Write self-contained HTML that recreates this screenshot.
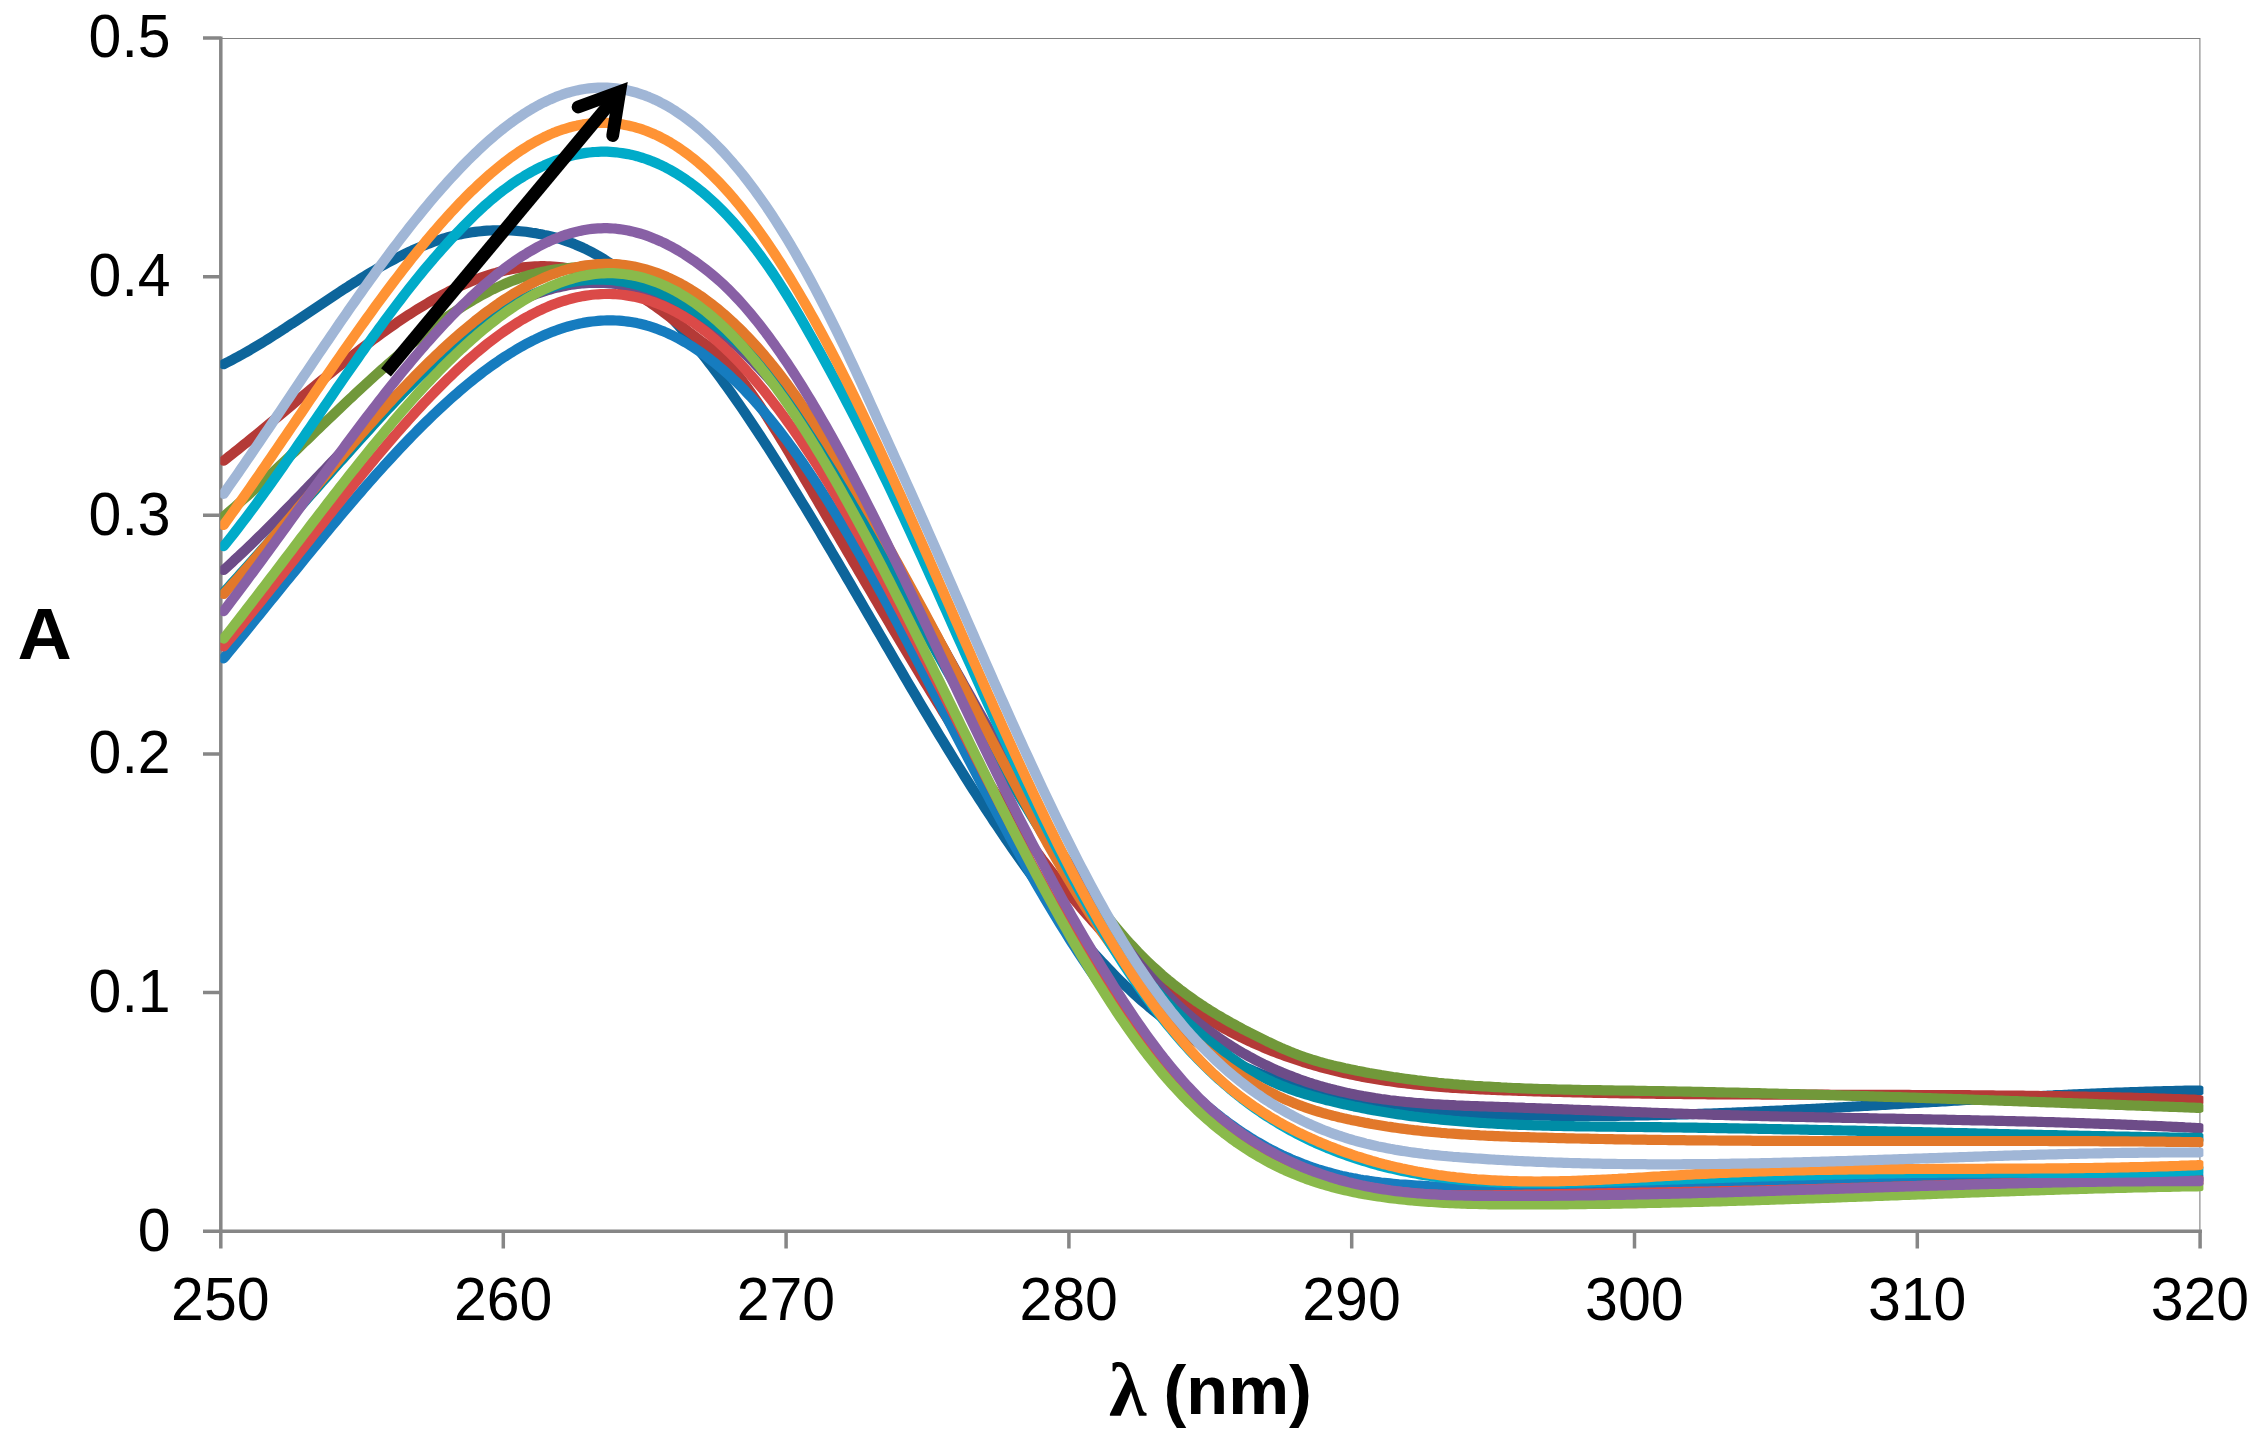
<!DOCTYPE html>
<html lang="en"><head><meta charset="utf-8"><title>UV absorption spectra</title>
<style>html,body{margin:0;padding:0;background:#fff}body{width:2262px;height:1450px;overflow:hidden}svg{display:block}text{font-family:"Liberation Sans",Arial,sans-serif;fill:#000}</style></head><body>
<svg width="2262" height="1450" viewBox="0 0 2262 1450">
<rect width="2262" height="1450" fill="#fff"/>
<defs><clipPath id="pc"><rect x="220.3" y="30" width="1983.1" height="1210"/></clipPath></defs>
<path d="M220.5,38.5 H2199.9 V1231.2" fill="none" stroke="#808080" stroke-width="1.1"/>
<path d="M220.8,36.4 V1248.5 M203,1231.2 H2202 M203,1231.2 H221 M203,992.6 H221 M203,754.0 H221 M203,515.3 H221 M203,276.7 H221 M203,38.1 H221 M220.8,1231.2 V1248.5 M503.3,1231.2 V1248.5 M786.1,1231.2 V1248.5 M1068.9,1231.2 V1248.5 M1351.7,1231.2 V1248.5 M1634.5,1231.2 V1248.5 M1917.3,1231.2 V1248.5 M2200.1,1231.2 V1248.5" fill="none" stroke="#868686" stroke-width="3.5"/>
<g clip-path="url(#pc)" fill="none" stroke-width="10.2" stroke-linejoin="round" stroke-linecap="round">
<path d="M223.7,364.2 L226.0,363.0 L229.0,361.5 L232.0,359.9 L235.0,358.3 L238.0,356.7 L241.0,355.1 L244.0,353.4 L247.0,351.7 L250.0,350.0 L253.0,348.2 L256.0,346.4 L259.0,344.6 L262.0,342.8 L265.0,341.0 L268.0,339.1 L271.0,337.2 L274.0,335.3 L277.0,333.4 L280.0,331.5 L283.0,329.5 L286.0,327.6 L289.0,325.6 L292.0,323.6 L295.0,321.7 L298.0,319.7 L301.0,317.7 L304.0,315.7 L307.0,313.7 L310.0,311.7 L313.0,309.7 L316.0,307.7 L319.0,305.7 L322.0,303.7 L325.0,301.7 L328.0,299.7 L331.0,297.7 L334.0,295.7 L337.0,293.7 L340.0,291.8 L343.0,289.8 L346.0,287.9 L349.0,285.9 L352.0,284.0 L355.0,282.1 L358.0,280.3 L361.0,278.4 L364.0,276.5 L367.0,274.7 L370.0,272.9 L373.0,271.1 L376.0,269.4 L379.0,267.6 L382.0,265.9 L385.0,264.2 L388.0,262.6 L391.0,261.0 L394.0,259.4 L397.0,257.8 L400.0,256.3 L403.0,254.8 L406.0,253.3 L409.0,251.9 L412.0,250.5 L415.0,249.2 L418.0,247.9 L421.0,246.6 L424.0,245.4 L427.0,244.2 L430.0,243.1 L433.0,242.0 L436.0,241.0 L439.0,240.0 L442.0,239.0 L445.0,238.1 L448.0,237.3 L451.0,236.5 L454.0,235.8 L457.0,235.1 L460.0,234.4 L463.0,233.8 L466.0,233.3 L469.0,232.8 L472.0,232.3 L475.0,231.9 L478.0,231.5 L481.0,231.2 L484.0,230.9 L487.0,230.7 L490.0,230.5 L493.0,230.4 L496.0,230.3 L499.0,230.3 L502.0,230.3 L505.0,230.3 L508.0,230.4 L511.0,230.5 L514.0,230.7 L517.0,230.9 L520.0,231.2 L523.0,231.5 L526.0,231.8 L529.0,232.2 L532.0,232.7 L535.0,233.1 L538.0,233.7 L541.0,234.2 L544.0,234.9 L547.0,235.5 L550.0,236.2 L553.0,237.0 L556.0,237.8 L559.0,238.7 L562.0,239.6 L565.0,240.6 L568.0,241.7 L571.0,242.8 L574.0,243.9 L577.0,245.2 L580.0,246.5 L583.0,247.8 L586.0,249.2 L589.0,250.7 L592.0,252.3 L595.0,253.9 L598.0,255.6 L601.0,257.4 L604.0,259.2 L607.0,261.2 L610.0,263.1 L613.0,265.2 L616.0,267.3 L619.0,269.5 L622.0,271.7 L625.0,274.0 L628.0,276.4 L631.0,278.9 L634.0,281.4 L637.0,283.9 L640.0,286.6 L643.0,289.3 L646.0,292.0 L649.0,294.8 L652.0,297.7 L655.0,300.6 L658.0,303.6 L661.0,306.7 L664.0,309.8 L667.0,312.9 L670.0,316.2 L673.0,319.4 L676.0,322.8 L679.0,326.1 L682.0,329.6 L685.0,333.1 L688.0,336.6 L691.0,340.2 L694.0,343.8 L697.0,347.5 L700.0,351.3 L703.0,355.1 L706.0,358.9 L709.0,362.8 L712.0,366.7 L715.0,370.7 L718.0,374.7 L721.0,378.8 L724.0,382.9 L727.0,387.1 L730.0,391.3 L733.0,395.5 L736.0,399.8 L739.0,404.1 L742.0,408.5 L745.0,412.9 L748.0,417.3 L751.0,421.8 L754.0,426.3 L757.0,430.8 L760.0,435.4 L763.0,440.0 L766.0,444.6 L769.0,449.3 L772.0,454.0 L775.0,458.7 L778.0,463.5 L781.0,468.2 L784.0,473.0 L787.0,477.8 L790.0,482.7 L793.0,487.6 L796.0,492.5 L799.0,497.4 L802.0,502.3 L805.0,507.2 L808.0,512.2 L811.0,517.2 L814.0,522.2 L817.0,527.2 L820.0,532.2 L823.0,537.3 L826.0,542.3 L829.0,547.4 L832.0,552.5 L835.0,557.6 L838.0,562.7 L841.0,567.8 L844.0,572.9 L847.0,578.1 L850.0,583.2 L853.0,588.3 L856.0,593.5 L859.0,598.6 L862.0,603.8 L865.0,609.0 L868.0,614.1 L871.0,619.3 L874.0,624.4 L877.0,629.6 L880.0,634.8 L883.0,639.9 L886.0,645.1 L889.0,650.2 L892.0,655.3 L895.0,660.5 L898.0,665.6 L901.0,670.7 L904.0,675.9 L907.0,681.0 L910.0,686.1 L913.0,691.1 L916.0,696.2 L919.0,701.3 L922.0,706.3 L925.0,711.4 L928.0,716.4 L931.0,721.4 L934.0,726.4 L937.0,731.4 L940.0,736.3 L943.0,741.2 L946.0,746.2 L949.0,751.0 L952.0,755.9 L955.0,760.8 L958.0,765.6 L961.0,770.4 L964.0,775.2 L967.0,779.9 L970.0,784.7 L973.0,789.4 L976.0,794.0 L979.0,798.7 L982.0,803.3 L985.0,807.9 L988.0,812.5 L991.0,817.0 L994.0,821.6 L997.0,826.0 L1000.0,830.5 L1003.0,834.9 L1006.0,839.3 L1009.0,843.7 L1012.0,848.0 L1015.0,852.3 L1018.0,856.6 L1021.0,860.9 L1024.0,865.1 L1027.0,869.2 L1030.0,873.4 L1033.0,877.5 L1036.0,881.6 L1039.0,885.6 L1042.0,889.6 L1045.0,893.6 L1048.0,897.5 L1051.0,901.4 L1054.0,905.3 L1057.0,909.1 L1060.0,912.9 L1063.0,916.7 L1066.0,920.4 L1069.0,924.1 L1072.0,927.7 L1075.0,931.3 L1078.0,934.9 L1081.0,938.4 L1084.0,941.9 L1087.0,945.3 L1090.0,948.7 L1093.0,952.1 L1096.0,955.4 L1099.0,958.7 L1102.0,961.9 L1105.0,965.1 L1108.0,968.3 L1111.0,971.4 L1114.0,974.5 L1117.0,977.5 L1120.0,980.5 L1123.0,983.4 L1126.0,986.3 L1129.0,989.1 L1132.0,991.9 L1135.0,994.7 L1138.0,997.4 L1141.0,1000.1 L1144.0,1002.7 L1147.0,1005.2 L1150.0,1007.8 L1153.0,1010.2 L1156.0,1012.7 L1159.0,1015.1 L1162.0,1017.4 L1165.0,1019.7 L1168.0,1022.0 L1171.0,1024.2 L1174.0,1026.4 L1177.0,1028.5 L1180.0,1030.6 L1183.0,1032.7 L1186.0,1034.7 L1189.0,1036.7 L1192.0,1038.7 L1195.0,1040.6 L1198.0,1042.4 L1201.0,1044.3 L1204.0,1046.1 L1207.0,1047.8 L1210.0,1049.6 L1213.0,1051.3 L1216.0,1052.9 L1219.0,1054.5 L1222.0,1056.1 L1225.0,1057.7 L1228.0,1059.2 L1231.0,1060.7 L1234.0,1062.2 L1237.0,1063.6 L1240.0,1065.0 L1243.0,1066.4 L1246.0,1067.7 L1249.0,1069.0 L1252.0,1070.3 L1255.0,1071.6 L1258.0,1072.8 L1261.0,1074.0 L1264.0,1075.1 L1267.0,1076.3 L1270.0,1077.4 L1273.0,1078.5 L1276.0,1079.6 L1279.0,1080.6 L1282.0,1081.6 L1285.0,1082.6 L1288.0,1083.6 L1291.0,1084.5 L1294.0,1085.5 L1297.0,1086.4 L1300.0,1087.2 L1303.0,1088.1 L1306.0,1088.9 L1309.0,1089.8 L1312.0,1090.6 L1315.0,1091.3 L1318.0,1092.1 L1321.0,1092.9 L1324.0,1093.6 L1327.0,1094.3 L1330.0,1095.0 L1333.0,1095.7 L1336.0,1096.3 L1339.0,1097.0 L1342.0,1097.6 L1345.0,1098.2 L1348.0,1098.8 L1351.0,1099.4 L1354.0,1100.0 L1357.0,1100.5 L1360.0,1101.1 L1363.0,1101.6 L1366.0,1102.1 L1369.0,1102.6 L1372.0,1103.1 L1375.0,1103.6 L1378.0,1104.1 L1381.0,1104.5 L1384.0,1105.0 L1387.0,1105.4 L1390.0,1105.8 L1393.0,1106.2 L1396.0,1106.6 L1399.0,1107.0 L1402.0,1107.4 L1405.0,1107.7 L1408.0,1108.1 L1411.0,1108.4 L1414.0,1108.8 L1417.0,1109.1 L1420.0,1109.4 L1423.0,1109.7 L1426.0,1110.0 L1429.0,1110.3 L1432.0,1110.5 L1435.0,1110.8 L1438.0,1111.0 L1441.0,1111.3 L1444.0,1111.5 L1447.0,1111.8 L1450.0,1112.0 L1453.0,1112.2 L1456.0,1112.4 L1459.0,1112.6 L1462.0,1112.8 L1465.0,1112.9 L1468.0,1113.1 L1471.0,1113.3 L1474.0,1113.4 L1477.0,1113.6 L1480.0,1113.7 L1483.0,1113.9 L1486.0,1114.0 L1489.0,1114.1 L1492.0,1114.3 L1495.0,1114.4 L1498.0,1114.5 L1501.0,1114.6 L1504.0,1114.7 L1507.0,1114.8 L1510.0,1114.9 L1513.0,1115.0 L1516.0,1115.1 L1519.0,1115.1 L1522.0,1115.2 L1525.0,1115.3 L1528.0,1115.4 L1531.0,1115.4 L1534.0,1115.5 L1537.0,1115.5 L1540.0,1115.6 L1543.0,1115.6 L1546.0,1115.7 L1549.0,1115.7 L1552.0,1115.8 L1555.0,1115.8 L1558.0,1115.8 L1561.0,1115.9 L1564.0,1115.9 L1567.0,1115.9 L1570.0,1115.9 L1573.0,1115.9 L1576.0,1115.9 L1579.0,1115.9 L1582.0,1116.0 L1585.0,1116.0 L1588.0,1116.0 L1591.0,1115.9 L1594.0,1115.9 L1597.0,1115.9 L1600.0,1115.9 L1603.0,1115.9 L1606.0,1115.9 L1609.0,1115.9 L1612.0,1115.8 L1615.0,1115.8 L1618.0,1115.8 L1621.0,1115.7 L1624.0,1115.7 L1627.0,1115.6 L1630.0,1115.6 L1633.0,1115.6 L1636.0,1115.5 L1639.0,1115.5 L1642.0,1115.4 L1645.0,1115.3 L1648.0,1115.3 L1651.0,1115.2 L1654.0,1115.2 L1657.0,1115.1 L1660.0,1115.0 L1663.0,1114.9 L1666.0,1114.9 L1669.0,1114.8 L1672.0,1114.7 L1675.0,1114.6 L1678.0,1114.5 L1681.0,1114.5 L1684.0,1114.4 L1687.0,1114.3 L1690.0,1114.2 L1693.0,1114.1 L1696.0,1114.0 L1699.0,1113.9 L1702.0,1113.8 L1705.0,1113.7 L1708.0,1113.6 L1711.0,1113.5 L1714.0,1113.4 L1717.0,1113.3 L1720.0,1113.1 L1723.0,1113.0 L1726.0,1112.9 L1729.0,1112.8 L1732.0,1112.7 L1735.0,1112.5 L1738.0,1112.4 L1741.0,1112.3 L1744.0,1112.2 L1747.0,1112.0 L1750.0,1111.9 L1753.0,1111.8 L1756.0,1111.6 L1759.0,1111.5 L1762.0,1111.4 L1765.0,1111.2 L1768.0,1111.1 L1771.0,1110.9 L1774.0,1110.8 L1777.0,1110.6 L1780.0,1110.5 L1783.0,1110.4 L1786.0,1110.2 L1789.0,1110.1 L1792.0,1109.9 L1795.0,1109.8 L1798.0,1109.6 L1801.0,1109.4 L1804.0,1109.3 L1807.0,1109.1 L1810.0,1109.0 L1813.0,1108.8 L1816.0,1108.7 L1819.0,1108.5 L1822.0,1108.3 L1825.0,1108.2 L1828.0,1108.0 L1831.0,1107.8 L1834.0,1107.7 L1837.0,1107.5 L1840.0,1107.3 L1843.0,1107.2 L1846.0,1107.0 L1849.0,1106.8 L1852.0,1106.7 L1855.0,1106.5 L1858.0,1106.3 L1861.0,1106.2 L1864.0,1106.0 L1867.0,1105.8 L1870.0,1105.6 L1873.0,1105.5 L1876.0,1105.3 L1879.0,1105.1 L1882.0,1104.9 L1885.0,1104.8 L1888.0,1104.6 L1891.0,1104.4 L1894.0,1104.2 L1897.0,1104.1 L1900.0,1103.9 L1903.0,1103.7 L1906.0,1103.5 L1909.0,1103.4 L1912.0,1103.2 L1915.0,1103.0 L1918.0,1102.8 L1921.0,1102.7 L1924.0,1102.5 L1927.0,1102.3 L1930.0,1102.1 L1933.0,1102.0 L1936.0,1101.8 L1939.0,1101.6 L1942.0,1101.4 L1945.0,1101.3 L1948.0,1101.1 L1951.0,1100.9 L1954.0,1100.7 L1957.0,1100.6 L1960.0,1100.4 L1963.0,1100.2 L1966.0,1100.0 L1969.0,1099.9 L1972.0,1099.7 L1975.0,1099.5 L1978.0,1099.4 L1981.0,1099.2 L1984.0,1099.0 L1987.0,1098.9 L1990.0,1098.7 L1993.0,1098.5 L1996.0,1098.4 L1999.0,1098.2 L2002.0,1098.0 L2005.0,1097.9 L2008.0,1097.7 L2011.0,1097.5 L2014.0,1097.4 L2017.0,1097.2 L2020.0,1097.1 L2023.0,1096.9 L2026.0,1096.7 L2029.0,1096.6 L2032.0,1096.4 L2035.0,1096.3 L2038.0,1096.1 L2041.0,1096.0 L2044.0,1095.8 L2047.0,1095.7 L2050.0,1095.5 L2053.0,1095.4 L2056.0,1095.2 L2059.0,1095.1 L2062.0,1095.0 L2065.0,1094.8 L2068.0,1094.7 L2071.0,1094.5 L2074.0,1094.4 L2077.0,1094.3 L2080.0,1094.1 L2083.0,1094.0 L2086.0,1093.9 L2089.0,1093.8 L2092.0,1093.6 L2095.0,1093.5 L2098.0,1093.4 L2101.0,1093.3 L2104.0,1093.1 L2107.0,1093.0 L2110.0,1092.9 L2113.0,1092.8 L2116.0,1092.7 L2119.0,1092.6 L2122.0,1092.5 L2125.0,1092.4 L2128.0,1092.3 L2131.0,1092.2 L2134.0,1092.1 L2137.0,1092.0 L2140.0,1091.9 L2143.0,1091.8 L2146.0,1091.7 L2149.0,1091.6 L2152.0,1091.5 L2155.0,1091.4 L2158.0,1091.3 L2161.0,1091.3 L2164.0,1091.2 L2167.0,1091.1 L2170.0,1091.0 L2173.0,1091.0 L2176.0,1090.9 L2179.0,1090.8 L2182.0,1090.8 L2185.0,1090.7 L2188.0,1090.7 L2191.0,1090.6 L2194.0,1090.6 L2197.0,1090.5 L2200.0,1090.5" stroke="#0D659B"/>
<path d="M223.7,460.7 L226.0,458.9 L229.0,456.5 L232.0,454.2 L235.0,451.8 L238.0,449.4 L241.0,447.0 L244.0,444.6 L247.0,442.2 L250.0,439.7 L253.0,437.3 L256.0,434.8 L259.0,432.4 L262.0,429.9 L265.0,427.4 L268.0,424.9 L271.0,422.4 L274.0,420.0 L277.0,417.5 L280.0,415.0 L283.0,412.5 L286.0,410.0 L289.0,407.5 L292.0,405.0 L295.0,402.4 L298.0,399.9 L301.0,397.4 L304.0,394.9 L307.0,392.5 L310.0,390.0 L313.0,387.5 L316.0,385.0 L319.0,382.5 L322.0,380.1 L325.0,377.6 L328.0,375.1 L331.0,372.7 L334.0,370.3 L337.0,367.8 L340.0,365.4 L343.0,363.0 L346.0,360.6 L349.0,358.3 L352.0,355.9 L355.0,353.6 L358.0,351.2 L361.0,348.9 L364.0,346.6 L367.0,344.3 L370.0,342.1 L373.0,339.8 L376.0,337.6 L379.0,335.4 L382.0,333.2 L385.0,331.1 L388.0,328.9 L391.0,326.8 L394.0,324.7 L397.0,322.6 L400.0,320.6 L403.0,318.6 L406.0,316.6 L409.0,314.6 L412.0,312.7 L415.0,310.8 L418.0,308.9 L421.0,307.1 L424.0,305.3 L427.0,303.5 L430.0,301.7 L433.0,300.0 L436.0,298.3 L439.0,296.7 L442.0,295.1 L445.0,293.5 L448.0,291.9 L451.0,290.4 L454.0,289.0 L457.0,287.5 L460.0,286.2 L463.0,284.8 L466.0,283.5 L469.0,282.2 L472.0,281.0 L475.0,279.8 L478.0,278.7 L481.0,277.6 L484.0,276.6 L487.0,275.6 L490.0,274.6 L493.0,273.7 L496.0,272.9 L499.0,272.0 L502.0,271.3 L505.0,270.6 L508.0,269.9 L511.0,269.3 L514.0,268.8 L517.0,268.2 L520.0,267.8 L523.0,267.4 L526.0,267.1 L529.0,266.8 L532.0,266.6 L535.0,266.4 L538.0,266.3 L541.0,266.2 L544.0,266.2 L547.0,266.3 L550.0,266.4 L553.0,266.5 L556.0,266.8 L559.0,267.1 L562.0,267.4 L565.0,267.8 L568.0,268.2 L571.0,268.7 L574.0,269.3 L577.0,269.9 L580.0,270.6 L583.0,271.3 L586.0,272.1 L589.0,273.0 L592.0,273.9 L595.0,274.8 L598.0,275.9 L601.0,276.9 L604.0,278.1 L607.0,279.2 L610.0,280.5 L613.0,281.8 L616.0,283.2 L619.0,284.6 L622.0,286.1 L625.0,287.6 L628.0,289.2 L631.0,290.8 L634.0,292.5 L637.0,294.3 L640.0,296.1 L643.0,298.0 L646.0,299.9 L649.0,301.9 L652.0,304.0 L655.0,306.1 L658.0,308.2 L661.0,310.4 L664.0,312.7 L667.0,315.0 L670.0,317.3 L673.0,319.6 L676.0,321.9 L679.0,324.3 L682.0,326.6 L685.0,328.9 L688.0,331.2 L691.0,333.5 L694.0,335.8 L697.0,338.1 L700.0,340.3 L703.0,342.5 L706.0,344.6 L709.0,346.8 L712.0,349.1 L715.0,351.4 L718.0,353.9 L721.0,356.6 L724.0,359.5 L727.0,362.5 L730.0,365.8 L733.0,369.2 L736.0,372.7 L739.0,376.5 L742.0,380.3 L745.0,384.3 L748.0,388.4 L751.0,392.6 L754.0,397.0 L757.0,401.4 L760.0,405.9 L763.0,410.5 L766.0,415.2 L769.0,419.9 L772.0,424.7 L775.0,429.5 L778.0,434.4 L781.0,439.3 L784.0,444.2 L787.0,449.2 L790.0,454.2 L793.0,459.3 L796.0,464.3 L799.0,469.4 L802.0,474.5 L805.0,479.6 L808.0,484.6 L811.0,489.7 L814.0,494.8 L817.0,499.9 L820.0,505.1 L823.0,510.2 L826.0,515.3 L829.0,520.4 L832.0,525.5 L835.0,530.6 L838.0,535.8 L841.0,540.9 L844.0,546.0 L847.0,551.1 L850.0,556.2 L853.0,561.4 L856.0,566.5 L859.0,571.6 L862.0,576.7 L865.0,581.8 L868.0,586.9 L871.0,592.0 L874.0,597.1 L877.0,602.2 L880.0,607.3 L883.0,612.4 L886.0,617.4 L889.0,622.5 L892.0,627.6 L895.0,632.6 L898.0,637.6 L901.0,642.7 L904.0,647.7 L907.0,652.7 L910.0,657.7 L913.0,662.7 L916.0,667.7 L919.0,672.6 L922.0,677.6 L925.0,682.5 L928.0,687.4 L931.0,692.3 L934.0,697.2 L937.0,702.1 L940.0,706.9 L943.0,711.8 L946.0,716.6 L949.0,721.4 L952.0,726.2 L955.0,731.0 L958.0,735.7 L961.0,740.5 L964.0,745.2 L967.0,749.9 L970.0,754.5 L973.0,759.2 L976.0,763.8 L979.0,768.4 L982.0,773.0 L985.0,777.5 L988.0,782.1 L991.0,786.6 L994.0,791.1 L997.0,795.5 L1000.0,800.0 L1003.0,804.4 L1006.0,808.7 L1009.0,813.1 L1012.0,817.4 L1015.0,821.7 L1018.0,826.0 L1021.0,830.2 L1024.0,834.4 L1027.0,838.6 L1030.0,842.7 L1033.0,846.8 L1036.0,850.9 L1039.0,854.9 L1042.0,859.0 L1045.0,862.9 L1048.0,866.9 L1051.0,870.8 L1054.0,874.7 L1057.0,878.5 L1060.0,882.3 L1063.0,886.1 L1066.0,889.8 L1069.0,893.5 L1072.0,897.1 L1075.0,900.8 L1078.0,904.3 L1081.0,907.9 L1084.0,911.4 L1087.0,914.8 L1090.0,918.2 L1093.0,921.6 L1096.0,924.9 L1099.0,928.2 L1102.0,931.4 L1105.0,934.6 L1108.0,937.8 L1111.0,940.9 L1114.0,944.0 L1117.0,947.0 L1120.0,949.9 L1123.0,952.9 L1126.0,955.8 L1129.0,958.6 L1132.0,961.4 L1135.0,964.2 L1138.0,966.9 L1141.0,969.6 L1144.0,972.2 L1147.0,974.8 L1150.0,977.3 L1153.0,979.8 L1156.0,982.3 L1159.0,984.7 L1162.0,987.1 L1165.0,989.5 L1168.0,991.8 L1171.0,994.1 L1174.0,996.3 L1177.0,998.5 L1180.0,1000.7 L1183.0,1002.8 L1186.0,1004.9 L1189.0,1007.0 L1192.0,1009.0 L1195.0,1011.0 L1198.0,1012.9 L1201.0,1014.8 L1204.0,1016.7 L1207.0,1018.6 L1210.0,1020.4 L1213.0,1022.2 L1216.0,1023.9 L1219.0,1025.6 L1222.0,1027.3 L1225.0,1029.0 L1228.0,1030.6 L1231.0,1032.2 L1234.0,1033.7 L1237.0,1035.3 L1240.0,1036.8 L1243.0,1038.2 L1246.0,1039.7 L1249.0,1041.1 L1252.0,1042.5 L1255.0,1043.8 L1258.0,1045.1 L1261.0,1046.4 L1264.0,1047.7 L1267.0,1049.0 L1270.0,1050.2 L1273.0,1051.4 L1276.0,1052.5 L1279.0,1053.7 L1282.0,1054.8 L1285.0,1055.9 L1288.0,1057.0 L1291.0,1058.0 L1294.0,1059.0 L1297.0,1060.0 L1300.0,1061.0 L1303.0,1062.0 L1306.0,1062.9 L1309.0,1063.8 L1312.0,1064.7 L1315.0,1065.6 L1318.0,1066.4 L1321.0,1067.3 L1324.0,1068.1 L1327.0,1068.9 L1330.0,1069.6 L1333.0,1070.4 L1336.0,1071.1 L1339.0,1071.8 L1342.0,1072.5 L1345.0,1073.2 L1348.0,1073.8 L1351.0,1074.5 L1354.0,1075.1 L1357.0,1075.7 L1360.0,1076.3 L1363.0,1076.9 L1366.0,1077.4 L1369.0,1078.0 L1372.0,1078.5 L1375.0,1079.0 L1378.0,1079.5 L1381.0,1080.0 L1384.0,1080.4 L1387.0,1080.9 L1390.0,1081.3 L1393.0,1081.8 L1396.0,1082.2 L1399.0,1082.6 L1402.0,1082.9 L1405.0,1083.3 L1408.0,1083.7 L1411.0,1084.0 L1414.0,1084.4 L1417.0,1084.7 L1420.0,1085.0 L1423.0,1085.3 L1426.0,1085.6 L1429.0,1085.9 L1432.0,1086.1 L1435.0,1086.4 L1438.0,1086.6 L1441.0,1086.9 L1444.0,1087.1 L1447.0,1087.3 L1450.0,1087.6 L1453.0,1087.8 L1456.0,1088.0 L1459.0,1088.2 L1462.0,1088.3 L1465.0,1088.5 L1468.0,1088.7 L1471.0,1088.9 L1474.0,1089.0 L1477.0,1089.2 L1480.0,1089.3 L1483.0,1089.4 L1486.0,1089.6 L1489.0,1089.7 L1492.0,1089.8 L1495.0,1090.0 L1498.0,1090.1 L1501.0,1090.2 L1504.0,1090.3 L1507.0,1090.4 L1510.0,1090.5 L1513.0,1090.6 L1516.0,1090.7 L1519.0,1090.8 L1522.0,1090.9 L1525.0,1091.0 L1528.0,1091.1 L1531.0,1091.2 L1534.0,1091.3 L1537.0,1091.4 L1540.0,1091.5 L1543.0,1091.6 L1546.0,1091.6 L1549.0,1091.7 L1552.0,1091.8 L1555.0,1091.9 L1558.0,1092.0 L1561.0,1092.0 L1564.0,1092.1 L1567.0,1092.2 L1570.0,1092.2 L1573.0,1092.3 L1576.0,1092.4 L1579.0,1092.5 L1582.0,1092.5 L1585.0,1092.6 L1588.0,1092.6 L1591.0,1092.7 L1594.0,1092.8 L1597.0,1092.8 L1600.0,1092.9 L1603.0,1092.9 L1606.0,1093.0 L1609.0,1093.1 L1612.0,1093.1 L1615.0,1093.2 L1618.0,1093.2 L1621.0,1093.3 L1624.0,1093.3 L1627.0,1093.4 L1630.0,1093.4 L1633.0,1093.4 L1636.0,1093.5 L1639.0,1093.5 L1642.0,1093.6 L1645.0,1093.6 L1648.0,1093.7 L1651.0,1093.7 L1654.0,1093.7 L1657.0,1093.8 L1660.0,1093.8 L1663.0,1093.8 L1666.0,1093.9 L1669.0,1093.9 L1672.0,1093.9 L1675.0,1094.0 L1678.0,1094.0 L1681.0,1094.0 L1684.0,1094.1 L1687.0,1094.1 L1690.0,1094.1 L1693.0,1094.1 L1696.0,1094.2 L1699.0,1094.2 L1702.0,1094.2 L1705.0,1094.2 L1708.0,1094.3 L1711.0,1094.3 L1714.0,1094.3 L1717.0,1094.3 L1720.0,1094.3 L1723.0,1094.4 L1726.0,1094.4 L1729.0,1094.4 L1732.0,1094.4 L1735.0,1094.4 L1738.0,1094.4 L1741.0,1094.5 L1744.0,1094.5 L1747.0,1094.5 L1750.0,1094.5 L1753.0,1094.5 L1756.0,1094.5 L1759.0,1094.5 L1762.0,1094.6 L1765.0,1094.6 L1768.0,1094.6 L1771.0,1094.6 L1774.0,1094.6 L1777.0,1094.6 L1780.0,1094.6 L1783.0,1094.6 L1786.0,1094.6 L1789.0,1094.6 L1792.0,1094.7 L1795.0,1094.7 L1798.0,1094.7 L1801.0,1094.7 L1804.0,1094.7 L1807.0,1094.7 L1810.0,1094.7 L1813.0,1094.7 L1816.0,1094.7 L1819.0,1094.7 L1822.0,1094.7 L1825.0,1094.7 L1828.0,1094.7 L1831.0,1094.8 L1834.0,1094.8 L1837.0,1094.8 L1840.0,1094.8 L1843.0,1094.8 L1846.0,1094.8 L1849.0,1094.8 L1852.0,1094.8 L1855.0,1094.8 L1858.0,1094.8 L1861.0,1094.8 L1864.0,1094.8 L1867.0,1094.8 L1870.0,1094.8 L1873.0,1094.8 L1876.0,1094.9 L1879.0,1094.9 L1882.0,1094.9 L1885.0,1094.9 L1888.0,1094.9 L1891.0,1094.9 L1894.0,1094.9 L1897.0,1094.9 L1900.0,1094.9 L1903.0,1094.9 L1906.0,1094.9 L1909.0,1094.9 L1912.0,1095.0 L1915.0,1095.0 L1918.0,1095.0 L1921.0,1095.0 L1924.0,1095.0 L1927.0,1095.0 L1930.0,1095.0 L1933.0,1095.0 L1936.0,1095.1 L1939.0,1095.1 L1942.0,1095.1 L1945.0,1095.1 L1948.0,1095.1 L1951.0,1095.1 L1954.0,1095.1 L1957.0,1095.2 L1960.0,1095.2 L1963.0,1095.2 L1966.0,1095.2 L1969.0,1095.2 L1972.0,1095.3 L1975.0,1095.3 L1978.0,1095.3 L1981.0,1095.3 L1984.0,1095.4 L1987.0,1095.4 L1990.0,1095.4 L1993.0,1095.4 L1996.0,1095.5 L1999.0,1095.5 L2002.0,1095.5 L2005.0,1095.5 L2008.0,1095.6 L2011.0,1095.6 L2014.0,1095.6 L2017.0,1095.7 L2020.0,1095.7 L2023.0,1095.7 L2026.0,1095.8 L2029.0,1095.8 L2032.0,1095.8 L2035.0,1095.9 L2038.0,1095.9 L2041.0,1096.0 L2044.0,1096.0 L2047.0,1096.0 L2050.0,1096.1 L2053.0,1096.1 L2056.0,1096.2 L2059.0,1096.2 L2062.0,1096.3 L2065.0,1096.3 L2068.0,1096.4 L2071.0,1096.4 L2074.0,1096.5 L2077.0,1096.5 L2080.0,1096.6 L2083.0,1096.6 L2086.0,1096.7 L2089.0,1096.8 L2092.0,1096.8 L2095.0,1096.9 L2098.0,1096.9 L2101.0,1097.0 L2104.0,1097.1 L2107.0,1097.1 L2110.0,1097.2 L2113.0,1097.3 L2116.0,1097.3 L2119.0,1097.4 L2122.0,1097.5 L2125.0,1097.6 L2128.0,1097.6 L2131.0,1097.7 L2134.0,1097.8 L2137.0,1097.9 L2140.0,1098.0 L2143.0,1098.1 L2146.0,1098.1 L2149.0,1098.2 L2152.0,1098.3 L2155.0,1098.4 L2158.0,1098.5 L2161.0,1098.6 L2164.0,1098.7 L2167.0,1098.8 L2170.0,1098.9 L2173.0,1099.0 L2176.0,1099.1 L2179.0,1099.2 L2182.0,1099.3 L2185.0,1099.4 L2188.0,1099.5 L2191.0,1099.6 L2194.0,1099.7 L2197.0,1099.9 L2200.0,1100.0" stroke="#B43A37"/>
<path d="M223.7,516.5 L226.0,514.5 L229.0,512.0 L232.0,509.4 L235.0,506.8 L238.0,504.1 L241.0,501.5 L244.0,498.8 L247.0,496.1 L250.0,493.4 L253.0,490.7 L256.0,488.0 L259.0,485.2 L262.0,482.5 L265.0,479.7 L268.0,476.9 L271.0,474.1 L274.0,471.3 L277.0,468.4 L280.0,465.6 L283.0,462.8 L286.0,459.9 L289.0,457.1 L292.0,454.2 L295.0,451.4 L298.0,448.5 L301.0,445.6 L304.0,442.7 L307.0,439.9 L310.0,437.0 L313.0,434.1 L316.0,431.2 L319.0,428.3 L322.0,425.4 L325.0,422.6 L328.0,419.7 L331.0,416.8 L334.0,414.0 L337.0,411.1 L340.0,408.3 L343.0,405.4 L346.0,402.6 L349.0,399.7 L352.0,396.9 L355.0,394.1 L358.0,391.3 L361.0,388.5 L364.0,385.8 L367.0,383.0 L370.0,380.3 L373.0,377.5 L376.0,374.8 L379.0,372.1 L382.0,369.4 L385.0,366.8 L388.0,364.1 L391.0,361.5 L394.0,358.9 L397.0,356.3 L400.0,353.7 L403.0,351.2 L406.0,348.7 L409.0,346.2 L412.0,343.7 L415.0,341.3 L418.0,338.9 L421.0,336.5 L424.0,334.1 L427.0,331.8 L430.0,329.5 L433.0,327.2 L436.0,325.0 L439.0,322.8 L442.0,320.6 L445.0,318.4 L448.0,316.3 L451.0,314.3 L454.0,312.2 L457.0,310.2 L460.0,308.3 L463.0,306.3 L466.0,304.4 L469.0,302.6 L472.0,300.8 L475.0,299.0 L478.0,297.3 L481.0,295.6 L484.0,294.0 L487.0,292.4 L490.0,290.8 L493.0,289.3 L496.0,287.9 L499.0,286.5 L502.0,285.1 L505.0,283.8 L508.0,282.5 L511.0,281.3 L514.0,280.2 L517.0,279.1 L520.0,278.0 L523.0,277.0 L526.0,276.1 L529.0,275.2 L532.0,274.3 L535.0,273.6 L538.0,272.8 L541.0,272.1 L544.0,271.5 L547.0,270.9 L550.0,270.4 L553.0,269.9 L556.0,269.4 L559.0,269.0 L562.0,268.6 L565.0,268.3 L568.0,268.0 L571.0,267.7 L574.0,267.5 L577.0,267.3 L580.0,267.2 L583.0,267.0 L586.0,267.0 L589.0,266.9 L592.0,266.9 L595.0,266.9 L598.0,267.0 L601.0,267.1 L604.0,267.2 L607.0,267.3 L610.0,267.5 L613.0,267.7 L616.0,268.0 L619.0,268.3 L622.0,268.7 L625.0,269.1 L628.0,269.5 L631.0,270.0 L634.0,270.5 L637.0,271.1 L640.0,271.8 L643.0,272.5 L646.0,273.2 L649.0,274.0 L652.0,274.9 L655.0,275.8 L658.0,276.7 L661.0,277.8 L664.0,278.9 L667.0,280.0 L670.0,281.2 L673.0,282.5 L676.0,283.9 L679.0,285.3 L682.0,286.8 L685.0,288.4 L688.0,290.0 L691.0,291.7 L694.0,293.5 L697.0,295.3 L700.0,297.3 L703.0,299.3 L706.0,301.4 L709.0,303.6 L712.0,305.8 L715.0,308.2 L718.0,310.6 L721.0,313.1 L724.0,315.7 L727.0,318.4 L730.0,321.2 L733.0,324.0 L736.0,326.9 L739.0,329.9 L742.0,332.9 L745.0,336.0 L748.0,339.2 L751.0,342.5 L754.0,345.9 L757.0,349.3 L760.0,352.7 L763.0,356.3 L766.0,359.9 L769.0,363.5 L772.0,367.3 L775.0,371.1 L778.0,374.9 L781.0,378.8 L784.0,382.8 L787.0,386.8 L790.0,390.9 L793.0,395.0 L796.0,399.2 L799.0,403.5 L802.0,407.8 L805.0,412.1 L808.0,416.5 L811.0,421.0 L814.0,425.5 L817.0,430.0 L820.0,434.6 L823.0,439.2 L826.0,443.9 L829.0,448.6 L832.0,453.4 L835.0,458.2 L838.0,463.0 L841.0,467.9 L844.0,472.8 L847.0,477.7 L850.0,482.7 L853.0,487.7 L856.0,492.7 L859.0,497.8 L862.0,502.9 L865.0,508.0 L868.0,513.2 L871.0,518.4 L874.0,523.6 L877.0,528.8 L880.0,534.1 L883.0,539.4 L886.0,544.7 L889.0,550.0 L892.0,555.3 L895.0,560.7 L898.0,566.0 L901.0,571.4 L904.0,576.8 L907.0,582.3 L910.0,587.7 L913.0,593.1 L916.0,598.6 L919.0,604.0 L922.0,609.5 L925.0,615.0 L928.0,620.4 L931.0,625.9 L934.0,631.4 L937.0,636.9 L940.0,642.4 L943.0,647.9 L946.0,653.4 L949.0,658.9 L952.0,664.3 L955.0,669.8 L958.0,675.3 L961.0,680.8 L964.0,686.2 L967.0,691.7 L970.0,697.1 L973.0,702.5 L976.0,707.9 L979.0,713.3 L982.0,718.7 L985.0,724.1 L988.0,729.5 L991.0,734.8 L994.0,740.1 L997.0,745.4 L1000.0,750.7 L1003.0,756.0 L1006.0,761.2 L1009.0,766.4 L1012.0,771.6 L1015.0,776.8 L1018.0,781.9 L1021.0,787.0 L1024.0,792.1 L1027.0,797.1 L1030.0,802.1 L1033.0,807.1 L1036.0,812.0 L1039.0,816.9 L1042.0,821.8 L1045.0,826.7 L1048.0,831.5 L1051.0,836.2 L1054.0,840.9 L1057.0,845.6 L1060.0,850.2 L1063.0,854.8 L1066.0,859.4 L1069.0,863.9 L1072.0,868.3 L1075.0,872.7 L1078.0,877.1 L1081.0,881.3 L1084.0,885.6 L1087.0,889.8 L1090.0,893.9 L1093.0,898.0 L1096.0,902.1 L1099.0,906.0 L1102.0,909.9 L1105.0,913.8 L1108.0,917.6 L1111.0,921.3 L1114.0,925.0 L1117.0,928.6 L1120.0,932.1 L1123.0,935.6 L1126.0,939.0 L1129.0,942.4 L1132.0,945.6 L1135.0,948.8 L1138.0,952.0 L1141.0,955.0 L1144.0,958.0 L1147.0,961.0 L1150.0,963.9 L1153.0,966.7 L1156.0,969.4 L1159.0,972.1 L1162.0,974.8 L1165.0,977.3 L1168.0,979.9 L1171.0,982.3 L1174.0,984.8 L1177.0,987.1 L1180.0,989.5 L1183.0,991.7 L1186.0,994.0 L1189.0,996.2 L1192.0,998.3 L1195.0,1000.4 L1198.0,1002.4 L1201.0,1004.5 L1204.0,1006.4 L1207.0,1008.4 L1210.0,1010.3 L1213.0,1012.1 L1216.0,1014.0 L1219.0,1015.8 L1222.0,1017.5 L1225.0,1019.3 L1228.0,1021.0 L1231.0,1022.7 L1234.0,1024.3 L1237.0,1026.0 L1240.0,1027.6 L1243.0,1029.2 L1246.0,1030.7 L1249.0,1032.3 L1252.0,1033.8 L1255.0,1035.3 L1258.0,1036.8 L1261.0,1038.3 L1264.0,1039.8 L1267.0,1041.3 L1270.0,1042.7 L1273.0,1044.1 L1276.0,1045.5 L1279.0,1046.9 L1282.0,1048.3 L1285.0,1049.6 L1288.0,1050.8 L1291.0,1052.1 L1294.0,1053.3 L1297.0,1054.4 L1300.0,1055.6 L1303.0,1056.6 L1306.0,1057.7 L1309.0,1058.6 L1312.0,1059.6 L1315.0,1060.5 L1318.0,1061.4 L1321.0,1062.3 L1324.0,1063.1 L1327.0,1063.9 L1330.0,1064.6 L1333.0,1065.4 L1336.0,1066.1 L1339.0,1066.8 L1342.0,1067.5 L1345.0,1068.2 L1348.0,1068.8 L1351.0,1069.4 L1354.0,1070.0 L1357.0,1070.7 L1360.0,1071.2 L1363.0,1071.8 L1366.0,1072.4 L1369.0,1073.0 L1372.0,1073.5 L1375.0,1074.0 L1378.0,1074.5 L1381.0,1075.1 L1384.0,1075.5 L1387.0,1076.0 L1390.0,1076.5 L1393.0,1077.0 L1396.0,1077.4 L1399.0,1077.9 L1402.0,1078.3 L1405.0,1078.7 L1408.0,1079.1 L1411.0,1079.5 L1414.0,1079.9 L1417.0,1080.3 L1420.0,1080.6 L1423.0,1081.0 L1426.0,1081.4 L1429.0,1081.7 L1432.0,1082.0 L1435.0,1082.3 L1438.0,1082.7 L1441.0,1083.0 L1444.0,1083.3 L1447.0,1083.5 L1450.0,1083.8 L1453.0,1084.1 L1456.0,1084.3 L1459.0,1084.6 L1462.0,1084.8 L1465.0,1085.1 L1468.0,1085.3 L1471.0,1085.5 L1474.0,1085.8 L1477.0,1086.0 L1480.0,1086.2 L1483.0,1086.4 L1486.0,1086.5 L1489.0,1086.7 L1492.0,1086.9 L1495.0,1087.1 L1498.0,1087.2 L1501.0,1087.4 L1504.0,1087.5 L1507.0,1087.7 L1510.0,1087.8 L1513.0,1088.0 L1516.0,1088.1 L1519.0,1088.2 L1522.0,1088.3 L1525.0,1088.5 L1528.0,1088.6 L1531.0,1088.7 L1534.0,1088.8 L1537.0,1088.9 L1540.0,1089.0 L1543.0,1089.1 L1546.0,1089.1 L1549.0,1089.2 L1552.0,1089.3 L1555.0,1089.4 L1558.0,1089.5 L1561.0,1089.5 L1564.0,1089.6 L1567.0,1089.7 L1570.0,1089.7 L1573.0,1089.8 L1576.0,1089.8 L1579.0,1089.9 L1582.0,1090.0 L1585.0,1090.0 L1588.0,1090.1 L1591.0,1090.1 L1594.0,1090.2 L1597.0,1090.2 L1600.0,1090.2 L1603.0,1090.3 L1606.0,1090.3 L1609.0,1090.4 L1612.0,1090.4 L1615.0,1090.5 L1618.0,1090.5 L1621.0,1090.6 L1624.0,1090.6 L1627.0,1090.6 L1630.0,1090.7 L1633.0,1090.7 L1636.0,1090.8 L1639.0,1090.8 L1642.0,1090.9 L1645.0,1090.9 L1648.0,1091.0 L1651.0,1091.0 L1654.0,1091.1 L1657.0,1091.1 L1660.0,1091.2 L1663.0,1091.2 L1666.0,1091.3 L1669.0,1091.3 L1672.0,1091.4 L1675.0,1091.4 L1678.0,1091.5 L1681.0,1091.5 L1684.0,1091.6 L1687.0,1091.6 L1690.0,1091.7 L1693.0,1091.8 L1696.0,1091.8 L1699.0,1091.9 L1702.0,1091.9 L1705.0,1092.0 L1708.0,1092.1 L1711.0,1092.1 L1714.0,1092.2 L1717.0,1092.3 L1720.0,1092.3 L1723.0,1092.4 L1726.0,1092.5 L1729.0,1092.5 L1732.0,1092.6 L1735.0,1092.7 L1738.0,1092.7 L1741.0,1092.8 L1744.0,1092.9 L1747.0,1092.9 L1750.0,1093.0 L1753.0,1093.1 L1756.0,1093.2 L1759.0,1093.2 L1762.0,1093.3 L1765.0,1093.4 L1768.0,1093.5 L1771.0,1093.5 L1774.0,1093.6 L1777.0,1093.7 L1780.0,1093.8 L1783.0,1093.8 L1786.0,1093.9 L1789.0,1094.0 L1792.0,1094.1 L1795.0,1094.1 L1798.0,1094.2 L1801.0,1094.3 L1804.0,1094.4 L1807.0,1094.5 L1810.0,1094.6 L1813.0,1094.6 L1816.0,1094.7 L1819.0,1094.8 L1822.0,1094.9 L1825.0,1095.0 L1828.0,1095.1 L1831.0,1095.1 L1834.0,1095.2 L1837.0,1095.3 L1840.0,1095.4 L1843.0,1095.5 L1846.0,1095.6 L1849.0,1095.7 L1852.0,1095.8 L1855.0,1095.9 L1858.0,1095.9 L1861.0,1096.0 L1864.0,1096.1 L1867.0,1096.2 L1870.0,1096.3 L1873.0,1096.4 L1876.0,1096.5 L1879.0,1096.6 L1882.0,1096.7 L1885.0,1096.8 L1888.0,1096.9 L1891.0,1097.0 L1894.0,1097.1 L1897.0,1097.2 L1900.0,1097.2 L1903.0,1097.3 L1906.0,1097.4 L1909.0,1097.5 L1912.0,1097.6 L1915.0,1097.7 L1918.0,1097.8 L1921.0,1097.9 L1924.0,1098.0 L1927.0,1098.1 L1930.0,1098.2 L1933.0,1098.3 L1936.0,1098.4 L1939.0,1098.5 L1942.0,1098.6 L1945.0,1098.7 L1948.0,1098.8 L1951.0,1098.9 L1954.0,1099.0 L1957.0,1099.1 L1960.0,1099.2 L1963.0,1099.3 L1966.0,1099.4 L1969.0,1099.5 L1972.0,1099.6 L1975.0,1099.8 L1978.0,1099.9 L1981.0,1100.0 L1984.0,1100.1 L1987.0,1100.2 L1990.0,1100.3 L1993.0,1100.4 L1996.0,1100.5 L1999.0,1100.6 L2002.0,1100.7 L2005.0,1100.8 L2008.0,1100.9 L2011.0,1101.0 L2014.0,1101.1 L2017.0,1101.2 L2020.0,1101.3 L2023.0,1101.4 L2026.0,1101.5 L2029.0,1101.7 L2032.0,1101.8 L2035.0,1101.9 L2038.0,1102.0 L2041.0,1102.1 L2044.0,1102.2 L2047.0,1102.3 L2050.0,1102.4 L2053.0,1102.5 L2056.0,1102.6 L2059.0,1102.7 L2062.0,1102.8 L2065.0,1103.0 L2068.0,1103.1 L2071.0,1103.2 L2074.0,1103.3 L2077.0,1103.4 L2080.0,1103.5 L2083.0,1103.6 L2086.0,1103.7 L2089.0,1103.8 L2092.0,1103.9 L2095.0,1104.0 L2098.0,1104.2 L2101.0,1104.3 L2104.0,1104.4 L2107.0,1104.5 L2110.0,1104.6 L2113.0,1104.7 L2116.0,1104.8 L2119.0,1104.9 L2122.0,1105.0 L2125.0,1105.1 L2128.0,1105.3 L2131.0,1105.4 L2134.0,1105.5 L2137.0,1105.6 L2140.0,1105.7 L2143.0,1105.8 L2146.0,1105.9 L2149.0,1106.0 L2152.0,1106.1 L2155.0,1106.3 L2158.0,1106.4 L2161.0,1106.5 L2164.0,1106.6 L2167.0,1106.7 L2170.0,1106.8 L2173.0,1106.9 L2176.0,1107.0 L2179.0,1107.1 L2182.0,1107.2 L2185.0,1107.3 L2188.0,1107.5 L2191.0,1107.6 L2194.0,1107.7 L2197.0,1107.8 L2200.0,1107.9" stroke="#71983A"/>
<path d="M223.7,570.0 L226.0,567.9 L229.0,565.2 L232.0,562.4 L235.0,559.6 L238.0,556.9 L241.0,554.0 L244.0,551.2 L247.0,548.3 L250.0,545.5 L253.0,542.6 L256.0,539.6 L259.0,536.7 L262.0,533.8 L265.0,530.8 L268.0,527.8 L271.0,524.8 L274.0,521.8 L277.0,518.8 L280.0,515.7 L283.0,512.7 L286.0,509.6 L289.0,506.5 L292.0,503.5 L295.0,500.4 L298.0,497.3 L301.0,494.2 L304.0,491.1 L307.0,487.9 L310.0,484.8 L313.0,481.7 L316.0,478.6 L319.0,475.4 L322.0,472.3 L325.0,469.2 L328.0,466.0 L331.0,462.9 L334.0,459.7 L337.0,456.6 L340.0,453.5 L343.0,450.3 L346.0,447.2 L349.0,444.1 L352.0,440.9 L355.0,437.8 L358.0,434.7 L361.0,431.6 L364.0,428.5 L367.0,425.4 L370.0,422.3 L373.0,419.3 L376.0,416.2 L379.0,413.2 L382.0,410.1 L385.0,407.1 L388.0,404.1 L391.0,401.1 L394.0,398.1 L397.0,395.1 L400.0,392.2 L403.0,389.3 L406.0,386.4 L409.0,383.5 L412.0,380.6 L415.0,377.7 L418.0,374.9 L421.0,372.1 L424.0,369.3 L427.0,366.5 L430.0,363.8 L433.0,361.0 L436.0,358.4 L439.0,355.7 L442.0,353.1 L445.0,350.5 L448.0,347.9 L451.0,345.4 L454.0,342.9 L457.0,340.5 L460.0,338.1 L463.0,335.8 L466.0,333.5 L469.0,331.2 L472.0,329.1 L475.0,326.9 L478.0,324.8 L481.0,322.8 L484.0,320.8 L487.0,318.8 L490.0,316.9 L493.0,315.0 L496.0,313.2 L499.0,311.5 L502.0,309.8 L505.0,308.1 L508.0,306.5 L511.0,305.0 L514.0,303.5 L517.0,302.0 L520.0,300.6 L523.0,299.3 L526.0,298.0 L529.0,296.7 L532.0,295.5 L535.0,294.4 L538.0,293.3 L541.0,292.3 L544.0,291.3 L547.0,290.3 L550.0,289.5 L553.0,288.6 L556.0,287.9 L559.0,287.2 L562.0,286.5 L565.0,285.9 L568.0,285.3 L571.0,284.8 L574.0,284.4 L577.0,284.0 L580.0,283.6 L583.0,283.3 L586.0,283.1 L589.0,282.9 L592.0,282.8 L595.0,282.8 L598.0,282.8 L601.0,282.8 L604.0,282.9 L607.0,283.1 L610.0,283.3 L613.0,283.6 L616.0,283.9 L619.0,284.3 L622.0,284.7 L625.0,285.2 L628.0,285.8 L631.0,286.4 L634.0,287.1 L637.0,287.8 L640.0,288.6 L643.0,289.5 L646.0,290.4 L649.0,291.4 L652.0,292.4 L655.0,293.5 L658.0,294.6 L661.0,295.8 L664.0,297.1 L667.0,298.4 L670.0,299.8 L673.0,301.3 L676.0,302.8 L679.0,304.3 L682.0,306.0 L685.0,307.6 L688.0,309.4 L691.0,311.2 L694.0,313.0 L697.0,315.0 L700.0,316.9 L703.0,319.0 L706.0,321.1 L709.0,323.2 L712.0,325.4 L715.0,327.7 L718.0,330.1 L721.0,332.4 L724.0,334.9 L727.0,337.4 L730.0,340.0 L733.0,342.6 L736.0,345.3 L739.0,348.1 L742.0,350.9 L745.0,353.8 L748.0,356.7 L751.0,359.7 L754.0,362.7 L757.0,365.9 L760.0,369.0 L763.0,372.3 L766.0,375.6 L769.0,378.9 L772.0,382.3 L775.0,385.8 L778.0,389.3 L781.0,392.9 L784.0,396.6 L787.0,400.3 L790.0,404.0 L793.0,407.9 L796.0,411.7 L799.0,415.7 L802.0,419.6 L805.0,423.7 L808.0,427.7 L811.0,431.9 L814.0,436.0 L817.0,440.3 L820.0,444.5 L823.0,448.9 L826.0,453.2 L829.0,457.6 L832.0,462.1 L835.0,466.5 L838.0,471.1 L841.0,475.6 L844.0,480.2 L847.0,484.9 L850.0,489.6 L853.0,494.3 L856.0,499.0 L859.0,503.8 L862.0,508.6 L865.0,513.5 L868.0,518.4 L871.0,523.3 L874.0,528.2 L877.0,533.2 L880.0,538.2 L883.0,543.2 L886.0,548.2 L889.0,553.3 L892.0,558.4 L895.0,563.5 L898.0,568.6 L901.0,573.8 L904.0,578.9 L907.0,584.1 L910.0,589.3 L913.0,594.6 L916.0,599.8 L919.0,605.1 L922.0,610.3 L925.0,615.6 L928.0,620.9 L931.0,626.2 L934.0,631.5 L937.0,636.8 L940.0,642.2 L943.0,647.5 L946.0,652.8 L949.0,658.2 L952.0,663.5 L955.0,668.9 L958.0,674.2 L961.0,679.6 L964.0,684.9 L967.0,690.3 L970.0,695.6 L973.0,701.0 L976.0,706.3 L979.0,711.7 L982.0,717.0 L985.0,722.3 L988.0,727.6 L991.0,732.9 L994.0,738.2 L997.0,743.5 L1000.0,748.8 L1003.0,754.1 L1006.0,759.3 L1009.0,764.5 L1012.0,769.7 L1015.0,775.0 L1018.0,780.1 L1021.0,785.3 L1024.0,790.4 L1027.0,795.6 L1030.0,800.7 L1033.0,805.8 L1036.0,810.8 L1039.0,815.8 L1042.0,820.8 L1045.0,825.8 L1048.0,830.8 L1051.0,835.7 L1054.0,840.6 L1057.0,845.5 L1060.0,850.3 L1063.0,855.1 L1066.0,859.9 L1069.0,864.6 L1072.0,869.3 L1075.0,874.0 L1078.0,878.6 L1081.0,883.2 L1084.0,887.7 L1087.0,892.2 L1090.0,896.7 L1093.0,901.1 L1096.0,905.5 L1099.0,909.9 L1102.0,914.2 L1105.0,918.4 L1108.0,922.6 L1111.0,926.8 L1114.0,930.9 L1117.0,934.9 L1120.0,938.9 L1123.0,942.9 L1126.0,946.8 L1129.0,950.7 L1132.0,954.4 L1135.0,958.2 L1138.0,961.9 L1141.0,965.5 L1144.0,969.1 L1147.0,972.6 L1150.0,976.0 L1153.0,979.4 L1156.0,982.7 L1159.0,986.0 L1162.0,989.2 L1165.0,992.3 L1168.0,995.4 L1171.0,998.4 L1174.0,1001.3 L1177.0,1004.2 L1180.0,1007.0 L1183.0,1009.7 L1186.0,1012.4 L1189.0,1014.9 L1192.0,1017.5 L1195.0,1020.0 L1198.0,1022.4 L1201.0,1024.7 L1204.0,1027.0 L1207.0,1029.3 L1210.0,1031.5 L1213.0,1033.7 L1216.0,1035.8 L1219.0,1037.9 L1222.0,1039.9 L1225.0,1041.9 L1228.0,1043.9 L1231.0,1045.8 L1234.0,1047.7 L1237.0,1049.5 L1240.0,1051.3 L1243.0,1053.1 L1246.0,1054.8 L1249.0,1056.5 L1252.0,1058.1 L1255.0,1059.7 L1258.0,1061.3 L1261.0,1062.8 L1264.0,1064.3 L1267.0,1065.7 L1270.0,1067.1 L1273.0,1068.5 L1276.0,1069.9 L1279.0,1071.2 L1282.0,1072.5 L1285.0,1073.7 L1288.0,1074.9 L1291.0,1076.1 L1294.0,1077.3 L1297.0,1078.4 L1300.0,1079.5 L1303.0,1080.5 L1306.0,1081.6 L1309.0,1082.6 L1312.0,1083.5 L1315.0,1084.5 L1318.0,1085.4 L1321.0,1086.3 L1324.0,1087.1 L1327.0,1088.0 L1330.0,1088.8 L1333.0,1089.5 L1336.0,1090.3 L1339.0,1091.0 L1342.0,1091.7 L1345.0,1092.4 L1348.0,1093.1 L1351.0,1093.7 L1354.0,1094.3 L1357.0,1094.9 L1360.0,1095.5 L1363.0,1096.1 L1366.0,1096.6 L1369.0,1097.1 L1372.0,1097.6 L1375.0,1098.1 L1378.0,1098.5 L1381.0,1099.0 L1384.0,1099.4 L1387.0,1099.8 L1390.0,1100.2 L1393.0,1100.5 L1396.0,1100.9 L1399.0,1101.2 L1402.0,1101.5 L1405.0,1101.9 L1408.0,1102.2 L1411.0,1102.4 L1414.0,1102.7 L1417.0,1103.0 L1420.0,1103.2 L1423.0,1103.4 L1426.0,1103.7 L1429.0,1103.9 L1432.0,1104.1 L1435.0,1104.3 L1438.0,1104.4 L1441.0,1104.6 L1444.0,1104.8 L1447.0,1104.9 L1450.0,1105.1 L1453.0,1105.2 L1456.0,1105.4 L1459.0,1105.5 L1462.0,1105.6 L1465.0,1105.8 L1468.0,1105.9 L1471.0,1106.0 L1474.0,1106.1 L1477.0,1106.2 L1480.0,1106.3 L1483.0,1106.4 L1486.0,1106.5 L1489.0,1106.6 L1492.0,1106.7 L1495.0,1106.8 L1498.0,1106.9 L1501.0,1107.0 L1504.0,1107.1 L1507.0,1107.2 L1510.0,1107.3 L1513.0,1107.4 L1516.0,1107.5 L1519.0,1107.6 L1522.0,1107.7 L1525.0,1107.9 L1528.0,1108.0 L1531.0,1108.1 L1534.0,1108.2 L1537.0,1108.3 L1540.0,1108.4 L1543.0,1108.5 L1546.0,1108.6 L1549.0,1108.7 L1552.0,1108.9 L1555.0,1109.0 L1558.0,1109.1 L1561.0,1109.2 L1564.0,1109.3 L1567.0,1109.4 L1570.0,1109.5 L1573.0,1109.7 L1576.0,1109.8 L1579.0,1109.9 L1582.0,1110.0 L1585.0,1110.1 L1588.0,1110.2 L1591.0,1110.4 L1594.0,1110.5 L1597.0,1110.6 L1600.0,1110.7 L1603.0,1110.8 L1606.0,1110.9 L1609.0,1111.1 L1612.0,1111.2 L1615.0,1111.3 L1618.0,1111.4 L1621.0,1111.5 L1624.0,1111.6 L1627.0,1111.8 L1630.0,1111.9 L1633.0,1112.0 L1636.0,1112.1 L1639.0,1112.2 L1642.0,1112.3 L1645.0,1112.4 L1648.0,1112.5 L1651.0,1112.7 L1654.0,1112.8 L1657.0,1112.9 L1660.0,1113.0 L1663.0,1113.1 L1666.0,1113.2 L1669.0,1113.3 L1672.0,1113.4 L1675.0,1113.5 L1678.0,1113.6 L1681.0,1113.7 L1684.0,1113.8 L1687.0,1113.9 L1690.0,1114.0 L1693.0,1114.1 L1696.0,1114.2 L1699.0,1114.3 L1702.0,1114.4 L1705.0,1114.5 L1708.0,1114.6 L1711.0,1114.7 L1714.0,1114.8 L1717.0,1114.9 L1720.0,1114.9 L1723.0,1115.0 L1726.0,1115.1 L1729.0,1115.2 L1732.0,1115.3 L1735.0,1115.4 L1738.0,1115.4 L1741.0,1115.5 L1744.0,1115.6 L1747.0,1115.7 L1750.0,1115.8 L1753.0,1115.8 L1756.0,1115.9 L1759.0,1116.0 L1762.0,1116.1 L1765.0,1116.1 L1768.0,1116.2 L1771.0,1116.3 L1774.0,1116.3 L1777.0,1116.4 L1780.0,1116.5 L1783.0,1116.6 L1786.0,1116.6 L1789.0,1116.7 L1792.0,1116.8 L1795.0,1116.8 L1798.0,1116.9 L1801.0,1116.9 L1804.0,1117.0 L1807.0,1117.1 L1810.0,1117.1 L1813.0,1117.2 L1816.0,1117.3 L1819.0,1117.3 L1822.0,1117.4 L1825.0,1117.4 L1828.0,1117.5 L1831.0,1117.6 L1834.0,1117.6 L1837.0,1117.7 L1840.0,1117.7 L1843.0,1117.8 L1846.0,1117.8 L1849.0,1117.9 L1852.0,1118.0 L1855.0,1118.0 L1858.0,1118.1 L1861.0,1118.1 L1864.0,1118.2 L1867.0,1118.2 L1870.0,1118.3 L1873.0,1118.4 L1876.0,1118.4 L1879.0,1118.5 L1882.0,1118.5 L1885.0,1118.6 L1888.0,1118.6 L1891.0,1118.7 L1894.0,1118.7 L1897.0,1118.8 L1900.0,1118.9 L1903.0,1118.9 L1906.0,1119.0 L1909.0,1119.0 L1912.0,1119.1 L1915.0,1119.1 L1918.0,1119.2 L1921.0,1119.2 L1924.0,1119.3 L1927.0,1119.4 L1930.0,1119.4 L1933.0,1119.5 L1936.0,1119.5 L1939.0,1119.6 L1942.0,1119.7 L1945.0,1119.7 L1948.0,1119.8 L1951.0,1119.8 L1954.0,1119.9 L1957.0,1120.0 L1960.0,1120.0 L1963.0,1120.1 L1966.0,1120.1 L1969.0,1120.2 L1972.0,1120.3 L1975.0,1120.3 L1978.0,1120.4 L1981.0,1120.5 L1984.0,1120.5 L1987.0,1120.6 L1990.0,1120.7 L1993.0,1120.7 L1996.0,1120.8 L1999.0,1120.9 L2002.0,1120.9 L2005.0,1121.0 L2008.0,1121.1 L2011.0,1121.1 L2014.0,1121.2 L2017.0,1121.3 L2020.0,1121.4 L2023.0,1121.4 L2026.0,1121.5 L2029.0,1121.6 L2032.0,1121.7 L2035.0,1121.7 L2038.0,1121.8 L2041.0,1121.9 L2044.0,1122.0 L2047.0,1122.1 L2050.0,1122.2 L2053.0,1122.2 L2056.0,1122.3 L2059.0,1122.4 L2062.0,1122.5 L2065.0,1122.6 L2068.0,1122.7 L2071.0,1122.8 L2074.0,1122.9 L2077.0,1123.0 L2080.0,1123.1 L2083.0,1123.2 L2086.0,1123.3 L2089.0,1123.4 L2092.0,1123.5 L2095.0,1123.6 L2098.0,1123.7 L2101.0,1123.8 L2104.0,1123.9 L2107.0,1124.0 L2110.0,1124.1 L2113.0,1124.2 L2116.0,1124.3 L2119.0,1124.4 L2122.0,1124.6 L2125.0,1124.7 L2128.0,1124.8 L2131.0,1124.9 L2134.0,1125.0 L2137.0,1125.2 L2140.0,1125.3 L2143.0,1125.4 L2146.0,1125.5 L2149.0,1125.7 L2152.0,1125.8 L2155.0,1125.9 L2158.0,1126.1 L2161.0,1126.2 L2164.0,1126.3 L2167.0,1126.5 L2170.0,1126.6 L2173.0,1126.8 L2176.0,1126.9 L2179.0,1127.1 L2182.0,1127.2 L2185.0,1127.4 L2188.0,1127.5 L2191.0,1127.7 L2194.0,1127.8 L2197.0,1128.0 L2200.0,1128.2" stroke="#6D4C88"/>
<path d="M223.7,592.4 L226.0,589.9 L229.0,586.6 L232.0,583.2 L235.0,579.9 L238.0,576.6 L241.0,573.2 L244.0,569.9 L247.0,566.5 L250.0,563.2 L253.0,559.8 L256.0,556.5 L259.0,553.1 L262.0,549.8 L265.0,546.4 L268.0,543.0 L271.0,539.6 L274.0,536.3 L277.0,532.9 L280.0,529.5 L283.0,526.1 L286.0,522.8 L289.0,519.4 L292.0,516.0 L295.0,512.6 L298.0,509.2 L301.0,505.8 L304.0,502.5 L307.0,499.1 L310.0,495.7 L313.0,492.3 L316.0,489.0 L319.0,485.6 L322.0,482.2 L325.0,478.8 L328.0,475.5 L331.0,472.1 L334.0,468.7 L337.0,465.4 L340.0,462.0 L343.0,458.7 L346.0,455.3 L349.0,452.0 L352.0,448.6 L355.0,445.3 L358.0,441.9 L361.0,438.6 L364.0,435.3 L367.0,432.0 L370.0,428.7 L373.0,425.4 L376.0,422.1 L379.0,418.8 L382.0,415.5 L385.0,412.3 L388.0,409.1 L391.0,405.9 L394.0,402.7 L397.0,399.5 L400.0,396.4 L403.0,393.3 L406.0,390.2 L409.0,387.1 L412.0,384.1 L415.0,381.1 L418.0,378.2 L421.0,375.2 L424.0,372.3 L427.0,369.5 L430.0,366.6 L433.0,363.9 L436.0,361.1 L439.0,358.4 L442.0,355.7 L445.0,353.0 L448.0,350.4 L451.0,347.9 L454.0,345.3 L457.0,342.8 L460.0,340.4 L463.0,338.0 L466.0,335.6 L469.0,333.3 L472.0,331.0 L475.0,328.7 L478.0,326.5 L481.0,324.3 L484.0,322.2 L487.0,320.1 L490.0,318.1 L493.0,316.1 L496.0,314.2 L499.0,312.3 L502.0,310.5 L505.0,308.7 L508.0,306.9 L511.0,305.2 L514.0,303.6 L517.0,302.0 L520.0,300.4 L523.0,298.9 L526.0,297.5 L529.0,296.1 L532.0,294.7 L535.0,293.4 L538.0,292.2 L541.0,291.0 L544.0,289.9 L547.0,288.8 L550.0,287.8 L553.0,286.8 L556.0,285.9 L559.0,285.1 L562.0,284.3 L565.0,283.6 L568.0,282.9 L571.0,282.3 L574.0,281.7 L577.0,281.3 L580.0,280.8 L583.0,280.5 L586.0,280.2 L589.0,279.9 L592.0,279.7 L595.0,279.6 L598.0,279.6 L601.0,279.6 L604.0,279.7 L607.0,279.8 L610.0,280.0 L613.0,280.3 L616.0,280.6 L619.0,281.1 L622.0,281.5 L625.0,282.1 L628.0,282.7 L631.0,283.3 L634.0,284.0 L637.0,284.8 L640.0,285.7 L643.0,286.6 L646.0,287.5 L649.0,288.5 L652.0,289.6 L655.0,290.8 L658.0,291.9 L661.0,293.2 L664.0,294.5 L667.0,295.9 L670.0,297.3 L673.0,298.8 L676.0,300.3 L679.0,301.9 L682.0,303.5 L685.0,305.2 L688.0,307.0 L691.0,308.8 L694.0,310.6 L697.0,312.5 L700.0,314.5 L703.0,316.5 L706.0,318.5 L709.0,320.6 L712.0,322.8 L715.0,324.9 L718.0,327.2 L721.0,329.5 L724.0,331.8 L727.0,334.2 L730.0,336.7 L733.0,339.2 L736.0,341.7 L739.0,344.3 L742.0,347.0 L745.0,349.8 L748.0,352.6 L751.0,355.5 L754.0,358.5 L757.0,361.5 L760.0,364.6 L763.0,367.9 L766.0,371.2 L769.0,374.6 L772.0,378.0 L775.0,381.6 L778.0,385.3 L781.0,389.1 L784.0,392.9 L787.0,396.9 L790.0,400.9 L793.0,405.1 L796.0,409.3 L799.0,413.6 L802.0,417.9 L805.0,422.4 L808.0,426.9 L811.0,431.6 L814.0,436.2 L817.0,441.0 L820.0,445.8 L823.0,450.7 L826.0,455.7 L829.0,460.7 L832.0,465.8 L835.0,470.9 L838.0,476.1 L841.0,481.3 L844.0,486.6 L847.0,491.9 L850.0,497.2 L853.0,502.5 L856.0,507.8 L859.0,513.1 L862.0,518.4 L865.0,523.8 L868.0,529.1 L871.0,534.4 L874.0,539.8 L877.0,545.2 L880.0,550.5 L883.0,555.9 L886.0,561.3 L889.0,566.7 L892.0,572.1 L895.0,577.5 L898.0,582.9 L901.0,588.2 L904.0,593.6 L907.0,599.0 L910.0,604.4 L913.0,609.8 L916.0,615.2 L919.0,620.6 L922.0,626.0 L925.0,631.4 L928.0,636.8 L931.0,642.2 L934.0,647.5 L937.0,652.9 L940.0,658.3 L943.0,663.6 L946.0,669.0 L949.0,674.3 L952.0,679.6 L955.0,685.0 L958.0,690.3 L961.0,695.6 L964.0,700.9 L967.0,706.1 L970.0,711.4 L973.0,716.7 L976.0,721.9 L979.0,727.1 L982.0,732.4 L985.0,737.6 L988.0,742.7 L991.0,747.9 L994.0,753.1 L997.0,758.2 L1000.0,763.3 L1003.0,768.4 L1006.0,773.5 L1009.0,778.5 L1012.0,783.6 L1015.0,788.6 L1018.0,793.6 L1021.0,798.6 L1024.0,803.5 L1027.0,808.4 L1030.0,813.4 L1033.0,818.2 L1036.0,823.1 L1039.0,827.9 L1042.0,832.7 L1045.0,837.5 L1048.0,842.2 L1051.0,847.0 L1054.0,851.7 L1057.0,856.3 L1060.0,861.0 L1063.0,865.6 L1066.0,870.1 L1069.0,874.7 L1072.0,879.2 L1075.0,883.7 L1078.0,888.1 L1081.0,892.5 L1084.0,896.9 L1087.0,901.2 L1090.0,905.5 L1093.0,909.8 L1096.0,914.0 L1099.0,918.2 L1102.0,922.4 L1105.0,926.5 L1108.0,930.6 L1111.0,934.6 L1114.0,938.6 L1117.0,942.6 L1120.0,946.5 L1123.0,950.3 L1126.0,954.2 L1129.0,958.0 L1132.0,961.7 L1135.0,965.4 L1138.0,969.1 L1141.0,972.7 L1144.0,976.2 L1147.0,979.7 L1150.0,983.2 L1153.0,986.6 L1156.0,990.0 L1159.0,993.3 L1162.0,996.6 L1165.0,999.8 L1168.0,1003.0 L1171.0,1006.1 L1174.0,1009.2 L1177.0,1012.2 L1180.0,1015.1 L1183.0,1018.0 L1186.0,1020.9 L1189.0,1023.7 L1192.0,1026.4 L1195.0,1029.1 L1198.0,1031.7 L1201.0,1034.3 L1204.0,1036.8 L1207.0,1039.3 L1210.0,1041.7 L1213.0,1044.0 L1216.0,1046.3 L1219.0,1048.6 L1222.0,1050.8 L1225.0,1053.1 L1228.0,1055.3 L1231.0,1057.5 L1234.0,1059.7 L1237.0,1061.8 L1240.0,1063.9 L1243.0,1065.8 L1246.0,1067.7 L1249.0,1069.6 L1252.0,1071.3 L1255.0,1073.0 L1258.0,1074.7 L1261.0,1076.3 L1264.0,1077.8 L1267.0,1079.3 L1270.0,1080.7 L1273.0,1082.1 L1276.0,1083.4 L1279.0,1084.7 L1282.0,1085.9 L1285.0,1087.1 L1288.0,1088.2 L1291.0,1089.4 L1294.0,1090.4 L1297.0,1091.5 L1300.0,1092.4 L1303.0,1093.4 L1306.0,1094.3 L1309.0,1095.2 L1312.0,1096.1 L1315.0,1097.0 L1318.0,1097.8 L1321.0,1098.6 L1324.0,1099.4 L1327.0,1100.2 L1330.0,1100.9 L1333.0,1101.6 L1336.0,1102.4 L1339.0,1103.1 L1342.0,1103.8 L1345.0,1104.4 L1348.0,1105.1 L1351.0,1105.7 L1354.0,1106.4 L1357.0,1107.0 L1360.0,1107.6 L1363.0,1108.2 L1366.0,1108.8 L1369.0,1109.4 L1372.0,1109.9 L1375.0,1110.5 L1378.0,1111.0 L1381.0,1111.5 L1384.0,1112.0 L1387.0,1112.5 L1390.0,1113.0 L1393.0,1113.5 L1396.0,1113.9 L1399.0,1114.4 L1402.0,1114.8 L1405.0,1115.2 L1408.0,1115.7 L1411.0,1116.1 L1414.0,1116.5 L1417.0,1116.8 L1420.0,1117.2 L1423.0,1117.6 L1426.0,1117.9 L1429.0,1118.3 L1432.0,1118.6 L1435.0,1118.9 L1438.0,1119.3 L1441.0,1119.6 L1444.0,1119.9 L1447.0,1120.2 L1450.0,1120.4 L1453.0,1120.7 L1456.0,1121.0 L1459.0,1121.2 L1462.0,1121.5 L1465.0,1121.7 L1468.0,1121.9 L1471.0,1122.2 L1474.0,1122.4 L1477.0,1122.6 L1480.0,1122.8 L1483.0,1123.0 L1486.0,1123.2 L1489.0,1123.3 L1492.0,1123.5 L1495.0,1123.7 L1498.0,1123.8 L1501.0,1124.0 L1504.0,1124.1 L1507.0,1124.3 L1510.0,1124.4 L1513.0,1124.6 L1516.0,1124.7 L1519.0,1124.8 L1522.0,1124.9 L1525.0,1125.0 L1528.0,1125.1 L1531.0,1125.2 L1534.0,1125.3 L1537.0,1125.4 L1540.0,1125.5 L1543.0,1125.6 L1546.0,1125.7 L1549.0,1125.7 L1552.0,1125.8 L1555.0,1125.9 L1558.0,1125.9 L1561.0,1126.0 L1564.0,1126.1 L1567.0,1126.1 L1570.0,1126.2 L1573.0,1126.2 L1576.0,1126.3 L1579.0,1126.3 L1582.0,1126.4 L1585.0,1126.4 L1588.0,1126.4 L1591.0,1126.5 L1594.0,1126.5 L1597.0,1126.6 L1600.0,1126.6 L1603.0,1126.6 L1606.0,1126.7 L1609.0,1126.7 L1612.0,1126.7 L1615.0,1126.7 L1618.0,1126.8 L1621.0,1126.8 L1624.0,1126.8 L1627.0,1126.9 L1630.0,1126.9 L1633.0,1126.9 L1636.0,1127.0 L1639.0,1127.0 L1642.0,1127.0 L1645.0,1127.1 L1648.0,1127.1 L1651.0,1127.1 L1654.0,1127.2 L1657.0,1127.2 L1660.0,1127.2 L1663.0,1127.3 L1666.0,1127.3 L1669.0,1127.4 L1672.0,1127.4 L1675.0,1127.4 L1678.0,1127.5 L1681.0,1127.5 L1684.0,1127.6 L1687.0,1127.6 L1690.0,1127.7 L1693.0,1127.7 L1696.0,1127.7 L1699.0,1127.8 L1702.0,1127.8 L1705.0,1127.9 L1708.0,1127.9 L1711.0,1128.0 L1714.0,1128.0 L1717.0,1128.1 L1720.0,1128.1 L1723.0,1128.2 L1726.0,1128.2 L1729.0,1128.3 L1732.0,1128.3 L1735.0,1128.4 L1738.0,1128.4 L1741.0,1128.5 L1744.0,1128.5 L1747.0,1128.6 L1750.0,1128.6 L1753.0,1128.7 L1756.0,1128.7 L1759.0,1128.8 L1762.0,1128.9 L1765.0,1128.9 L1768.0,1129.0 L1771.0,1129.0 L1774.0,1129.1 L1777.0,1129.1 L1780.0,1129.2 L1783.0,1129.3 L1786.0,1129.3 L1789.0,1129.4 L1792.0,1129.4 L1795.0,1129.5 L1798.0,1129.5 L1801.0,1129.6 L1804.0,1129.7 L1807.0,1129.7 L1810.0,1129.8 L1813.0,1129.9 L1816.0,1129.9 L1819.0,1130.0 L1822.0,1130.0 L1825.0,1130.1 L1828.0,1130.2 L1831.0,1130.2 L1834.0,1130.3 L1837.0,1130.4 L1840.0,1130.4 L1843.0,1130.5 L1846.0,1130.5 L1849.0,1130.6 L1852.0,1130.7 L1855.0,1130.7 L1858.0,1130.8 L1861.0,1130.9 L1864.0,1130.9 L1867.0,1131.0 L1870.0,1131.1 L1873.0,1131.1 L1876.0,1131.2 L1879.0,1131.3 L1882.0,1131.3 L1885.0,1131.4 L1888.0,1131.5 L1891.0,1131.5 L1894.0,1131.6 L1897.0,1131.7 L1900.0,1131.7 L1903.0,1131.8 L1906.0,1131.9 L1909.0,1131.9 L1912.0,1132.0 L1915.0,1132.1 L1918.0,1132.1 L1921.0,1132.2 L1924.0,1132.3 L1927.0,1132.4 L1930.0,1132.4 L1933.0,1132.5 L1936.0,1132.6 L1939.0,1132.6 L1942.0,1132.7 L1945.0,1132.8 L1948.0,1132.8 L1951.0,1132.9 L1954.0,1133.0 L1957.0,1133.0 L1960.0,1133.1 L1963.0,1133.2 L1966.0,1133.2 L1969.0,1133.3 L1972.0,1133.4 L1975.0,1133.4 L1978.0,1133.5 L1981.0,1133.6 L1984.0,1133.7 L1987.0,1133.7 L1990.0,1133.8 L1993.0,1133.9 L1996.0,1133.9 L1999.0,1134.0 L2002.0,1134.1 L2005.0,1134.1 L2008.0,1134.2 L2011.0,1134.3 L2014.0,1134.3 L2017.0,1134.4 L2020.0,1134.5 L2023.0,1134.5 L2026.0,1134.6 L2029.0,1134.7 L2032.0,1134.7 L2035.0,1134.8 L2038.0,1134.9 L2041.0,1134.9 L2044.0,1135.0 L2047.0,1135.1 L2050.0,1135.1 L2053.0,1135.2 L2056.0,1135.2 L2059.0,1135.3 L2062.0,1135.4 L2065.0,1135.4 L2068.0,1135.5 L2071.0,1135.6 L2074.0,1135.6 L2077.0,1135.7 L2080.0,1135.8 L2083.0,1135.8 L2086.0,1135.9 L2089.0,1135.9 L2092.0,1136.0 L2095.0,1136.1 L2098.0,1136.1 L2101.0,1136.2 L2104.0,1136.2 L2107.0,1136.3 L2110.0,1136.4 L2113.0,1136.4 L2116.0,1136.5 L2119.0,1136.5 L2122.0,1136.6 L2125.0,1136.7 L2128.0,1136.7 L2131.0,1136.8 L2134.0,1136.8 L2137.0,1136.9 L2140.0,1136.9 L2143.0,1137.0 L2146.0,1137.0 L2149.0,1137.1 L2152.0,1137.1 L2155.0,1137.2 L2158.0,1137.3 L2161.0,1137.3 L2164.0,1137.4 L2167.0,1137.4 L2170.0,1137.5 L2173.0,1137.5 L2176.0,1137.6 L2179.0,1137.6 L2182.0,1137.7 L2185.0,1137.7 L2188.0,1137.8 L2191.0,1137.8 L2194.0,1137.9 L2197.0,1137.9 L2200.0,1137.9" stroke="#008CA5"/>
<path d="M223.7,594.0 L226.0,591.4 L229.0,588.1 L232.0,584.7 L235.0,581.4 L238.0,578.0 L241.0,574.6 L244.0,571.2 L247.0,567.7 L250.0,564.3 L253.0,560.8 L256.0,557.4 L259.0,553.9 L262.0,550.4 L265.0,546.9 L268.0,543.4 L271.0,539.9 L274.0,536.4 L277.0,532.9 L280.0,529.4 L283.0,525.8 L286.0,522.3 L289.0,518.8 L292.0,515.2 L295.0,511.7 L298.0,508.1 L301.0,504.6 L304.0,501.0 L307.0,497.5 L310.0,493.9 L313.0,490.4 L316.0,486.9 L319.0,483.3 L322.0,479.8 L325.0,476.3 L328.0,472.7 L331.0,469.2 L334.0,465.7 L337.0,462.2 L340.0,458.7 L343.0,455.2 L346.0,451.7 L349.0,448.3 L352.0,444.8 L355.0,441.4 L358.0,437.9 L361.0,434.5 L364.0,431.1 L367.0,427.7 L370.0,424.3 L373.0,421.0 L376.0,417.6 L379.0,414.3 L382.0,411.0 L385.0,407.7 L388.0,404.4 L391.0,401.2 L394.0,397.9 L397.0,394.7 L400.0,391.5 L403.0,388.4 L406.0,385.2 L409.0,382.1 L412.0,379.0 L415.0,375.9 L418.0,372.9 L421.0,369.9 L424.0,366.9 L427.0,363.9 L430.0,361.0 L433.0,358.1 L436.0,355.2 L439.0,352.4 L442.0,349.6 L445.0,346.8 L448.0,344.0 L451.0,341.3 L454.0,338.7 L457.0,336.0 L460.0,333.4 L463.0,330.8 L466.0,328.3 L469.0,325.8 L472.0,323.4 L475.0,320.9 L478.0,318.6 L481.0,316.2 L484.0,313.9 L487.0,311.7 L490.0,309.5 L493.0,307.3 L496.0,305.2 L499.0,303.1 L502.0,301.1 L505.0,299.1 L508.0,297.2 L511.0,295.3 L514.0,293.4 L517.0,291.6 L520.0,289.9 L523.0,288.2 L526.0,286.5 L529.0,284.9 L532.0,283.4 L535.0,281.9 L538.0,280.5 L541.0,279.1 L544.0,277.8 L547.0,276.5 L550.0,275.3 L553.0,274.1 L556.0,273.1 L559.0,272.0 L562.0,271.0 L565.0,270.1 L568.0,269.3 L571.0,268.5 L574.0,267.7 L577.0,267.1 L580.0,266.4 L583.0,265.9 L586.0,265.4 L589.0,265.0 L592.0,264.7 L595.0,264.4 L598.0,264.1 L601.0,264.0 L604.0,263.9 L607.0,263.9 L610.0,263.9 L613.0,264.0 L616.0,264.2 L619.0,264.4 L622.0,264.7 L625.0,265.1 L628.0,265.5 L631.0,266.0 L634.0,266.5 L637.0,267.2 L640.0,267.9 L643.0,268.6 L646.0,269.4 L649.0,270.3 L652.0,271.3 L655.0,272.3 L658.0,273.4 L661.0,274.5 L664.0,275.7 L667.0,277.0 L670.0,278.4 L673.0,279.8 L676.0,281.3 L679.0,282.8 L682.0,284.5 L685.0,286.1 L688.0,287.9 L691.0,289.7 L694.0,291.6 L697.0,293.5 L700.0,295.6 L703.0,297.6 L706.0,299.8 L709.0,302.0 L712.0,304.3 L715.0,306.7 L718.0,309.1 L721.0,311.6 L724.0,314.1 L727.0,316.8 L730.0,319.5 L733.0,322.2 L736.0,325.1 L739.0,328.0 L742.0,330.9 L745.0,334.0 L748.0,337.1 L751.0,340.3 L754.0,343.5 L757.0,346.8 L760.0,350.2 L763.0,353.6 L766.0,357.2 L769.0,360.8 L772.0,364.4 L775.0,368.2 L778.0,372.0 L781.0,375.9 L784.0,379.8 L787.0,383.8 L790.0,387.9 L793.0,392.1 L796.0,396.3 L799.0,400.6 L802.0,405.0 L805.0,409.4 L808.0,413.9 L811.0,418.4 L814.0,423.0 L817.0,427.6 L820.0,432.2 L823.0,436.9 L826.0,441.6 L829.0,446.4 L832.0,451.2 L835.0,456.0 L838.0,460.8 L841.0,465.7 L844.0,470.6 L847.0,475.6 L850.0,480.6 L853.0,485.6 L856.0,490.6 L859.0,495.7 L862.0,500.8 L865.0,505.9 L868.0,511.1 L871.0,516.3 L874.0,521.5 L877.0,526.7 L880.0,532.0 L883.0,537.3 L886.0,542.6 L889.0,547.9 L892.0,553.3 L895.0,558.7 L898.0,564.1 L901.0,569.5 L904.0,574.9 L907.0,580.4 L910.0,585.9 L913.0,591.4 L916.0,596.9 L919.0,602.4 L922.0,608.0 L925.0,613.5 L928.0,619.1 L931.0,624.7 L934.0,630.3 L937.0,636.0 L940.0,641.6 L943.0,647.2 L946.0,652.9 L949.0,658.6 L952.0,664.2 L955.0,669.9 L958.0,675.6 L961.0,681.3 L964.0,687.0 L967.0,692.8 L970.0,698.5 L973.0,704.2 L976.0,709.9 L979.0,715.7 L982.0,721.4 L985.0,727.2 L988.0,732.9 L991.0,738.6 L994.0,744.3 L997.0,750.1 L1000.0,755.8 L1003.0,761.5 L1006.0,767.1 L1009.0,772.8 L1012.0,778.4 L1015.0,784.1 L1018.0,789.7 L1021.0,795.3 L1024.0,800.9 L1027.0,806.4 L1030.0,811.9 L1033.0,817.4 L1036.0,822.9 L1039.0,828.3 L1042.0,833.7 L1045.0,839.0 L1048.0,844.4 L1051.0,849.7 L1054.0,854.9 L1057.0,860.1 L1060.0,865.3 L1063.0,870.4 L1066.0,875.4 L1069.0,880.5 L1072.0,885.4 L1075.0,890.4 L1078.0,895.2 L1081.0,900.0 L1084.0,904.8 L1087.0,909.5 L1090.0,914.1 L1093.0,918.7 L1096.0,923.2 L1099.0,927.7 L1102.0,932.1 L1105.0,936.4 L1108.0,940.7 L1111.0,944.9 L1114.0,949.1 L1117.0,953.2 L1120.0,957.2 L1123.0,961.2 L1126.0,965.1 L1129.0,969.0 L1132.0,972.8 L1135.0,976.5 L1138.0,980.2 L1141.0,983.9 L1144.0,987.5 L1147.0,991.0 L1150.0,994.5 L1153.0,997.9 L1156.0,1001.2 L1159.0,1004.6 L1162.0,1007.8 L1165.0,1011.0 L1168.0,1014.2 L1171.0,1017.3 L1174.0,1020.3 L1177.0,1023.3 L1180.0,1026.3 L1183.0,1029.1 L1186.0,1032.0 L1189.0,1034.8 L1192.0,1037.5 L1195.0,1040.2 L1198.0,1042.8 L1201.0,1045.4 L1204.0,1048.0 L1207.0,1050.5 L1210.0,1052.9 L1213.0,1055.3 L1216.0,1057.7 L1219.0,1060.0 L1222.0,1062.2 L1225.0,1064.4 L1228.0,1066.6 L1231.0,1068.7 L1234.0,1070.8 L1237.0,1072.8 L1240.0,1074.8 L1243.0,1076.7 L1246.0,1078.6 L1249.0,1080.4 L1252.0,1082.2 L1255.0,1084.0 L1258.0,1085.7 L1261.0,1087.4 L1264.0,1089.0 L1267.0,1090.6 L1270.0,1092.1 L1273.0,1093.6 L1276.0,1095.1 L1279.0,1096.5 L1282.0,1097.9 L1285.0,1099.3 L1288.0,1100.6 L1291.0,1101.8 L1294.0,1103.1 L1297.0,1104.2 L1300.0,1105.4 L1303.0,1106.5 L1306.0,1107.6 L1309.0,1108.6 L1312.0,1109.6 L1315.0,1110.6 L1318.0,1111.5 L1321.0,1112.4 L1324.0,1113.3 L1327.0,1114.1 L1330.0,1114.9 L1333.0,1115.7 L1336.0,1116.4 L1339.0,1117.2 L1342.0,1117.9 L1345.0,1118.6 L1348.0,1119.2 L1351.0,1119.9 L1354.0,1120.5 L1357.0,1121.1 L1360.0,1121.7 L1363.0,1122.3 L1366.0,1122.9 L1369.0,1123.4 L1372.0,1124.0 L1375.0,1124.5 L1378.0,1125.0 L1381.0,1125.5 L1384.0,1126.0 L1387.0,1126.5 L1390.0,1126.9 L1393.0,1127.4 L1396.0,1127.8 L1399.0,1128.2 L1402.0,1128.6 L1405.0,1129.0 L1408.0,1129.4 L1411.0,1129.7 L1414.0,1130.1 L1417.0,1130.4 L1420.0,1130.7 L1423.0,1131.1 L1426.0,1131.4 L1429.0,1131.7 L1432.0,1132.0 L1435.0,1132.2 L1438.0,1132.5 L1441.0,1132.8 L1444.0,1133.0 L1447.0,1133.3 L1450.0,1133.5 L1453.0,1133.7 L1456.0,1133.9 L1459.0,1134.1 L1462.0,1134.3 L1465.0,1134.5 L1468.0,1134.7 L1471.0,1134.9 L1474.0,1135.0 L1477.0,1135.2 L1480.0,1135.4 L1483.0,1135.5 L1486.0,1135.7 L1489.0,1135.8 L1492.0,1135.9 L1495.0,1136.1 L1498.0,1136.2 L1501.0,1136.3 L1504.0,1136.4 L1507.0,1136.5 L1510.0,1136.7 L1513.0,1136.8 L1516.0,1136.9 L1519.0,1137.0 L1522.0,1137.1 L1525.0,1137.1 L1528.0,1137.2 L1531.0,1137.3 L1534.0,1137.4 L1537.0,1137.5 L1540.0,1137.6 L1543.0,1137.7 L1546.0,1137.7 L1549.0,1137.8 L1552.0,1137.9 L1555.0,1138.0 L1558.0,1138.1 L1561.0,1138.1 L1564.0,1138.2 L1567.0,1138.3 L1570.0,1138.3 L1573.0,1138.4 L1576.0,1138.5 L1579.0,1138.5 L1582.0,1138.6 L1585.0,1138.7 L1588.0,1138.7 L1591.0,1138.8 L1594.0,1138.9 L1597.0,1138.9 L1600.0,1139.0 L1603.0,1139.0 L1606.0,1139.1 L1609.0,1139.2 L1612.0,1139.2 L1615.0,1139.3 L1618.0,1139.3 L1621.0,1139.4 L1624.0,1139.4 L1627.0,1139.5 L1630.0,1139.5 L1633.0,1139.6 L1636.0,1139.6 L1639.0,1139.7 L1642.0,1139.7 L1645.0,1139.7 L1648.0,1139.8 L1651.0,1139.8 L1654.0,1139.9 L1657.0,1139.9 L1660.0,1139.9 L1663.0,1140.0 L1666.0,1140.0 L1669.0,1140.1 L1672.0,1140.1 L1675.0,1140.1 L1678.0,1140.2 L1681.0,1140.2 L1684.0,1140.2 L1687.0,1140.3 L1690.0,1140.3 L1693.0,1140.3 L1696.0,1140.3 L1699.0,1140.4 L1702.0,1140.4 L1705.0,1140.4 L1708.0,1140.5 L1711.0,1140.5 L1714.0,1140.5 L1717.0,1140.5 L1720.0,1140.6 L1723.0,1140.6 L1726.0,1140.6 L1729.0,1140.6 L1732.0,1140.6 L1735.0,1140.7 L1738.0,1140.7 L1741.0,1140.7 L1744.0,1140.7 L1747.0,1140.7 L1750.0,1140.7 L1753.0,1140.8 L1756.0,1140.8 L1759.0,1140.8 L1762.0,1140.8 L1765.0,1140.8 L1768.0,1140.8 L1771.0,1140.8 L1774.0,1140.8 L1777.0,1140.9 L1780.0,1140.9 L1783.0,1140.9 L1786.0,1140.9 L1789.0,1140.9 L1792.0,1140.9 L1795.0,1140.9 L1798.0,1140.9 L1801.0,1140.9 L1804.0,1140.9 L1807.0,1140.9 L1810.0,1141.0 L1813.0,1141.0 L1816.0,1141.0 L1819.0,1141.0 L1822.0,1141.0 L1825.0,1141.0 L1828.0,1141.0 L1831.0,1141.0 L1834.0,1141.0 L1837.0,1141.0 L1840.0,1141.0 L1843.0,1141.0 L1846.0,1141.0 L1849.0,1141.0 L1852.0,1141.0 L1855.0,1141.0 L1858.0,1141.0 L1861.0,1141.0 L1864.0,1141.0 L1867.0,1141.0 L1870.0,1141.0 L1873.0,1141.0 L1876.0,1141.0 L1879.0,1141.0 L1882.0,1141.0 L1885.0,1141.0 L1888.0,1141.0 L1891.0,1141.0 L1894.0,1141.0 L1897.0,1141.0 L1900.0,1141.0 L1903.0,1141.0 L1906.0,1141.0 L1909.0,1141.0 L1912.0,1141.0 L1915.0,1141.0 L1918.0,1141.0 L1921.0,1141.0 L1924.0,1141.0 L1927.0,1141.0 L1930.0,1141.0 L1933.0,1141.0 L1936.0,1141.0 L1939.0,1141.0 L1942.0,1141.0 L1945.0,1141.0 L1948.0,1141.0 L1951.0,1141.0 L1954.0,1141.0 L1957.0,1141.0 L1960.0,1141.0 L1963.0,1141.0 L1966.0,1141.0 L1969.0,1141.0 L1972.0,1141.0 L1975.0,1141.0 L1978.0,1141.0 L1981.0,1141.0 L1984.0,1141.0 L1987.0,1141.0 L1990.0,1141.0 L1993.0,1141.0 L1996.0,1141.0 L1999.0,1141.0 L2002.0,1141.0 L2005.0,1141.0 L2008.0,1141.0 L2011.0,1141.0 L2014.0,1141.0 L2017.0,1141.0 L2020.0,1141.0 L2023.0,1141.0 L2026.0,1141.0 L2029.0,1141.0 L2032.0,1141.0 L2035.0,1141.0 L2038.0,1141.0 L2041.0,1141.0 L2044.0,1141.0 L2047.0,1141.0 L2050.0,1141.1 L2053.0,1141.1 L2056.0,1141.1 L2059.0,1141.1 L2062.0,1141.1 L2065.0,1141.1 L2068.0,1141.1 L2071.0,1141.1 L2074.0,1141.1 L2077.0,1141.1 L2080.0,1141.2 L2083.0,1141.2 L2086.0,1141.2 L2089.0,1141.2 L2092.0,1141.2 L2095.0,1141.2 L2098.0,1141.2 L2101.0,1141.3 L2104.0,1141.3 L2107.0,1141.3 L2110.0,1141.3 L2113.0,1141.3 L2116.0,1141.3 L2119.0,1141.4 L2122.0,1141.4 L2125.0,1141.4 L2128.0,1141.4 L2131.0,1141.5 L2134.0,1141.5 L2137.0,1141.5 L2140.0,1141.5 L2143.0,1141.5 L2146.0,1141.6 L2149.0,1141.6 L2152.0,1141.6 L2155.0,1141.7 L2158.0,1141.7 L2161.0,1141.7 L2164.0,1141.7 L2167.0,1141.8 L2170.0,1141.8 L2173.0,1141.8 L2176.0,1141.9 L2179.0,1141.9 L2182.0,1142.0 L2185.0,1142.0 L2188.0,1142.0 L2191.0,1142.1 L2194.0,1142.1 L2197.0,1142.1 L2200.0,1142.2" stroke="#E2782A"/>
<path d="M223.7,658.3 L226.0,655.6 L229.0,651.9 L232.0,648.3 L235.0,644.6 L238.0,641.0 L241.0,637.3 L244.0,633.7 L247.0,630.0 L250.0,626.3 L253.0,622.6 L256.0,618.9 L259.0,615.2 L262.0,611.5 L265.0,607.8 L268.0,604.1 L271.0,600.4 L274.0,596.7 L277.0,593.0 L280.0,589.3 L283.0,585.6 L286.0,581.9 L289.0,578.2 L292.0,574.5 L295.0,570.9 L298.0,567.2 L301.0,563.5 L304.0,559.8 L307.0,556.1 L310.0,552.5 L313.0,548.8 L316.0,545.2 L319.0,541.5 L322.0,537.9 L325.0,534.3 L328.0,530.7 L331.0,527.1 L334.0,523.5 L337.0,519.9 L340.0,516.3 L343.0,512.8 L346.0,509.3 L349.0,505.7 L352.0,502.2 L355.0,498.7 L358.0,495.2 L361.0,491.8 L364.0,488.3 L367.0,484.9 L370.0,481.5 L373.0,478.1 L376.0,474.7 L379.0,471.4 L382.0,468.1 L385.0,464.7 L388.0,461.5 L391.0,458.2 L394.0,455.0 L397.0,451.7 L400.0,448.5 L403.0,445.4 L406.0,442.2 L409.0,439.1 L412.0,436.0 L415.0,433.0 L418.0,429.9 L421.0,426.9 L424.0,423.9 L427.0,421.0 L430.0,418.1 L433.0,415.2 L436.0,412.3 L439.0,409.5 L442.0,406.7 L445.0,403.9 L448.0,401.2 L451.0,398.5 L454.0,395.9 L457.0,393.3 L460.0,390.7 L463.0,388.1 L466.0,385.6 L469.0,383.1 L472.0,380.7 L475.0,378.3 L478.0,375.9 L481.0,373.6 L484.0,371.3 L487.0,369.1 L490.0,366.9 L493.0,364.8 L496.0,362.7 L499.0,360.6 L502.0,358.6 L505.0,356.6 L508.0,354.7 L511.0,352.8 L514.0,351.0 L517.0,349.2 L520.0,347.4 L523.0,345.7 L526.0,344.1 L529.0,342.5 L532.0,340.9 L535.0,339.5 L538.0,338.0 L541.0,336.6 L544.0,335.3 L547.0,334.0 L550.0,332.8 L553.0,331.6 L556.0,330.5 L559.0,329.4 L562.0,328.4 L565.0,327.4 L568.0,326.5 L571.0,325.7 L574.0,324.9 L577.0,324.2 L580.0,323.5 L583.0,322.9 L586.0,322.4 L589.0,321.9 L592.0,321.5 L595.0,321.2 L598.0,320.9 L601.0,320.6 L604.0,320.5 L607.0,320.4 L610.0,320.3 L613.0,320.4 L616.0,320.5 L619.0,320.6 L622.0,320.9 L625.0,321.2 L628.0,321.6 L631.0,322.0 L634.0,322.5 L637.0,323.1 L640.0,323.8 L643.0,324.5 L646.0,325.3 L649.0,326.2 L652.0,327.1 L655.0,328.1 L658.0,329.2 L661.0,330.4 L664.0,331.6 L667.0,332.9 L670.0,334.3 L673.0,335.7 L676.0,337.2 L679.0,338.8 L682.0,340.5 L685.0,342.2 L688.0,344.0 L691.0,345.8 L694.0,347.8 L697.0,349.8 L700.0,351.8 L703.0,353.9 L706.0,356.1 L709.0,358.4 L712.0,360.7 L715.0,363.1 L718.0,365.6 L721.0,368.1 L724.0,370.7 L727.0,373.3 L730.0,376.1 L733.0,378.9 L736.0,381.7 L739.0,384.7 L742.0,387.7 L745.0,390.7 L748.0,393.9 L751.0,397.1 L754.0,400.4 L757.0,403.7 L760.0,407.2 L763.0,410.6 L766.0,414.2 L769.0,417.8 L772.0,421.5 L775.0,425.2 L778.0,429.0 L781.0,432.9 L784.0,436.8 L787.0,440.8 L790.0,444.9 L793.0,449.0 L796.0,453.2 L799.0,457.4 L802.0,461.7 L805.0,466.1 L808.0,470.5 L811.0,475.0 L814.0,479.5 L817.0,484.1 L820.0,488.7 L823.0,493.4 L826.0,498.1 L829.0,502.9 L832.0,507.8 L835.0,512.6 L838.0,517.6 L841.0,522.6 L844.0,527.6 L847.0,532.6 L850.0,537.8 L853.0,542.9 L856.0,548.1 L859.0,553.3 L862.0,558.6 L865.0,563.9 L868.0,569.2 L871.0,574.6 L874.0,580.0 L877.0,585.4 L880.0,590.9 L883.0,596.4 L886.0,601.9 L889.0,607.4 L892.0,613.0 L895.0,618.6 L898.0,624.2 L901.0,629.8 L904.0,635.5 L907.0,641.1 L910.0,646.8 L913.0,652.5 L916.0,658.2 L919.0,663.9 L922.0,669.7 L925.0,675.4 L928.0,681.2 L931.0,686.9 L934.0,692.7 L937.0,698.5 L940.0,704.2 L943.0,710.0 L946.0,715.8 L949.0,721.6 L952.0,727.3 L955.0,733.1 L958.0,738.9 L961.0,744.7 L964.0,750.4 L967.0,756.2 L970.0,761.9 L973.0,767.6 L976.0,773.4 L979.0,779.1 L982.0,784.8 L985.0,790.5 L988.0,796.1 L991.0,801.8 L994.0,807.4 L997.0,813.0 L1000.0,818.6 L1003.0,824.1 L1006.0,829.7 L1009.0,835.2 L1012.0,840.7 L1015.0,846.1 L1018.0,851.6 L1021.0,857.0 L1024.0,862.3 L1027.0,867.7 L1030.0,873.0 L1033.0,878.2 L1036.0,883.5 L1039.0,888.6 L1042.0,893.8 L1045.0,898.9 L1048.0,904.0 L1051.0,909.0 L1054.0,914.0 L1057.0,918.9 L1060.0,923.8 L1063.0,928.6 L1066.0,933.4 L1069.0,938.2 L1072.0,942.9 L1075.0,947.5 L1078.0,952.1 L1081.0,956.7 L1084.0,961.2 L1087.0,965.7 L1090.0,970.1 L1093.0,974.5 L1096.0,978.8 L1099.0,983.1 L1102.0,987.3 L1105.0,991.5 L1108.0,995.7 L1111.0,999.8 L1114.0,1003.8 L1117.0,1007.8 L1120.0,1011.8 L1123.0,1015.7 L1126.0,1019.6 L1129.0,1023.4 L1132.0,1027.1 L1135.0,1030.9 L1138.0,1034.5 L1141.0,1038.2 L1144.0,1041.7 L1147.0,1045.3 L1150.0,1048.7 L1153.0,1052.2 L1156.0,1055.6 L1159.0,1058.9 L1162.0,1062.2 L1165.0,1065.4 L1168.0,1068.6 L1171.0,1071.8 L1174.0,1074.9 L1177.0,1077.9 L1180.0,1080.9 L1183.0,1083.9 L1186.0,1086.8 L1189.0,1089.7 L1192.0,1092.5 L1195.0,1095.3 L1198.0,1098.0 L1201.0,1100.6 L1204.0,1103.3 L1207.0,1105.8 L1210.0,1108.4 L1213.0,1110.8 L1216.0,1113.3 L1219.0,1115.6 L1222.0,1118.0 L1225.0,1120.2 L1228.0,1122.5 L1231.0,1124.7 L1234.0,1126.8 L1237.0,1128.9 L1240.0,1131.0 L1243.0,1133.0 L1246.0,1134.9 L1249.0,1136.8 L1252.0,1138.7 L1255.0,1140.5 L1258.0,1142.3 L1261.0,1144.0 L1264.0,1145.7 L1267.0,1147.4 L1270.0,1149.0 L1273.0,1150.5 L1276.0,1152.1 L1279.0,1153.5 L1282.0,1155.0 L1285.0,1156.4 L1288.0,1157.7 L1291.0,1159.1 L1294.0,1160.4 L1297.0,1161.6 L1300.0,1162.8 L1303.0,1164.0 L1306.0,1165.1 L1309.0,1166.2 L1312.0,1167.3 L1315.0,1168.3 L1318.0,1169.3 L1321.0,1170.2 L1324.0,1171.1 L1327.0,1172.0 L1330.0,1172.8 L1333.0,1173.6 L1336.0,1174.4 L1339.0,1175.2 L1342.0,1175.9 L1345.0,1176.5 L1348.0,1177.2 L1351.0,1177.8 L1354.0,1178.4 L1357.0,1178.9 L1360.0,1179.5 L1363.0,1180.0 L1366.0,1180.4 L1369.0,1180.9 L1372.0,1181.3 L1375.0,1181.7 L1378.0,1182.1 L1381.0,1182.5 L1384.0,1182.8 L1387.0,1183.1 L1390.0,1183.4 L1393.0,1183.7 L1396.0,1184.0 L1399.0,1184.3 L1402.0,1184.5 L1405.0,1184.7 L1408.0,1184.9 L1411.0,1185.1 L1414.0,1185.3 L1417.0,1185.5 L1420.0,1185.7 L1423.0,1185.9 L1426.0,1186.0 L1429.0,1186.2 L1432.0,1186.3 L1435.0,1186.5 L1438.0,1186.6 L1441.0,1186.8 L1444.0,1186.9 L1447.0,1187.0 L1450.0,1187.1 L1453.0,1187.3 L1456.0,1187.4 L1459.0,1187.5 L1462.0,1187.6 L1465.0,1187.7 L1468.0,1187.8 L1471.0,1187.9 L1474.0,1188.0 L1477.0,1188.0 L1480.0,1188.1 L1483.0,1188.2 L1486.0,1188.3 L1489.0,1188.3 L1492.0,1188.4 L1495.0,1188.5 L1498.0,1188.5 L1501.0,1188.6 L1504.0,1188.6 L1507.0,1188.7 L1510.0,1188.7 L1513.0,1188.8 L1516.0,1188.8 L1519.0,1188.9 L1522.0,1188.9 L1525.0,1188.9 L1528.0,1188.9 L1531.0,1189.0 L1534.0,1189.0 L1537.0,1189.0 L1540.0,1189.0 L1543.0,1189.0 L1546.0,1189.0 L1549.0,1189.0 L1552.0,1189.0 L1555.0,1189.0 L1558.0,1189.0 L1561.0,1189.0 L1564.0,1189.0 L1567.0,1189.0 L1570.0,1189.0 L1573.0,1189.0 L1576.0,1189.0 L1579.0,1188.9 L1582.0,1188.9 L1585.0,1188.9 L1588.0,1188.9 L1591.0,1188.8 L1594.0,1188.8 L1597.0,1188.8 L1600.0,1188.7 L1603.0,1188.7 L1606.0,1188.7 L1609.0,1188.6 L1612.0,1188.6 L1615.0,1188.5 L1618.0,1188.5 L1621.0,1188.4 L1624.0,1188.4 L1627.0,1188.3 L1630.0,1188.3 L1633.0,1188.2 L1636.0,1188.2 L1639.0,1188.1 L1642.0,1188.0 L1645.0,1188.0 L1648.0,1187.9 L1651.0,1187.9 L1654.0,1187.8 L1657.0,1187.7 L1660.0,1187.7 L1663.0,1187.6 L1666.0,1187.5 L1669.0,1187.5 L1672.0,1187.4 L1675.0,1187.3 L1678.0,1187.3 L1681.0,1187.2 L1684.0,1187.1 L1687.0,1187.0 L1690.0,1187.0 L1693.0,1186.9 L1696.0,1186.8 L1699.0,1186.7 L1702.0,1186.7 L1705.0,1186.6 L1708.0,1186.5 L1711.0,1186.4 L1714.0,1186.4 L1717.0,1186.3 L1720.0,1186.2 L1723.0,1186.1 L1726.0,1186.1 L1729.0,1186.0 L1732.0,1185.9 L1735.0,1185.8 L1738.0,1185.7 L1741.0,1185.7 L1744.0,1185.6 L1747.0,1185.5 L1750.0,1185.4 L1753.0,1185.3 L1756.0,1185.3 L1759.0,1185.2 L1762.0,1185.1 L1765.0,1185.0 L1768.0,1184.9 L1771.0,1184.9 L1774.0,1184.8 L1777.0,1184.7 L1780.0,1184.6 L1783.0,1184.5 L1786.0,1184.5 L1789.0,1184.4 L1792.0,1184.3 L1795.0,1184.2 L1798.0,1184.1 L1801.0,1184.0 L1804.0,1184.0 L1807.0,1183.9 L1810.0,1183.8 L1813.0,1183.7 L1816.0,1183.6 L1819.0,1183.6 L1822.0,1183.5 L1825.0,1183.4 L1828.0,1183.3 L1831.0,1183.2 L1834.0,1183.2 L1837.0,1183.1 L1840.0,1183.0 L1843.0,1182.9 L1846.0,1182.8 L1849.0,1182.8 L1852.0,1182.7 L1855.0,1182.6 L1858.0,1182.5 L1861.0,1182.4 L1864.0,1182.4 L1867.0,1182.3 L1870.0,1182.2 L1873.0,1182.1 L1876.0,1182.1 L1879.0,1182.0 L1882.0,1181.9 L1885.0,1181.8 L1888.0,1181.7 L1891.0,1181.7 L1894.0,1181.6 L1897.0,1181.5 L1900.0,1181.4 L1903.0,1181.4 L1906.0,1181.3 L1909.0,1181.2 L1912.0,1181.2 L1915.0,1181.1 L1918.0,1181.0 L1921.0,1180.9 L1924.0,1180.9 L1927.0,1180.8 L1930.0,1180.7 L1933.0,1180.7 L1936.0,1180.6 L1939.0,1180.5 L1942.0,1180.4 L1945.0,1180.4 L1948.0,1180.3 L1951.0,1180.2 L1954.0,1180.2 L1957.0,1180.1 L1960.0,1180.0 L1963.0,1180.0 L1966.0,1179.9 L1969.0,1179.9 L1972.0,1179.8 L1975.0,1179.7 L1978.0,1179.7 L1981.0,1179.6 L1984.0,1179.5 L1987.0,1179.5 L1990.0,1179.4 L1993.0,1179.4 L1996.0,1179.3 L1999.0,1179.3 L2002.0,1179.2 L2005.0,1179.2 L2008.0,1179.1 L2011.0,1179.0 L2014.0,1179.0 L2017.0,1178.9 L2020.0,1178.9 L2023.0,1178.8 L2026.0,1178.8 L2029.0,1178.7 L2032.0,1178.7 L2035.0,1178.6 L2038.0,1178.6 L2041.0,1178.6 L2044.0,1178.5 L2047.0,1178.5 L2050.0,1178.4 L2053.0,1178.4 L2056.0,1178.4 L2059.0,1178.3 L2062.0,1178.3 L2065.0,1178.2 L2068.0,1178.2 L2071.0,1178.2 L2074.0,1178.1 L2077.0,1178.1 L2080.0,1178.1 L2083.0,1178.0 L2086.0,1178.0 L2089.0,1178.0 L2092.0,1178.0 L2095.0,1177.9 L2098.0,1177.9 L2101.0,1177.9 L2104.0,1177.9 L2107.0,1177.8 L2110.0,1177.8 L2113.0,1177.8 L2116.0,1177.8 L2119.0,1177.8 L2122.0,1177.7 L2125.0,1177.7 L2128.0,1177.7 L2131.0,1177.7 L2134.0,1177.7 L2137.0,1177.7 L2140.0,1177.7 L2143.0,1177.7 L2146.0,1177.7 L2149.0,1177.6 L2152.0,1177.6 L2155.0,1177.6 L2158.0,1177.6 L2161.0,1177.6 L2164.0,1177.6 L2167.0,1177.6 L2170.0,1177.7 L2173.0,1177.7 L2176.0,1177.7 L2179.0,1177.7 L2182.0,1177.7 L2185.0,1177.7 L2188.0,1177.7 L2191.0,1177.7 L2194.0,1177.7 L2197.0,1177.8 L2200.0,1177.8" stroke="#167CBF"/>
<path d="M223.7,646.4 L226.0,643.7 L229.0,640.1 L232.0,636.6 L235.0,633.0 L238.0,629.4 L241.0,625.7 L244.0,622.1 L247.0,618.4 L250.0,614.8 L253.0,611.1 L256.0,607.4 L259.0,603.7 L262.0,600.0 L265.0,596.2 L268.0,592.5 L271.0,588.7 L274.0,585.0 L277.0,581.2 L280.0,577.4 L283.0,573.7 L286.0,569.9 L289.0,566.1 L292.0,562.3 L295.0,558.5 L298.0,554.7 L301.0,550.9 L304.0,547.1 L307.0,543.3 L310.0,539.5 L313.0,535.7 L316.0,531.9 L319.0,528.1 L322.0,524.3 L325.0,520.5 L328.0,516.7 L331.0,513.0 L334.0,509.2 L337.0,505.4 L340.0,501.7 L343.0,497.9 L346.0,494.2 L349.0,490.5 L352.0,486.8 L355.0,483.1 L358.0,479.4 L361.0,475.7 L364.0,472.0 L367.0,468.4 L370.0,464.8 L373.0,461.2 L376.0,457.6 L379.0,454.0 L382.0,450.4 L385.0,446.9 L388.0,443.4 L391.0,439.9 L394.0,436.4 L397.0,433.0 L400.0,429.6 L403.0,426.2 L406.0,422.8 L409.0,419.4 L412.0,416.1 L415.0,412.8 L418.0,409.6 L421.0,406.3 L424.0,403.1 L427.0,400.0 L430.0,396.8 L433.0,393.7 L436.0,390.6 L439.0,387.6 L442.0,384.6 L445.0,381.6 L448.0,378.7 L451.0,375.8 L454.0,372.9 L457.0,370.1 L460.0,367.3 L463.0,364.5 L466.0,361.8 L469.0,359.2 L472.0,356.6 L475.0,354.0 L478.0,351.4 L481.0,349.0 L484.0,346.5 L487.0,344.1 L490.0,341.8 L493.0,339.5 L496.0,337.2 L499.0,335.0 L502.0,332.9 L505.0,330.8 L508.0,328.7 L511.0,326.7 L514.0,324.8 L517.0,322.9 L520.0,321.0 L523.0,319.2 L526.0,317.5 L529.0,315.9 L532.0,314.2 L535.0,312.7 L538.0,311.2 L541.0,309.8 L544.0,308.4 L547.0,307.1 L550.0,305.8 L553.0,304.6 L556.0,303.5 L559.0,302.4 L562.0,301.4 L565.0,300.5 L568.0,299.6 L571.0,298.8 L574.0,298.0 L577.0,297.3 L580.0,296.7 L583.0,296.1 L586.0,295.6 L589.0,295.2 L592.0,294.8 L595.0,294.5 L598.0,294.3 L601.0,294.1 L604.0,294.0 L607.0,294.0 L610.0,294.0 L613.0,294.1 L616.0,294.2 L619.0,294.5 L622.0,294.8 L625.0,295.1 L628.0,295.6 L631.0,296.1 L634.0,296.6 L637.0,297.3 L640.0,298.0 L643.0,298.8 L646.0,299.6 L649.0,300.5 L652.0,301.5 L655.0,302.6 L658.0,303.7 L661.0,304.9 L664.0,306.2 L667.0,307.6 L670.0,309.0 L673.0,310.5 L676.0,312.1 L679.0,313.7 L682.0,315.5 L685.0,317.2 L688.0,319.1 L691.0,321.1 L694.0,323.1 L697.0,325.2 L700.0,327.4 L703.0,329.6 L706.0,331.9 L709.0,334.3 L712.0,336.8 L715.0,339.4 L718.0,342.0 L721.0,344.7 L724.0,347.4 L727.0,350.3 L730.0,353.2 L733.0,356.2 L736.0,359.2 L739.0,362.3 L742.0,365.5 L745.0,368.8 L748.0,372.1 L751.0,375.4 L754.0,378.9 L757.0,382.4 L760.0,386.0 L763.0,389.6 L766.0,393.3 L769.0,397.1 L772.0,400.9 L775.0,404.8 L778.0,408.7 L781.0,412.7 L784.0,416.8 L787.0,420.9 L790.0,425.1 L793.0,429.3 L796.0,433.6 L799.0,437.9 L802.0,442.3 L805.0,446.8 L808.0,451.3 L811.0,455.8 L814.0,460.4 L817.0,465.1 L820.0,469.8 L823.0,474.5 L826.0,479.3 L829.0,484.2 L832.0,489.1 L835.0,494.0 L838.0,499.0 L841.0,504.1 L844.0,509.1 L847.0,514.3 L850.0,519.4 L853.0,524.6 L856.0,529.9 L859.0,535.1 L862.0,540.4 L865.0,545.8 L868.0,551.2 L871.0,556.6 L874.0,562.0 L877.0,567.5 L880.0,573.0 L883.0,578.5 L886.0,584.1 L889.0,589.7 L892.0,595.3 L895.0,600.9 L898.0,606.5 L901.0,612.2 L904.0,617.9 L907.0,623.6 L910.0,629.4 L913.0,635.1 L916.0,640.9 L919.0,646.7 L922.0,652.5 L925.0,658.3 L928.0,664.1 L931.0,669.9 L934.0,675.7 L937.0,681.6 L940.0,687.4 L943.0,693.3 L946.0,699.2 L949.0,705.0 L952.0,710.9 L955.0,716.8 L958.0,722.6 L961.0,728.5 L964.0,734.4 L967.0,740.3 L970.0,746.1 L973.0,752.0 L976.0,757.8 L979.0,763.7 L982.0,769.5 L985.0,775.3 L988.0,781.1 L991.0,786.9 L994.0,792.7 L997.0,798.5 L1000.0,804.3 L1003.0,810.0 L1006.0,815.7 L1009.0,821.4 L1012.0,827.1 L1015.0,832.8 L1018.0,838.4 L1021.0,844.0 L1024.0,849.6 L1027.0,855.2 L1030.0,860.7 L1033.0,866.3 L1036.0,871.7 L1039.0,877.2 L1042.0,882.6 L1045.0,888.0 L1048.0,893.4 L1051.0,898.7 L1054.0,904.0 L1057.0,909.3 L1060.0,914.5 L1063.0,919.7 L1066.0,924.8 L1069.0,929.9 L1072.0,935.0 L1075.0,940.0 L1078.0,944.9 L1081.0,949.9 L1084.0,954.7 L1087.0,959.6 L1090.0,964.3 L1093.0,969.1 L1096.0,973.8 L1099.0,978.4 L1102.0,983.0 L1105.0,987.5 L1108.0,991.9 L1111.0,996.3 L1114.0,1000.7 L1117.0,1005.0 L1120.0,1009.3 L1123.0,1013.5 L1126.0,1017.6 L1129.0,1021.7 L1132.0,1025.7 L1135.0,1029.7 L1138.0,1033.6 L1141.0,1037.5 L1144.0,1041.3 L1147.0,1045.1 L1150.0,1048.8 L1153.0,1052.4 L1156.0,1056.0 L1159.0,1059.5 L1162.0,1063.0 L1165.0,1066.4 L1168.0,1069.8 L1171.0,1073.1 L1174.0,1076.4 L1177.0,1079.6 L1180.0,1082.7 L1183.0,1085.8 L1186.0,1088.8 L1189.0,1091.8 L1192.0,1094.7 L1195.0,1097.6 L1198.0,1100.4 L1201.0,1103.2 L1204.0,1105.9 L1207.0,1108.5 L1210.0,1111.1 L1213.0,1113.7 L1216.0,1116.2 L1219.0,1118.6 L1222.0,1121.0 L1225.0,1123.3 L1228.0,1125.6 L1231.0,1127.9 L1234.0,1130.1 L1237.0,1132.2 L1240.0,1134.3 L1243.0,1136.4 L1246.0,1138.4 L1249.0,1140.4 L1252.0,1142.3 L1255.0,1144.1 L1258.0,1146.0 L1261.0,1147.8 L1264.0,1149.5 L1267.0,1151.2 L1270.0,1152.9 L1273.0,1154.5 L1276.0,1156.1 L1279.0,1157.6 L1282.0,1159.1 L1285.0,1160.6 L1288.0,1162.0 L1291.0,1163.4 L1294.0,1164.7 L1297.0,1166.0 L1300.0,1167.3 L1303.0,1168.5 L1306.0,1169.7 L1309.0,1170.9 L1312.0,1172.0 L1315.0,1173.1 L1318.0,1174.2 L1321.0,1175.2 L1324.0,1176.2 L1327.0,1177.2 L1330.0,1178.1 L1333.0,1179.0 L1336.0,1179.9 L1339.0,1180.7 L1342.0,1181.5 L1345.0,1182.3 L1348.0,1183.1 L1351.0,1183.8 L1354.0,1184.5 L1357.0,1185.2 L1360.0,1185.8 L1363.0,1186.4 L1366.0,1187.0 L1369.0,1187.6 L1372.0,1188.1 L1375.0,1188.7 L1378.0,1189.1 L1381.0,1189.6 L1384.0,1190.1 L1387.0,1190.5 L1390.0,1190.9 L1393.0,1191.3 L1396.0,1191.6 L1399.0,1192.0 L1402.0,1192.3 L1405.0,1192.6 L1408.0,1192.9 L1411.0,1193.2 L1414.0,1193.4 L1417.0,1193.6 L1420.0,1193.9 L1423.0,1194.1 L1426.0,1194.2 L1429.0,1194.4 L1432.0,1194.6 L1435.0,1194.7 L1438.0,1194.8 L1441.0,1194.9 L1444.0,1195.0 L1447.0,1195.1 L1450.0,1195.2 L1453.0,1195.3 L1456.0,1195.3 L1459.0,1195.3 L1462.0,1195.4 L1465.0,1195.4 L1468.0,1195.4 L1471.0,1195.4 L1474.0,1195.4 L1477.0,1195.4 L1480.0,1195.4 L1483.0,1195.4 L1486.0,1195.4 L1489.0,1195.3 L1492.0,1195.3 L1495.0,1195.2 L1498.0,1195.2 L1501.0,1195.2 L1504.0,1195.1 L1507.0,1195.0 L1510.0,1195.0 L1513.0,1194.9 L1516.0,1194.9 L1519.0,1194.8 L1522.0,1194.8 L1525.0,1194.7 L1528.0,1194.7 L1531.0,1194.6 L1534.0,1194.5 L1537.0,1194.5 L1540.0,1194.4 L1543.0,1194.4 L1546.0,1194.3 L1549.0,1194.3 L1552.0,1194.2 L1555.0,1194.2 L1558.0,1194.1 L1561.0,1194.1 L1564.0,1194.0 L1567.0,1194.0 L1570.0,1193.9 L1573.0,1193.8 L1576.0,1193.8 L1579.0,1193.7 L1582.0,1193.7 L1585.0,1193.6 L1588.0,1193.6 L1591.0,1193.5 L1594.0,1193.5 L1597.0,1193.4 L1600.0,1193.4 L1603.0,1193.3 L1606.0,1193.3 L1609.0,1193.2 L1612.0,1193.2 L1615.0,1193.1 L1618.0,1193.1 L1621.0,1193.0 L1624.0,1193.0 L1627.0,1192.9 L1630.0,1192.9 L1633.0,1192.8 L1636.0,1192.8 L1639.0,1192.7 L1642.0,1192.7 L1645.0,1192.6 L1648.0,1192.6 L1651.0,1192.5 L1654.0,1192.5 L1657.0,1192.4 L1660.0,1192.4 L1663.0,1192.3 L1666.0,1192.3 L1669.0,1192.2 L1672.0,1192.1 L1675.0,1192.1 L1678.0,1192.0 L1681.0,1192.0 L1684.0,1191.9 L1687.0,1191.9 L1690.0,1191.8 L1693.0,1191.8 L1696.0,1191.7 L1699.0,1191.6 L1702.0,1191.6 L1705.0,1191.5 L1708.0,1191.5 L1711.0,1191.4 L1714.0,1191.4 L1717.0,1191.3 L1720.0,1191.2 L1723.0,1191.2 L1726.0,1191.1 L1729.0,1191.1 L1732.0,1191.0 L1735.0,1190.9 L1738.0,1190.9 L1741.0,1190.8 L1744.0,1190.7 L1747.0,1190.7 L1750.0,1190.6 L1753.0,1190.5 L1756.0,1190.5 L1759.0,1190.4 L1762.0,1190.3 L1765.0,1190.3 L1768.0,1190.2 L1771.0,1190.1 L1774.0,1190.1 L1777.0,1190.0 L1780.0,1189.9 L1783.0,1189.8 L1786.0,1189.8 L1789.0,1189.7 L1792.0,1189.6 L1795.0,1189.5 L1798.0,1189.5 L1801.0,1189.4 L1804.0,1189.3 L1807.0,1189.2 L1810.0,1189.1 L1813.0,1189.1 L1816.0,1189.0 L1819.0,1188.9 L1822.0,1188.8 L1825.0,1188.7 L1828.0,1188.6 L1831.0,1188.6 L1834.0,1188.5 L1837.0,1188.4 L1840.0,1188.3 L1843.0,1188.2 L1846.0,1188.1 L1849.0,1188.0 L1852.0,1187.9 L1855.0,1187.9 L1858.0,1187.8 L1861.0,1187.7 L1864.0,1187.6 L1867.0,1187.5 L1870.0,1187.4 L1873.0,1187.3 L1876.0,1187.2 L1879.0,1187.1 L1882.0,1187.0 L1885.0,1186.9 L1888.0,1186.9 L1891.0,1186.8 L1894.0,1186.7 L1897.0,1186.6 L1900.0,1186.5 L1903.0,1186.4 L1906.0,1186.3 L1909.0,1186.2 L1912.0,1186.1 L1915.0,1186.0 L1918.0,1185.9 L1921.0,1185.8 L1924.0,1185.7 L1927.0,1185.7 L1930.0,1185.6 L1933.0,1185.5 L1936.0,1185.4 L1939.0,1185.3 L1942.0,1185.2 L1945.0,1185.1 L1948.0,1185.0 L1951.0,1184.9 L1954.0,1184.8 L1957.0,1184.7 L1960.0,1184.6 L1963.0,1184.6 L1966.0,1184.5 L1969.0,1184.4 L1972.0,1184.3 L1975.0,1184.2 L1978.0,1184.1 L1981.0,1184.0 L1984.0,1183.9 L1987.0,1183.9 L1990.0,1183.8 L1993.0,1183.7 L1996.0,1183.6 L1999.0,1183.5 L2002.0,1183.4 L2005.0,1183.4 L2008.0,1183.3 L2011.0,1183.2 L2014.0,1183.1 L2017.0,1183.0 L2020.0,1183.0 L2023.0,1182.9 L2026.0,1182.8 L2029.0,1182.7 L2032.0,1182.6 L2035.0,1182.6 L2038.0,1182.5 L2041.0,1182.4 L2044.0,1182.4 L2047.0,1182.3 L2050.0,1182.2 L2053.0,1182.1 L2056.0,1182.1 L2059.0,1182.0 L2062.0,1181.9 L2065.0,1181.9 L2068.0,1181.8 L2071.0,1181.7 L2074.0,1181.7 L2077.0,1181.6 L2080.0,1181.6 L2083.0,1181.5 L2086.0,1181.4 L2089.0,1181.4 L2092.0,1181.3 L2095.0,1181.3 L2098.0,1181.2 L2101.0,1181.2 L2104.0,1181.1 L2107.0,1181.1 L2110.0,1181.0 L2113.0,1181.0 L2116.0,1180.9 L2119.0,1180.9 L2122.0,1180.9 L2125.0,1180.8 L2128.0,1180.8 L2131.0,1180.8 L2134.0,1180.7 L2137.0,1180.7 L2140.0,1180.7 L2143.0,1180.6 L2146.0,1180.6 L2149.0,1180.6 L2152.0,1180.5 L2155.0,1180.5 L2158.0,1180.5 L2161.0,1180.5 L2164.0,1180.5 L2167.0,1180.4 L2170.0,1180.4 L2173.0,1180.4 L2176.0,1180.4 L2179.0,1180.4 L2182.0,1180.4 L2185.0,1180.4 L2188.0,1180.4 L2191.0,1180.4 L2194.0,1180.4 L2197.0,1180.4 L2200.0,1180.4" stroke="#DB4A48"/>
<path d="M223.7,638.6 L226.0,635.7 L229.0,631.9 L232.0,628.0 L235.0,624.2 L238.0,620.3 L241.0,616.5 L244.0,612.6 L247.0,608.7 L250.0,604.8 L253.0,600.9 L256.0,597.0 L259.0,593.1 L262.0,589.2 L265.0,585.3 L268.0,581.3 L271.0,577.4 L274.0,573.5 L277.0,569.5 L280.0,565.6 L283.0,561.6 L286.0,557.7 L289.0,553.7 L292.0,549.8 L295.0,545.8 L298.0,541.9 L301.0,537.9 L304.0,534.0 L307.0,530.1 L310.0,526.1 L313.0,522.2 L316.0,518.3 L319.0,514.4 L322.0,510.5 L325.0,506.6 L328.0,502.7 L331.0,498.8 L334.0,494.9 L337.0,491.1 L340.0,487.2 L343.0,483.4 L346.0,479.5 L349.0,475.7 L352.0,471.9 L355.0,468.2 L358.0,464.4 L361.0,460.6 L364.0,456.9 L367.0,453.2 L370.0,449.5 L373.0,445.8 L376.0,442.1 L379.0,438.5 L382.0,434.9 L385.0,431.3 L388.0,427.7 L391.0,424.2 L394.0,420.6 L397.0,417.1 L400.0,413.6 L403.0,410.2 L406.0,406.8 L409.0,403.4 L412.0,400.0 L415.0,396.6 L418.0,393.3 L421.0,390.0 L424.0,386.8 L427.0,383.6 L430.0,380.4 L433.0,377.2 L436.0,374.1 L439.0,371.0 L442.0,367.9 L445.0,364.9 L448.0,361.9 L451.0,359.0 L454.0,356.1 L457.0,353.2 L460.0,350.3 L463.0,347.6 L466.0,344.8 L469.0,342.1 L472.0,339.4 L475.0,336.8 L478.0,334.2 L481.0,331.6 L484.0,329.1 L487.0,326.7 L490.0,324.3 L493.0,321.9 L496.0,319.6 L499.0,317.3 L502.0,315.1 L505.0,312.9 L508.0,310.8 L511.0,308.7 L514.0,306.7 L517.0,304.8 L520.0,302.8 L523.0,301.0 L526.0,299.2 L529.0,297.4 L532.0,295.7 L535.0,294.1 L538.0,292.5 L541.0,291.0 L544.0,289.5 L547.0,288.1 L550.0,286.7 L553.0,285.4 L556.0,284.2 L559.0,283.0 L562.0,281.9 L565.0,280.9 L568.0,279.9 L571.0,279.0 L574.0,278.1 L577.0,277.3 L580.0,276.6 L583.0,276.0 L586.0,275.4 L589.0,274.9 L592.0,274.4 L595.0,274.0 L598.0,273.7 L601.0,273.5 L604.0,273.3 L607.0,273.2 L610.0,273.2 L613.0,273.2 L616.0,273.4 L619.0,273.6 L622.0,273.8 L625.0,274.2 L628.0,274.6 L631.0,275.1 L634.0,275.7 L637.0,276.3 L640.0,277.0 L643.0,277.8 L646.0,278.6 L649.0,279.6 L652.0,280.6 L655.0,281.7 L658.0,282.8 L661.0,284.0 L664.0,285.4 L667.0,286.7 L670.0,288.2 L673.0,289.7 L676.0,291.3 L679.0,293.0 L682.0,294.8 L685.0,296.6 L688.0,298.5 L691.0,300.5 L694.0,302.5 L697.0,304.7 L700.0,306.9 L703.0,309.2 L706.0,311.5 L709.0,314.0 L712.0,316.5 L715.0,319.1 L718.0,321.7 L721.0,324.5 L724.0,327.3 L727.0,330.2 L730.0,333.2 L733.0,336.2 L736.0,339.3 L739.0,342.5 L742.0,345.8 L745.0,349.1 L748.0,352.5 L751.0,356.0 L754.0,359.5 L757.0,363.2 L760.0,366.8 L763.0,370.6 L766.0,374.4 L769.0,378.3 L772.0,382.3 L775.0,386.3 L778.0,390.4 L781.0,394.6 L784.0,398.8 L787.0,403.1 L790.0,407.5 L793.0,411.9 L796.0,416.4 L799.0,421.0 L802.0,425.6 L805.0,430.3 L808.0,435.0 L811.0,439.8 L814.0,444.6 L817.0,449.5 L820.0,454.5 L823.0,459.5 L826.0,464.5 L829.0,469.7 L832.0,474.8 L835.0,480.0 L838.0,485.3 L841.0,490.6 L844.0,495.9 L847.0,501.3 L850.0,506.7 L853.0,512.2 L856.0,517.7 L859.0,523.2 L862.0,528.8 L865.0,534.4 L868.0,540.0 L871.0,545.7 L874.0,551.4 L877.0,557.1 L880.0,562.9 L883.0,568.7 L886.0,574.5 L889.0,580.4 L892.0,586.3 L895.0,592.2 L898.0,598.1 L901.0,604.0 L904.0,610.0 L907.0,616.0 L910.0,622.0 L913.0,628.0 L916.0,634.0 L919.0,640.0 L922.0,646.1 L925.0,652.2 L928.0,658.2 L931.0,664.3 L934.0,670.4 L937.0,676.5 L940.0,682.6 L943.0,688.7 L946.0,694.8 L949.0,701.0 L952.0,707.1 L955.0,713.2 L958.0,719.3 L961.0,725.4 L964.0,731.5 L967.0,737.6 L970.0,743.7 L973.0,749.8 L976.0,755.9 L979.0,761.9 L982.0,768.0 L985.0,774.0 L988.0,780.0 L991.0,786.0 L994.0,792.0 L997.0,798.0 L1000.0,804.0 L1003.0,809.9 L1006.0,815.8 L1009.0,821.7 L1012.0,827.6 L1015.0,833.5 L1018.0,839.3 L1021.0,845.1 L1024.0,850.9 L1027.0,856.7 L1030.0,862.4 L1033.0,868.1 L1036.0,873.8 L1039.0,879.4 L1042.0,885.0 L1045.0,890.6 L1048.0,896.1 L1051.0,901.6 L1054.0,907.1 L1057.0,912.5 L1060.0,917.9 L1063.0,923.3 L1066.0,928.6 L1069.0,933.9 L1072.0,939.2 L1075.0,944.4 L1078.0,949.5 L1081.0,954.6 L1084.0,959.7 L1087.0,964.7 L1090.0,969.7 L1093.0,974.6 L1096.0,979.5 L1099.0,984.4 L1102.0,989.1 L1105.0,993.9 L1108.0,998.6 L1111.0,1003.2 L1114.0,1007.8 L1117.0,1012.3 L1120.0,1016.8 L1123.0,1021.2 L1126.0,1025.5 L1129.0,1029.8 L1132.0,1034.0 L1135.0,1038.2 L1138.0,1042.3 L1141.0,1046.4 L1144.0,1050.3 L1147.0,1054.3 L1150.0,1058.1 L1153.0,1061.9 L1156.0,1065.6 L1159.0,1069.3 L1162.0,1072.9 L1165.0,1076.4 L1168.0,1079.9 L1171.0,1083.2 L1174.0,1086.6 L1177.0,1089.8 L1180.0,1093.0 L1183.0,1096.2 L1186.0,1099.3 L1189.0,1102.3 L1192.0,1105.2 L1195.0,1108.1 L1198.0,1111.0 L1201.0,1113.8 L1204.0,1116.5 L1207.0,1119.1 L1210.0,1121.7 L1213.0,1124.3 L1216.0,1126.8 L1219.0,1129.2 L1222.0,1131.6 L1225.0,1134.0 L1228.0,1136.2 L1231.0,1138.5 L1234.0,1140.6 L1237.0,1142.8 L1240.0,1144.8 L1243.0,1146.8 L1246.0,1148.8 L1249.0,1150.7 L1252.0,1152.6 L1255.0,1154.4 L1258.0,1156.2 L1261.0,1157.9 L1264.0,1159.6 L1267.0,1161.3 L1270.0,1162.9 L1273.0,1164.4 L1276.0,1165.9 L1279.0,1167.4 L1282.0,1168.8 L1285.0,1170.2 L1288.0,1171.5 L1291.0,1172.8 L1294.0,1174.1 L1297.0,1175.3 L1300.0,1176.5 L1303.0,1177.6 L1306.0,1178.8 L1309.0,1179.8 L1312.0,1180.9 L1315.0,1181.9 L1318.0,1182.9 L1321.0,1183.8 L1324.0,1184.7 L1327.0,1185.6 L1330.0,1186.4 L1333.0,1187.3 L1336.0,1188.0 L1339.0,1188.8 L1342.0,1189.5 L1345.0,1190.2 L1348.0,1190.9 L1351.0,1191.6 L1354.0,1192.2 L1357.0,1192.8 L1360.0,1193.4 L1363.0,1193.9 L1366.0,1194.5 L1369.0,1195.0 L1372.0,1195.5 L1375.0,1196.0 L1378.0,1196.4 L1381.0,1196.8 L1384.0,1197.3 L1387.0,1197.7 L1390.0,1198.1 L1393.0,1198.4 L1396.0,1198.8 L1399.0,1199.1 L1402.0,1199.4 L1405.0,1199.8 L1408.0,1200.1 L1411.0,1200.3 L1414.0,1200.6 L1417.0,1200.9 L1420.0,1201.1 L1423.0,1201.4 L1426.0,1201.6 L1429.0,1201.8 L1432.0,1202.0 L1435.0,1202.2 L1438.0,1202.4 L1441.0,1202.6 L1444.0,1202.8 L1447.0,1202.9 L1450.0,1203.1 L1453.0,1203.2 L1456.0,1203.3 L1459.0,1203.4 L1462.0,1203.6 L1465.0,1203.7 L1468.0,1203.8 L1471.0,1203.9 L1474.0,1203.9 L1477.0,1204.0 L1480.0,1204.1 L1483.0,1204.1 L1486.0,1204.2 L1489.0,1204.3 L1492.0,1204.3 L1495.0,1204.3 L1498.0,1204.4 L1501.0,1204.4 L1504.0,1204.4 L1507.0,1204.4 L1510.0,1204.5 L1513.0,1204.5 L1516.0,1204.5 L1519.0,1204.5 L1522.0,1204.5 L1525.0,1204.5 L1528.0,1204.5 L1531.0,1204.5 L1534.0,1204.5 L1537.0,1204.5 L1540.0,1204.4 L1543.0,1204.4 L1546.0,1204.4 L1549.0,1204.4 L1552.0,1204.4 L1555.0,1204.4 L1558.0,1204.3 L1561.0,1204.3 L1564.0,1204.3 L1567.0,1204.3 L1570.0,1204.2 L1573.0,1204.2 L1576.0,1204.2 L1579.0,1204.1 L1582.0,1204.1 L1585.0,1204.1 L1588.0,1204.0 L1591.0,1204.0 L1594.0,1204.0 L1597.0,1203.9 L1600.0,1203.9 L1603.0,1203.8 L1606.0,1203.8 L1609.0,1203.8 L1612.0,1203.7 L1615.0,1203.7 L1618.0,1203.6 L1621.0,1203.6 L1624.0,1203.5 L1627.0,1203.5 L1630.0,1203.4 L1633.0,1203.3 L1636.0,1203.3 L1639.0,1203.2 L1642.0,1203.2 L1645.0,1203.1 L1648.0,1203.0 L1651.0,1203.0 L1654.0,1202.9 L1657.0,1202.9 L1660.0,1202.8 L1663.0,1202.7 L1666.0,1202.7 L1669.0,1202.6 L1672.0,1202.5 L1675.0,1202.4 L1678.0,1202.4 L1681.0,1202.3 L1684.0,1202.2 L1687.0,1202.2 L1690.0,1202.1 L1693.0,1202.0 L1696.0,1201.9 L1699.0,1201.8 L1702.0,1201.8 L1705.0,1201.7 L1708.0,1201.6 L1711.0,1201.5 L1714.0,1201.4 L1717.0,1201.3 L1720.0,1201.3 L1723.0,1201.2 L1726.0,1201.1 L1729.0,1201.0 L1732.0,1200.9 L1735.0,1200.8 L1738.0,1200.7 L1741.0,1200.6 L1744.0,1200.6 L1747.0,1200.5 L1750.0,1200.4 L1753.0,1200.3 L1756.0,1200.2 L1759.0,1200.1 L1762.0,1200.0 L1765.0,1199.9 L1768.0,1199.8 L1771.0,1199.7 L1774.0,1199.6 L1777.0,1199.5 L1780.0,1199.4 L1783.0,1199.3 L1786.0,1199.2 L1789.0,1199.1 L1792.0,1199.0 L1795.0,1198.9 L1798.0,1198.8 L1801.0,1198.7 L1804.0,1198.6 L1807.0,1198.5 L1810.0,1198.4 L1813.0,1198.3 L1816.0,1198.2 L1819.0,1198.1 L1822.0,1198.0 L1825.0,1197.9 L1828.0,1197.8 L1831.0,1197.7 L1834.0,1197.6 L1837.0,1197.4 L1840.0,1197.3 L1843.0,1197.2 L1846.0,1197.1 L1849.0,1197.0 L1852.0,1196.9 L1855.0,1196.8 L1858.0,1196.7 L1861.0,1196.6 L1864.0,1196.5 L1867.0,1196.4 L1870.0,1196.3 L1873.0,1196.1 L1876.0,1196.0 L1879.0,1195.9 L1882.0,1195.8 L1885.0,1195.7 L1888.0,1195.6 L1891.0,1195.5 L1894.0,1195.4 L1897.0,1195.3 L1900.0,1195.2 L1903.0,1195.0 L1906.0,1194.9 L1909.0,1194.8 L1912.0,1194.7 L1915.0,1194.6 L1918.0,1194.5 L1921.0,1194.4 L1924.0,1194.3 L1927.0,1194.2 L1930.0,1194.1 L1933.0,1193.9 L1936.0,1193.8 L1939.0,1193.7 L1942.0,1193.6 L1945.0,1193.5 L1948.0,1193.4 L1951.0,1193.3 L1954.0,1193.2 L1957.0,1193.1 L1960.0,1193.0 L1963.0,1192.9 L1966.0,1192.7 L1969.0,1192.6 L1972.0,1192.5 L1975.0,1192.4 L1978.0,1192.3 L1981.0,1192.2 L1984.0,1192.1 L1987.0,1192.0 L1990.0,1191.9 L1993.0,1191.8 L1996.0,1191.7 L1999.0,1191.6 L2002.0,1191.5 L2005.0,1191.4 L2008.0,1191.3 L2011.0,1191.2 L2014.0,1191.1 L2017.0,1191.0 L2020.0,1190.9 L2023.0,1190.8 L2026.0,1190.7 L2029.0,1190.6 L2032.0,1190.5 L2035.0,1190.4 L2038.0,1190.3 L2041.0,1190.2 L2044.0,1190.1 L2047.0,1190.0 L2050.0,1189.9 L2053.0,1189.8 L2056.0,1189.7 L2059.0,1189.6 L2062.0,1189.5 L2065.0,1189.4 L2068.0,1189.3 L2071.0,1189.2 L2074.0,1189.2 L2077.0,1189.1 L2080.0,1189.0 L2083.0,1188.9 L2086.0,1188.8 L2089.0,1188.7 L2092.0,1188.6 L2095.0,1188.5 L2098.0,1188.5 L2101.0,1188.4 L2104.0,1188.3 L2107.0,1188.2 L2110.0,1188.1 L2113.0,1188.1 L2116.0,1188.0 L2119.0,1187.9 L2122.0,1187.8 L2125.0,1187.8 L2128.0,1187.7 L2131.0,1187.6 L2134.0,1187.5 L2137.0,1187.5 L2140.0,1187.4 L2143.0,1187.3 L2146.0,1187.3 L2149.0,1187.2 L2152.0,1187.1 L2155.0,1187.1 L2158.0,1187.0 L2161.0,1186.9 L2164.0,1186.9 L2167.0,1186.8 L2170.0,1186.8 L2173.0,1186.7 L2176.0,1186.6 L2179.0,1186.6 L2182.0,1186.5 L2185.0,1186.5 L2188.0,1186.4 L2191.0,1186.4 L2194.0,1186.3 L2197.0,1186.3 L2200.0,1186.2" stroke="#8ABA4B"/>
<path d="M223.7,611.1 L226.0,608.1 L229.0,604.1 L232.0,600.2 L235.0,596.2 L238.0,592.2 L241.0,588.2 L244.0,584.2 L247.0,580.2 L250.0,576.1 L253.0,572.1 L256.0,568.0 L259.0,563.9 L262.0,559.9 L265.0,555.8 L268.0,551.7 L271.0,547.5 L274.0,543.4 L277.0,539.3 L280.0,535.2 L283.0,531.0 L286.0,526.9 L289.0,522.8 L292.0,518.6 L295.0,514.5 L298.0,510.3 L301.0,506.2 L304.0,502.1 L307.0,497.9 L310.0,493.8 L313.0,489.6 L316.0,485.5 L319.0,481.4 L322.0,477.3 L325.0,473.2 L328.0,469.0 L331.0,465.0 L334.0,460.9 L337.0,456.8 L340.0,452.7 L343.0,448.7 L346.0,444.6 L349.0,440.6 L352.0,436.6 L355.0,432.6 L358.0,428.6 L361.0,424.6 L364.0,420.6 L367.0,416.7 L370.0,412.8 L373.0,408.9 L376.0,405.0 L379.0,401.1 L382.0,397.3 L385.0,393.5 L388.0,389.7 L391.0,385.9 L394.0,382.2 L397.0,378.5 L400.0,374.8 L403.0,371.1 L406.0,367.5 L409.0,363.9 L412.0,360.3 L415.0,356.7 L418.0,353.2 L421.0,349.7 L424.0,346.3 L427.0,342.8 L430.0,339.5 L433.0,336.1 L436.0,332.8 L439.0,329.5 L442.0,326.3 L445.0,323.1 L448.0,319.9 L451.0,316.8 L454.0,313.7 L457.0,310.6 L460.0,307.6 L463.0,304.7 L466.0,301.8 L469.0,298.9 L472.0,296.0 L475.0,293.3 L478.0,290.5 L481.0,287.8 L484.0,285.2 L487.0,282.6 L490.0,280.1 L493.0,277.6 L496.0,275.1 L499.0,272.8 L502.0,270.4 L505.0,268.1 L508.0,265.9 L511.0,263.8 L514.0,261.6 L517.0,259.6 L520.0,257.6 L523.0,255.6 L526.0,253.8 L529.0,251.9 L532.0,250.2 L535.0,248.5 L538.0,246.8 L541.0,245.3 L544.0,243.8 L547.0,242.3 L550.0,240.9 L553.0,239.6 L556.0,238.4 L559.0,237.2 L562.0,236.1 L565.0,235.0 L568.0,234.1 L571.0,233.2 L574.0,232.4 L577.0,231.6 L580.0,230.9 L583.0,230.3 L586.0,229.8 L589.0,229.3 L592.0,228.9 L595.0,228.6 L598.0,228.4 L601.0,228.3 L604.0,228.2 L607.0,228.2 L610.0,228.3 L613.0,228.5 L616.0,228.7 L619.0,229.1 L622.0,229.5 L625.0,230.0 L628.0,230.5 L631.0,231.2 L634.0,231.9 L637.0,232.7 L640.0,233.5 L643.0,234.4 L646.0,235.4 L649.0,236.5 L652.0,237.7 L655.0,238.9 L658.0,240.2 L661.0,241.5 L664.0,242.9 L667.0,244.4 L670.0,246.0 L673.0,247.6 L676.0,249.3 L679.0,251.0 L682.0,252.8 L685.0,254.7 L688.0,256.7 L691.0,258.7 L694.0,260.7 L697.0,262.9 L700.0,265.1 L703.0,267.3 L706.0,269.6 L709.0,272.0 L712.0,274.5 L715.0,277.0 L718.0,279.6 L721.0,282.3 L724.0,285.1 L727.0,287.9 L730.0,290.9 L733.0,294.0 L736.0,297.1 L739.0,300.3 L742.0,303.6 L745.0,307.0 L748.0,310.5 L751.0,314.1 L754.0,317.7 L757.0,321.4 L760.0,325.2 L763.0,329.1 L766.0,333.0 L769.0,337.1 L772.0,341.2 L775.0,345.3 L778.0,349.6 L781.0,353.9 L784.0,358.3 L787.0,362.7 L790.0,367.3 L793.0,371.9 L796.0,376.5 L799.0,381.2 L802.0,386.0 L805.0,390.9 L808.0,395.8 L811.0,400.7 L814.0,405.8 L817.0,410.9 L820.0,416.0 L823.0,421.2 L826.0,426.4 L829.0,431.8 L832.0,437.1 L835.0,442.5 L838.0,448.0 L841.0,453.5 L844.0,459.1 L847.0,464.7 L850.0,470.3 L853.0,476.0 L856.0,481.8 L859.0,487.6 L862.0,493.4 L865.0,499.3 L868.0,505.2 L871.0,511.1 L874.0,517.1 L877.0,523.1 L880.0,529.1 L883.0,535.2 L886.0,541.3 L889.0,547.4 L892.0,553.6 L895.0,559.8 L898.0,566.0 L901.0,572.2 L904.0,578.4 L907.0,584.7 L910.0,591.0 L913.0,597.3 L916.0,603.6 L919.0,609.9 L922.0,616.2 L925.0,622.6 L928.0,628.9 L931.0,635.3 L934.0,641.6 L937.0,648.0 L940.0,654.4 L943.0,660.7 L946.0,667.1 L949.0,673.5 L952.0,679.8 L955.0,686.2 L958.0,692.5 L961.0,698.9 L964.0,705.2 L967.0,711.5 L970.0,717.8 L973.0,724.1 L976.0,730.4 L979.0,736.6 L982.0,742.9 L985.0,749.1 L988.0,755.3 L991.0,761.4 L994.0,767.6 L997.0,773.7 L1000.0,779.8 L1003.0,785.9 L1006.0,791.9 L1009.0,797.9 L1012.0,803.9 L1015.0,809.8 L1018.0,815.7 L1021.0,821.6 L1024.0,827.4 L1027.0,833.2 L1030.0,839.0 L1033.0,844.8 L1036.0,850.5 L1039.0,856.2 L1042.0,861.8 L1045.0,867.4 L1048.0,873.0 L1051.0,878.5 L1054.0,884.1 L1057.0,889.5 L1060.0,895.0 L1063.0,900.4 L1066.0,905.7 L1069.0,911.1 L1072.0,916.4 L1075.0,921.6 L1078.0,926.9 L1081.0,932.0 L1084.0,937.2 L1087.0,942.3 L1090.0,947.4 L1093.0,952.4 L1096.0,957.4 L1099.0,962.4 L1102.0,967.3 L1105.0,972.2 L1108.0,977.0 L1111.0,981.8 L1114.0,986.6 L1117.0,991.3 L1120.0,995.9 L1123.0,1000.5 L1126.0,1005.1 L1129.0,1009.6 L1132.0,1014.1 L1135.0,1018.5 L1138.0,1022.8 L1141.0,1027.2 L1144.0,1031.4 L1147.0,1035.6 L1150.0,1039.7 L1153.0,1043.8 L1156.0,1047.8 L1159.0,1051.8 L1162.0,1055.6 L1165.0,1059.5 L1168.0,1063.2 L1171.0,1066.9 L1174.0,1070.5 L1177.0,1074.1 L1180.0,1077.6 L1183.0,1081.0 L1186.0,1084.4 L1189.0,1087.6 L1192.0,1090.8 L1195.0,1093.9 L1198.0,1097.0 L1201.0,1100.0 L1204.0,1102.8 L1207.0,1105.7 L1210.0,1108.4 L1213.0,1111.1 L1216.0,1113.7 L1219.0,1116.2 L1222.0,1118.7 L1225.0,1121.1 L1228.0,1123.4 L1231.0,1125.7 L1234.0,1128.0 L1237.0,1130.2 L1240.0,1132.3 L1243.0,1134.4 L1246.0,1136.4 L1249.0,1138.4 L1252.0,1140.4 L1255.0,1142.3 L1258.0,1144.2 L1261.0,1146.0 L1264.0,1147.8 L1267.0,1149.5 L1270.0,1151.2 L1273.0,1152.8 L1276.0,1154.4 L1279.0,1156.0 L1282.0,1157.5 L1285.0,1159.0 L1288.0,1160.5 L1291.0,1161.9 L1294.0,1163.3 L1297.0,1164.6 L1300.0,1165.9 L1303.0,1167.2 L1306.0,1168.4 L1309.0,1169.6 L1312.0,1170.7 L1315.0,1171.9 L1318.0,1172.9 L1321.0,1174.0 L1324.0,1175.0 L1327.0,1176.0 L1330.0,1177.0 L1333.0,1177.9 L1336.0,1178.8 L1339.0,1179.7 L1342.0,1180.5 L1345.0,1181.3 L1348.0,1182.1 L1351.0,1182.8 L1354.0,1183.6 L1357.0,1184.2 L1360.0,1184.9 L1363.0,1185.6 L1366.0,1186.2 L1369.0,1186.8 L1372.0,1187.3 L1375.0,1187.9 L1378.0,1188.4 L1381.0,1188.9 L1384.0,1189.4 L1387.0,1189.8 L1390.0,1190.3 L1393.0,1190.7 L1396.0,1191.1 L1399.0,1191.4 L1402.0,1191.8 L1405.0,1192.1 L1408.0,1192.4 L1411.0,1192.7 L1414.0,1193.0 L1417.0,1193.3 L1420.0,1193.5 L1423.0,1193.7 L1426.0,1194.0 L1429.0,1194.2 L1432.0,1194.3 L1435.0,1194.5 L1438.0,1194.7 L1441.0,1194.8 L1444.0,1195.0 L1447.0,1195.1 L1450.0,1195.2 L1453.0,1195.3 L1456.0,1195.4 L1459.0,1195.5 L1462.0,1195.5 L1465.0,1195.6 L1468.0,1195.7 L1471.0,1195.7 L1474.0,1195.8 L1477.0,1195.8 L1480.0,1195.8 L1483.0,1195.9 L1486.0,1195.9 L1489.0,1195.9 L1492.0,1195.9 L1495.0,1195.9 L1498.0,1195.9 L1501.0,1195.9 L1504.0,1195.9 L1507.0,1195.9 L1510.0,1195.9 L1513.0,1195.9 L1516.0,1195.9 L1519.0,1195.9 L1522.0,1195.9 L1525.0,1195.9 L1528.0,1195.9 L1531.0,1195.9 L1534.0,1195.9 L1537.0,1195.9 L1540.0,1195.8 L1543.0,1195.8 L1546.0,1195.8 L1549.0,1195.8 L1552.0,1195.8 L1555.0,1195.7 L1558.0,1195.7 L1561.0,1195.7 L1564.0,1195.7 L1567.0,1195.6 L1570.0,1195.6 L1573.0,1195.6 L1576.0,1195.5 L1579.0,1195.5 L1582.0,1195.4 L1585.0,1195.4 L1588.0,1195.4 L1591.0,1195.3 L1594.0,1195.3 L1597.0,1195.2 L1600.0,1195.2 L1603.0,1195.1 L1606.0,1195.1 L1609.0,1195.0 L1612.0,1195.0 L1615.0,1194.9 L1618.0,1194.9 L1621.0,1194.8 L1624.0,1194.8 L1627.0,1194.7 L1630.0,1194.7 L1633.0,1194.6 L1636.0,1194.5 L1639.0,1194.5 L1642.0,1194.4 L1645.0,1194.3 L1648.0,1194.3 L1651.0,1194.2 L1654.0,1194.2 L1657.0,1194.1 L1660.0,1194.0 L1663.0,1193.9 L1666.0,1193.9 L1669.0,1193.8 L1672.0,1193.7 L1675.0,1193.7 L1678.0,1193.6 L1681.0,1193.5 L1684.0,1193.4 L1687.0,1193.4 L1690.0,1193.3 L1693.0,1193.2 L1696.0,1193.1 L1699.0,1193.0 L1702.0,1193.0 L1705.0,1192.9 L1708.0,1192.8 L1711.0,1192.7 L1714.0,1192.6 L1717.0,1192.5 L1720.0,1192.5 L1723.0,1192.4 L1726.0,1192.3 L1729.0,1192.2 L1732.0,1192.1 L1735.0,1192.0 L1738.0,1191.9 L1741.0,1191.8 L1744.0,1191.7 L1747.0,1191.7 L1750.0,1191.6 L1753.0,1191.5 L1756.0,1191.4 L1759.0,1191.3 L1762.0,1191.2 L1765.0,1191.1 L1768.0,1191.0 L1771.0,1190.9 L1774.0,1190.8 L1777.0,1190.7 L1780.0,1190.6 L1783.0,1190.5 L1786.0,1190.4 L1789.0,1190.3 L1792.0,1190.2 L1795.0,1190.1 L1798.0,1190.0 L1801.0,1189.9 L1804.0,1189.8 L1807.0,1189.7 L1810.0,1189.7 L1813.0,1189.6 L1816.0,1189.5 L1819.0,1189.4 L1822.0,1189.3 L1825.0,1189.2 L1828.0,1189.1 L1831.0,1189.0 L1834.0,1188.9 L1837.0,1188.8 L1840.0,1188.7 L1843.0,1188.6 L1846.0,1188.5 L1849.0,1188.4 L1852.0,1188.3 L1855.0,1188.2 L1858.0,1188.1 L1861.0,1188.0 L1864.0,1187.9 L1867.0,1187.8 L1870.0,1187.7 L1873.0,1187.6 L1876.0,1187.5 L1879.0,1187.4 L1882.0,1187.3 L1885.0,1187.2 L1888.0,1187.1 L1891.0,1187.0 L1894.0,1186.9 L1897.0,1186.8 L1900.0,1186.7 L1903.0,1186.6 L1906.0,1186.5 L1909.0,1186.4 L1912.0,1186.3 L1915.0,1186.2 L1918.0,1186.1 L1921.0,1186.0 L1924.0,1185.9 L1927.0,1185.8 L1930.0,1185.7 L1933.0,1185.7 L1936.0,1185.6 L1939.0,1185.5 L1942.0,1185.4 L1945.0,1185.3 L1948.0,1185.2 L1951.0,1185.1 L1954.0,1185.0 L1957.0,1184.9 L1960.0,1184.8 L1963.0,1184.8 L1966.0,1184.7 L1969.0,1184.6 L1972.0,1184.5 L1975.0,1184.4 L1978.0,1184.3 L1981.0,1184.2 L1984.0,1184.2 L1987.0,1184.1 L1990.0,1184.0 L1993.0,1183.9 L1996.0,1183.8 L1999.0,1183.8 L2002.0,1183.7 L2005.0,1183.6 L2008.0,1183.5 L2011.0,1183.5 L2014.0,1183.4 L2017.0,1183.3 L2020.0,1183.2 L2023.0,1183.2 L2026.0,1183.1 L2029.0,1183.0 L2032.0,1183.0 L2035.0,1182.9 L2038.0,1182.8 L2041.0,1182.8 L2044.0,1182.7 L2047.0,1182.6 L2050.0,1182.6 L2053.0,1182.5 L2056.0,1182.4 L2059.0,1182.4 L2062.0,1182.3 L2065.0,1182.3 L2068.0,1182.2 L2071.0,1182.2 L2074.0,1182.1 L2077.0,1182.1 L2080.0,1182.0 L2083.0,1182.0 L2086.0,1181.9 L2089.0,1181.9 L2092.0,1181.8 L2095.0,1181.8 L2098.0,1181.7 L2101.0,1181.7 L2104.0,1181.6 L2107.0,1181.6 L2110.0,1181.6 L2113.0,1181.5 L2116.0,1181.5 L2119.0,1181.5 L2122.0,1181.4 L2125.0,1181.4 L2128.0,1181.4 L2131.0,1181.4 L2134.0,1181.3 L2137.0,1181.3 L2140.0,1181.3 L2143.0,1181.3 L2146.0,1181.2 L2149.0,1181.2 L2152.0,1181.2 L2155.0,1181.2 L2158.0,1181.2 L2161.0,1181.2 L2164.0,1181.2 L2167.0,1181.1 L2170.0,1181.1 L2173.0,1181.1 L2176.0,1181.1 L2179.0,1181.1 L2182.0,1181.1 L2185.0,1181.1 L2188.0,1181.1 L2191.0,1181.1 L2194.0,1181.2 L2197.0,1181.2 L2200.0,1181.2" stroke="#8860A5"/>
<path d="M223.7,546.2 L226.0,543.3 L229.0,539.6 L232.0,535.8 L235.0,532.0 L238.0,528.1 L241.0,524.2 L244.0,520.2 L247.0,516.3 L250.0,512.3 L253.0,508.2 L256.0,504.2 L259.0,500.1 L262.0,496.0 L265.0,491.8 L268.0,487.7 L271.0,483.5 L274.0,479.3 L277.0,475.0 L280.0,470.8 L283.0,466.5 L286.0,462.2 L289.0,457.9 L292.0,453.6 L295.0,449.3 L298.0,445.0 L301.0,440.6 L304.0,436.3 L307.0,431.9 L310.0,427.6 L313.0,423.2 L316.0,418.8 L319.0,414.5 L322.0,410.1 L325.0,405.7 L328.0,401.3 L331.0,397.0 L334.0,392.6 L337.0,388.2 L340.0,383.9 L343.0,379.5 L346.0,375.2 L349.0,370.9 L352.0,366.6 L355.0,362.3 L358.0,358.0 L361.0,353.7 L364.0,349.5 L367.0,345.2 L370.0,341.0 L373.0,336.8 L376.0,332.7 L379.0,328.5 L382.0,324.4 L385.0,320.3 L388.0,316.3 L391.0,312.2 L394.0,308.2 L397.0,304.2 L400.0,300.3 L403.0,296.4 L406.0,292.5 L409.0,288.7 L412.0,284.9 L415.0,281.1 L418.0,277.4 L421.0,273.7 L424.0,270.1 L427.0,266.5 L430.0,263.0 L433.0,259.4 L436.0,256.0 L439.0,252.6 L442.0,249.2 L445.0,245.8 L448.0,242.5 L451.0,239.3 L454.0,236.0 L457.0,232.9 L460.0,229.7 L463.0,226.6 L466.0,223.6 L469.0,220.6 L472.0,217.6 L475.0,214.7 L478.0,211.8 L481.0,209.0 L484.0,206.2 L487.0,203.6 L490.0,201.0 L493.0,198.4 L496.0,196.0 L499.0,193.6 L502.0,191.2 L505.0,189.0 L508.0,186.8 L511.0,184.6 L514.0,182.6 L517.0,180.6 L520.0,178.6 L523.0,176.8 L526.0,174.9 L529.0,173.2 L532.0,171.5 L535.0,169.9 L538.0,168.4 L541.0,166.9 L544.0,165.5 L547.0,164.2 L550.0,162.9 L553.0,161.7 L556.0,160.5 L559.0,159.5 L562.0,158.5 L565.0,157.5 L568.0,156.7 L571.0,155.9 L574.0,155.1 L577.0,154.5 L580.0,153.9 L583.0,153.4 L586.0,152.9 L589.0,152.5 L592.0,152.2 L595.0,152.0 L598.0,151.8 L601.0,151.7 L604.0,151.7 L607.0,151.7 L610.0,151.9 L613.0,152.1 L616.0,152.3 L619.0,152.7 L622.0,153.1 L625.0,153.6 L628.0,154.1 L631.0,154.7 L634.0,155.4 L637.0,156.2 L640.0,157.1 L643.0,158.0 L646.0,159.0 L649.0,160.1 L652.0,161.2 L655.0,162.5 L658.0,163.8 L661.0,165.2 L664.0,166.6 L667.0,168.2 L670.0,169.8 L673.0,171.5 L676.0,173.2 L679.0,175.1 L682.0,177.0 L685.0,179.0 L688.0,181.1 L691.0,183.2 L694.0,185.5 L697.0,187.8 L700.0,190.2 L703.0,192.6 L706.0,195.2 L709.0,197.8 L712.0,200.5 L715.0,203.3 L718.0,206.2 L721.0,209.2 L724.0,212.2 L727.0,215.3 L730.0,218.5 L733.0,221.8 L736.0,225.2 L739.0,228.6 L742.0,232.1 L745.0,235.8 L748.0,239.4 L751.0,243.2 L754.0,247.1 L757.0,251.0 L760.0,255.1 L763.0,259.2 L766.0,263.4 L769.0,267.7 L772.0,272.0 L775.0,276.5 L778.0,281.0 L781.0,285.7 L784.0,290.4 L787.0,295.2 L790.0,300.1 L793.0,305.0 L796.0,310.1 L799.0,315.2 L802.0,320.4 L805.0,325.6 L808.0,330.9 L811.0,336.2 L814.0,341.5 L817.0,346.9 L820.0,352.3 L823.0,357.7 L826.0,363.2 L829.0,368.7 L832.0,374.3 L835.0,379.9 L838.0,385.5 L841.0,391.1 L844.0,396.8 L847.0,402.6 L850.0,408.3 L853.0,414.1 L856.0,420.0 L859.0,425.8 L862.0,431.8 L865.0,437.7 L868.0,443.7 L871.0,449.7 L874.0,455.8 L877.0,461.9 L880.0,468.0 L883.0,474.2 L886.0,480.4 L889.0,486.6 L892.0,492.9 L895.0,499.2 L898.0,505.6 L901.0,512.0 L904.0,518.4 L907.0,524.9 L910.0,531.3 L913.0,537.8 L916.0,544.4 L919.0,550.9 L922.0,557.5 L925.0,564.0 L928.0,570.7 L931.0,577.3 L934.0,583.9 L937.0,590.5 L940.0,597.2 L943.0,603.9 L946.0,610.5 L949.0,617.2 L952.0,623.9 L955.0,630.6 L958.0,637.3 L961.0,644.0 L964.0,650.7 L967.0,657.4 L970.0,664.0 L973.0,670.7 L976.0,677.4 L979.0,684.0 L982.0,690.7 L985.0,697.3 L988.0,703.9 L991.0,710.5 L994.0,717.1 L997.0,723.7 L1000.0,730.2 L1003.0,736.7 L1006.0,743.2 L1009.0,749.7 L1012.0,756.1 L1015.0,762.6 L1018.0,768.9 L1021.0,775.3 L1024.0,781.6 L1027.0,787.9 L1030.0,794.1 L1033.0,800.3 L1036.0,806.5 L1039.0,812.6 L1042.0,818.7 L1045.0,824.8 L1048.0,830.8 L1051.0,836.7 L1054.0,842.6 L1057.0,848.4 L1060.0,854.2 L1063.0,860.0 L1066.0,865.7 L1069.0,871.3 L1072.0,876.9 L1075.0,882.4 L1078.0,887.9 L1081.0,893.3 L1084.0,898.7 L1087.0,904.0 L1090.0,909.3 L1093.0,914.5 L1096.0,919.6 L1099.0,924.7 L1102.0,929.7 L1105.0,934.7 L1108.0,939.6 L1111.0,944.5 L1114.0,949.3 L1117.0,954.1 L1120.0,958.8 L1123.0,963.4 L1126.0,968.0 L1129.0,972.5 L1132.0,976.9 L1135.0,981.3 L1138.0,985.6 L1141.0,989.9 L1144.0,994.1 L1147.0,998.3 L1150.0,1002.3 L1153.0,1006.4 L1156.0,1010.3 L1159.0,1014.2 L1162.0,1018.0 L1165.0,1021.8 L1168.0,1025.5 L1171.0,1029.1 L1174.0,1032.7 L1177.0,1036.2 L1180.0,1039.7 L1183.0,1043.1 L1186.0,1046.4 L1189.0,1049.7 L1192.0,1052.9 L1195.0,1056.1 L1198.0,1059.2 L1201.0,1062.2 L1204.0,1065.2 L1207.0,1068.1 L1210.0,1071.0 L1213.0,1073.9 L1216.0,1076.6 L1219.0,1079.4 L1222.0,1082.0 L1225.0,1084.7 L1228.0,1087.2 L1231.0,1089.8 L1234.0,1092.2 L1237.0,1094.7 L1240.0,1097.0 L1243.0,1099.4 L1246.0,1101.6 L1249.0,1103.9 L1252.0,1106.1 L1255.0,1108.2 L1258.0,1110.3 L1261.0,1112.4 L1264.0,1114.4 L1267.0,1116.4 L1270.0,1118.3 L1273.0,1120.2 L1276.0,1122.0 L1279.0,1123.8 L1282.0,1125.6 L1285.0,1127.3 L1288.0,1129.0 L1291.0,1130.7 L1294.0,1132.3 L1297.0,1133.9 L1300.0,1135.4 L1303.0,1136.9 L1306.0,1138.4 L1309.0,1139.9 L1312.0,1141.3 L1315.0,1142.7 L1318.0,1144.0 L1321.0,1145.3 L1324.0,1146.6 L1327.0,1147.9 L1330.0,1149.1 L1333.0,1150.3 L1336.0,1151.5 L1339.0,1152.6 L1342.0,1153.7 L1345.0,1154.8 L1348.0,1155.9 L1351.0,1156.9 L1354.0,1157.9 L1357.0,1158.9 L1360.0,1159.9 L1363.0,1160.8 L1366.0,1161.7 L1369.0,1162.6 L1372.0,1163.5 L1375.0,1164.3 L1378.0,1165.2 L1381.0,1166.0 L1384.0,1166.7 L1387.0,1167.5 L1390.0,1168.2 L1393.0,1168.9 L1396.0,1169.6 L1399.0,1170.3 L1402.0,1170.9 L1405.0,1171.5 L1408.0,1172.1 L1411.0,1172.7 L1414.0,1173.3 L1417.0,1173.8 L1420.0,1174.4 L1423.0,1174.9 L1426.0,1175.4 L1429.0,1175.8 L1432.0,1176.3 L1435.0,1176.7 L1438.0,1177.1 L1441.0,1177.5 L1444.0,1177.9 L1447.0,1178.3 L1450.0,1178.6 L1453.0,1179.0 L1456.0,1179.3 L1459.0,1179.6 L1462.0,1179.9 L1465.0,1180.2 L1468.0,1180.4 L1471.0,1180.7 L1474.0,1180.9 L1477.0,1181.1 L1480.0,1181.3 L1483.0,1181.5 L1486.0,1181.7 L1489.0,1181.8 L1492.0,1182.0 L1495.0,1182.1 L1498.0,1182.3 L1501.0,1182.4 L1504.0,1182.5 L1507.0,1182.6 L1510.0,1182.7 L1513.0,1182.8 L1516.0,1182.8 L1519.0,1182.9 L1522.0,1182.9 L1525.0,1183.0 L1528.0,1183.0 L1531.0,1183.0 L1534.0,1183.0 L1537.0,1183.0 L1540.0,1183.0 L1543.0,1183.0 L1546.0,1183.0 L1549.0,1183.0 L1552.0,1183.0 L1555.0,1182.9 L1558.0,1182.9 L1561.0,1182.8 L1564.0,1182.8 L1567.0,1182.7 L1570.0,1182.7 L1573.0,1182.6 L1576.0,1182.5 L1579.0,1182.5 L1582.0,1182.4 L1585.0,1182.3 L1588.0,1182.2 L1591.0,1182.1 L1594.0,1182.0 L1597.0,1182.0 L1600.0,1181.9 L1603.0,1181.8 L1606.0,1181.7 L1609.0,1181.6 L1612.0,1181.5 L1615.0,1181.4 L1618.0,1181.3 L1621.0,1181.2 L1624.0,1181.1 L1627.0,1181.0 L1630.0,1180.9 L1633.0,1180.8 L1636.0,1180.7 L1639.0,1180.6 L1642.0,1180.5 L1645.0,1180.4 L1648.0,1180.3 L1651.0,1180.2 L1654.0,1180.1 L1657.0,1180.0 L1660.0,1179.9 L1663.0,1179.8 L1666.0,1179.7 L1669.0,1179.6 L1672.0,1179.5 L1675.0,1179.4 L1678.0,1179.3 L1681.0,1179.2 L1684.0,1179.1 L1687.0,1179.0 L1690.0,1178.9 L1693.0,1178.8 L1696.0,1178.7 L1699.0,1178.6 L1702.0,1178.5 L1705.0,1178.4 L1708.0,1178.3 L1711.0,1178.2 L1714.0,1178.1 L1717.0,1178.0 L1720.0,1177.9 L1723.0,1177.8 L1726.0,1177.7 L1729.0,1177.6 L1732.0,1177.5 L1735.0,1177.4 L1738.0,1177.3 L1741.0,1177.2 L1744.0,1177.1 L1747.0,1177.0 L1750.0,1176.9 L1753.0,1176.8 L1756.0,1176.7 L1759.0,1176.6 L1762.0,1176.5 L1765.0,1176.4 L1768.0,1176.3 L1771.0,1176.2 L1774.0,1176.2 L1777.0,1176.1 L1780.0,1176.0 L1783.0,1175.9 L1786.0,1175.8 L1789.0,1175.7 L1792.0,1175.6 L1795.0,1175.5 L1798.0,1175.4 L1801.0,1175.4 L1804.0,1175.3 L1807.0,1175.2 L1810.0,1175.1 L1813.0,1175.0 L1816.0,1175.0 L1819.0,1174.9 L1822.0,1174.8 L1825.0,1174.7 L1828.0,1174.6 L1831.0,1174.6 L1834.0,1174.5 L1837.0,1174.4 L1840.0,1174.3 L1843.0,1174.3 L1846.0,1174.2 L1849.0,1174.1 L1852.0,1174.1 L1855.0,1174.0 L1858.0,1173.9 L1861.0,1173.9 L1864.0,1173.8 L1867.0,1173.8 L1870.0,1173.7 L1873.0,1173.6 L1876.0,1173.6 L1879.0,1173.5 L1882.0,1173.5 L1885.0,1173.4 L1888.0,1173.4 L1891.0,1173.3 L1894.0,1173.3 L1897.0,1173.2 L1900.0,1173.2 L1903.0,1173.1 L1906.0,1173.1 L1909.0,1173.1 L1912.0,1173.0 L1915.0,1173.0 L1918.0,1172.9 L1921.0,1172.9 L1924.0,1172.9 L1927.0,1172.8 L1930.0,1172.8 L1933.0,1172.8 L1936.0,1172.8 L1939.0,1172.7 L1942.0,1172.7 L1945.0,1172.7 L1948.0,1172.7 L1951.0,1172.7 L1954.0,1172.7 L1957.0,1172.6 L1960.0,1172.6 L1963.0,1172.6 L1966.0,1172.6 L1969.0,1172.6 L1972.0,1172.6 L1975.0,1172.6 L1978.0,1172.6 L1981.0,1172.6 L1984.0,1172.6 L1987.0,1172.6 L1990.0,1172.6 L1993.0,1172.6 L1996.0,1172.6 L1999.0,1172.6 L2002.0,1172.7 L2005.0,1172.7 L2008.0,1172.7 L2011.0,1172.7 L2014.0,1172.7 L2017.0,1172.7 L2020.0,1172.7 L2023.0,1172.7 L2026.0,1172.7 L2029.0,1172.8 L2032.0,1172.8 L2035.0,1172.8 L2038.0,1172.8 L2041.0,1172.8 L2044.0,1172.8 L2047.0,1172.8 L2050.0,1172.8 L2053.0,1172.8 L2056.0,1172.8 L2059.0,1172.8 L2062.0,1172.9 L2065.0,1172.9 L2068.0,1172.9 L2071.0,1172.9 L2074.0,1172.9 L2077.0,1172.9 L2080.0,1172.9 L2083.0,1172.9 L2086.0,1172.8 L2089.0,1172.8 L2092.0,1172.8 L2095.0,1172.8 L2098.0,1172.8 L2101.0,1172.8 L2104.0,1172.8 L2107.0,1172.7 L2110.0,1172.7 L2113.0,1172.7 L2116.0,1172.7 L2119.0,1172.6 L2122.0,1172.6 L2125.0,1172.5 L2128.0,1172.5 L2131.0,1172.5 L2134.0,1172.4 L2137.0,1172.4 L2140.0,1172.3 L2143.0,1172.2 L2146.0,1172.2 L2149.0,1172.1 L2152.0,1172.0 L2155.0,1172.0 L2158.0,1171.9 L2161.0,1171.8 L2164.0,1171.7 L2167.0,1171.6 L2170.0,1171.5 L2173.0,1171.4 L2176.0,1171.3 L2179.0,1171.2 L2182.0,1171.1 L2185.0,1171.0 L2188.0,1170.8 L2191.0,1170.7 L2194.0,1170.6 L2197.0,1170.4 L2200.0,1170.3" stroke="#00ABC9"/>
<path d="M223.7,525.0 L226.0,521.8 L229.0,517.6 L232.0,513.4 L235.0,509.2 L238.0,504.9 L241.0,500.7 L244.0,496.4 L247.0,492.1 L250.0,487.8 L253.0,483.5 L256.0,479.1 L259.0,474.8 L262.0,470.4 L265.0,466.1 L268.0,461.7 L271.0,457.3 L274.0,452.9 L277.0,448.5 L280.0,444.1 L283.0,439.7 L286.0,435.3 L289.0,430.9 L292.0,426.5 L295.0,422.1 L298.0,417.7 L301.0,413.3 L304.0,408.8 L307.0,404.4 L310.0,400.0 L313.0,395.6 L316.0,391.2 L319.0,386.8 L322.0,382.4 L325.0,378.1 L328.0,373.7 L331.0,369.3 L334.0,365.0 L337.0,360.6 L340.0,356.3 L343.0,352.0 L346.0,347.7 L349.0,343.4 L352.0,339.1 L355.0,334.9 L358.0,330.6 L361.0,326.4 L364.0,322.2 L367.0,318.0 L370.0,313.9 L373.0,309.7 L376.0,305.6 L379.0,301.5 L382.0,297.4 L385.0,293.4 L388.0,289.4 L391.0,285.4 L394.0,281.4 L397.0,277.5 L400.0,273.6 L403.0,269.7 L406.0,265.8 L409.0,262.0 L412.0,258.2 L415.0,254.5 L418.0,250.8 L421.0,247.1 L424.0,243.5 L427.0,239.8 L430.0,236.3 L433.0,232.7 L436.0,229.3 L439.0,225.8 L442.0,222.4 L445.0,219.0 L448.0,215.7 L451.0,212.4 L454.0,209.2 L457.0,206.0 L460.0,202.8 L463.0,199.7 L466.0,196.7 L469.0,193.7 L472.0,190.7 L475.0,187.9 L478.0,185.0 L481.0,182.2 L484.0,179.5 L487.0,176.8 L490.0,174.1 L493.0,171.6 L496.0,169.1 L499.0,166.6 L502.0,164.2 L505.0,161.8 L508.0,159.6 L511.0,157.3 L514.0,155.2 L517.0,153.1 L520.0,151.0 L523.0,149.1 L526.0,147.2 L529.0,145.3 L532.0,143.6 L535.0,141.9 L538.0,140.2 L541.0,138.7 L544.0,137.2 L547.0,135.8 L550.0,134.4 L553.0,133.1 L556.0,131.9 L559.0,130.8 L562.0,129.7 L565.0,128.8 L568.0,127.9 L571.0,127.0 L574.0,126.3 L577.0,125.6 L580.0,125.0 L583.0,124.4 L586.0,124.0 L589.0,123.6 L592.0,123.3 L595.0,123.0 L598.0,122.9 L601.0,122.8 L604.0,122.8 L607.0,122.8 L610.0,123.0 L613.0,123.2 L616.0,123.5 L619.0,123.9 L622.0,124.3 L625.0,124.9 L628.0,125.5 L631.0,126.2 L634.0,126.9 L637.0,127.8 L640.0,128.7 L643.0,129.7 L646.0,130.8 L649.0,132.0 L652.0,133.2 L655.0,134.5 L658.0,135.9 L661.0,137.4 L664.0,139.0 L667.0,140.6 L670.0,142.3 L673.0,144.2 L676.0,146.0 L679.0,148.0 L682.0,150.1 L685.0,152.2 L688.0,154.4 L691.0,156.7 L694.0,159.1 L697.0,161.5 L700.0,164.1 L703.0,166.7 L706.0,169.4 L709.0,172.2 L712.0,175.1 L715.0,178.1 L718.0,181.1 L721.0,184.3 L724.0,187.5 L727.0,190.8 L730.0,194.2 L733.0,197.6 L736.0,201.2 L739.0,204.8 L742.0,208.5 L745.0,212.3 L748.0,216.2 L751.0,220.1 L754.0,224.1 L757.0,228.2 L760.0,232.4 L763.0,236.7 L766.0,241.0 L769.0,245.4 L772.0,249.8 L775.0,254.4 L778.0,259.0 L781.0,263.6 L784.0,268.4 L787.0,273.2 L790.0,278.0 L793.0,283.0 L796.0,288.0 L799.0,293.0 L802.0,298.2 L805.0,303.4 L808.0,308.6 L811.0,313.9 L814.0,319.3 L817.0,324.7 L820.0,330.2 L823.0,335.7 L826.0,341.3 L829.0,347.0 L832.0,352.7 L835.0,358.4 L838.0,364.2 L841.0,370.1 L844.0,376.0 L847.0,381.9 L850.0,387.9 L853.0,394.0 L856.0,400.1 L859.0,406.2 L862.0,412.4 L865.0,418.6 L868.0,424.9 L871.0,431.2 L874.0,437.6 L877.0,444.0 L880.0,450.4 L883.0,456.8 L886.0,463.3 L889.0,469.9 L892.0,476.4 L895.0,483.0 L898.0,489.6 L901.0,496.2 L904.0,502.9 L907.0,509.6 L910.0,516.3 L913.0,523.0 L916.0,529.8 L919.0,536.5 L922.0,543.3 L925.0,550.1 L928.0,556.9 L931.0,563.7 L934.0,570.6 L937.0,577.4 L940.0,584.3 L943.0,591.1 L946.0,598.0 L949.0,604.8 L952.0,611.7 L955.0,618.6 L958.0,625.4 L961.0,632.3 L964.0,639.1 L967.0,646.0 L970.0,652.8 L973.0,659.7 L976.0,666.5 L979.0,673.3 L982.0,680.1 L985.0,686.9 L988.0,693.7 L991.0,700.4 L994.0,707.2 L997.0,713.9 L1000.0,720.6 L1003.0,727.3 L1006.0,733.9 L1009.0,740.6 L1012.0,747.2 L1015.0,753.8 L1018.0,760.3 L1021.0,766.8 L1024.0,773.3 L1027.0,779.8 L1030.0,786.2 L1033.0,792.6 L1036.0,798.9 L1039.0,805.2 L1042.0,811.5 L1045.0,817.7 L1048.0,823.9 L1051.0,830.0 L1054.0,836.1 L1057.0,842.1 L1060.0,848.1 L1063.0,854.0 L1066.0,859.9 L1069.0,865.8 L1072.0,871.5 L1075.0,877.3 L1078.0,882.9 L1081.0,888.5 L1084.0,894.1 L1087.0,899.6 L1090.0,905.0 L1093.0,910.3 L1096.0,915.6 L1099.0,920.9 L1102.0,926.0 L1105.0,931.1 L1108.0,936.2 L1111.0,941.2 L1114.0,946.1 L1117.0,951.0 L1120.0,955.8 L1123.0,960.5 L1126.0,965.2 L1129.0,969.8 L1132.0,974.3 L1135.0,978.8 L1138.0,983.2 L1141.0,987.6 L1144.0,991.9 L1147.0,996.1 L1150.0,1000.3 L1153.0,1004.4 L1156.0,1008.4 L1159.0,1012.4 L1162.0,1016.3 L1165.0,1020.2 L1168.0,1024.0 L1171.0,1027.7 L1174.0,1031.4 L1177.0,1035.0 L1180.0,1038.5 L1183.0,1042.0 L1186.0,1045.4 L1189.0,1048.8 L1192.0,1052.0 L1195.0,1055.3 L1198.0,1058.4 L1201.0,1061.5 L1204.0,1064.6 L1207.0,1067.5 L1210.0,1070.4 L1213.0,1073.3 L1216.0,1076.1 L1219.0,1078.8 L1222.0,1081.4 L1225.0,1084.0 L1228.0,1086.6 L1231.0,1089.1 L1234.0,1091.5 L1237.0,1093.9 L1240.0,1096.2 L1243.0,1098.5 L1246.0,1100.7 L1249.0,1102.9 L1252.0,1105.0 L1255.0,1107.1 L1258.0,1109.1 L1261.0,1111.1 L1264.0,1113.0 L1267.0,1114.9 L1270.0,1116.8 L1273.0,1118.6 L1276.0,1120.3 L1279.0,1122.1 L1282.0,1123.8 L1285.0,1125.4 L1288.0,1127.0 L1291.0,1128.6 L1294.0,1130.2 L1297.0,1131.7 L1300.0,1133.2 L1303.0,1134.6 L1306.0,1136.0 L1309.0,1137.4 L1312.0,1138.8 L1315.0,1140.1 L1318.0,1141.5 L1321.0,1142.8 L1324.0,1144.0 L1327.0,1145.3 L1330.0,1146.5 L1333.0,1147.6 L1336.0,1148.8 L1339.0,1149.9 L1342.0,1151.1 L1345.0,1152.1 L1348.0,1153.2 L1351.0,1154.2 L1354.0,1155.3 L1357.0,1156.3 L1360.0,1157.2 L1363.0,1158.2 L1366.0,1159.1 L1369.0,1160.0 L1372.0,1160.9 L1375.0,1161.7 L1378.0,1162.6 L1381.0,1163.4 L1384.0,1164.2 L1387.0,1164.9 L1390.0,1165.7 L1393.0,1166.4 L1396.0,1167.1 L1399.0,1167.8 L1402.0,1168.5 L1405.0,1169.1 L1408.0,1169.7 L1411.0,1170.3 L1414.0,1170.9 L1417.0,1171.5 L1420.0,1172.0 L1423.0,1172.6 L1426.0,1173.1 L1429.0,1173.6 L1432.0,1174.1 L1435.0,1174.5 L1438.0,1175.0 L1441.0,1175.4 L1444.0,1175.8 L1447.0,1176.2 L1450.0,1176.6 L1453.0,1176.9 L1456.0,1177.3 L1459.0,1177.6 L1462.0,1177.9 L1465.0,1178.2 L1468.0,1178.5 L1471.0,1178.8 L1474.0,1179.0 L1477.0,1179.3 L1480.0,1179.5 L1483.0,1179.7 L1486.0,1179.9 L1489.0,1180.1 L1492.0,1180.3 L1495.0,1180.4 L1498.0,1180.6 L1501.0,1180.7 L1504.0,1180.8 L1507.0,1180.9 L1510.0,1181.0 L1513.0,1181.1 L1516.0,1181.2 L1519.0,1181.3 L1522.0,1181.3 L1525.0,1181.4 L1528.0,1181.4 L1531.0,1181.4 L1534.0,1181.5 L1537.0,1181.5 L1540.0,1181.5 L1543.0,1181.4 L1546.0,1181.4 L1549.0,1181.4 L1552.0,1181.4 L1555.0,1181.3 L1558.0,1181.3 L1561.0,1181.2 L1564.0,1181.1 L1567.0,1181.0 L1570.0,1181.0 L1573.0,1180.9 L1576.0,1180.8 L1579.0,1180.7 L1582.0,1180.6 L1585.0,1180.4 L1588.0,1180.3 L1591.0,1180.2 L1594.0,1180.1 L1597.0,1179.9 L1600.0,1179.8 L1603.0,1179.6 L1606.0,1179.5 L1609.0,1179.3 L1612.0,1179.2 L1615.0,1179.0 L1618.0,1178.9 L1621.0,1178.7 L1624.0,1178.5 L1627.0,1178.4 L1630.0,1178.2 L1633.0,1178.0 L1636.0,1177.8 L1639.0,1177.6 L1642.0,1177.5 L1645.0,1177.3 L1648.0,1177.1 L1651.0,1176.9 L1654.0,1176.7 L1657.0,1176.5 L1660.0,1176.4 L1663.0,1176.2 L1666.0,1176.0 L1669.0,1175.8 L1672.0,1175.6 L1675.0,1175.5 L1678.0,1175.3 L1681.0,1175.1 L1684.0,1174.9 L1687.0,1174.7 L1690.0,1174.6 L1693.0,1174.4 L1696.0,1174.2 L1699.0,1174.1 L1702.0,1173.9 L1705.0,1173.8 L1708.0,1173.6 L1711.0,1173.5 L1714.0,1173.3 L1717.0,1173.2 L1720.0,1173.0 L1723.0,1172.9 L1726.0,1172.8 L1729.0,1172.6 L1732.0,1172.5 L1735.0,1172.4 L1738.0,1172.3 L1741.0,1172.2 L1744.0,1172.0 L1747.0,1171.9 L1750.0,1171.8 L1753.0,1171.7 L1756.0,1171.6 L1759.0,1171.5 L1762.0,1171.4 L1765.0,1171.3 L1768.0,1171.2 L1771.0,1171.1 L1774.0,1171.0 L1777.0,1171.0 L1780.0,1170.9 L1783.0,1170.8 L1786.0,1170.7 L1789.0,1170.6 L1792.0,1170.6 L1795.0,1170.5 L1798.0,1170.4 L1801.0,1170.4 L1804.0,1170.3 L1807.0,1170.2 L1810.0,1170.2 L1813.0,1170.1 L1816.0,1170.0 L1819.0,1170.0 L1822.0,1169.9 L1825.0,1169.9 L1828.0,1169.8 L1831.0,1169.8 L1834.0,1169.7 L1837.0,1169.7 L1840.0,1169.7 L1843.0,1169.6 L1846.0,1169.6 L1849.0,1169.5 L1852.0,1169.5 L1855.0,1169.5 L1858.0,1169.4 L1861.0,1169.4 L1864.0,1169.4 L1867.0,1169.3 L1870.0,1169.3 L1873.0,1169.3 L1876.0,1169.2 L1879.0,1169.2 L1882.0,1169.2 L1885.0,1169.2 L1888.0,1169.2 L1891.0,1169.1 L1894.0,1169.1 L1897.0,1169.1 L1900.0,1169.1 L1903.0,1169.1 L1906.0,1169.0 L1909.0,1169.0 L1912.0,1169.0 L1915.0,1169.0 L1918.0,1169.0 L1921.0,1169.0 L1924.0,1169.0 L1927.0,1168.9 L1930.0,1168.9 L1933.0,1168.9 L1936.0,1168.9 L1939.0,1168.9 L1942.0,1168.9 L1945.0,1168.9 L1948.0,1168.9 L1951.0,1168.9 L1954.0,1168.8 L1957.0,1168.8 L1960.0,1168.8 L1963.0,1168.8 L1966.0,1168.8 L1969.0,1168.8 L1972.0,1168.8 L1975.0,1168.8 L1978.0,1168.8 L1981.0,1168.8 L1984.0,1168.8 L1987.0,1168.7 L1990.0,1168.7 L1993.0,1168.7 L1996.0,1168.7 L1999.0,1168.7 L2002.0,1168.7 L2005.0,1168.7 L2008.0,1168.7 L2011.0,1168.7 L2014.0,1168.6 L2017.0,1168.6 L2020.0,1168.6 L2023.0,1168.6 L2026.0,1168.6 L2029.0,1168.6 L2032.0,1168.5 L2035.0,1168.5 L2038.0,1168.5 L2041.0,1168.5 L2044.0,1168.5 L2047.0,1168.4 L2050.0,1168.4 L2053.0,1168.4 L2056.0,1168.4 L2059.0,1168.3 L2062.0,1168.3 L2065.0,1168.3 L2068.0,1168.3 L2071.0,1168.2 L2074.0,1168.2 L2077.0,1168.2 L2080.0,1168.1 L2083.0,1168.1 L2086.0,1168.0 L2089.0,1168.0 L2092.0,1168.0 L2095.0,1167.9 L2098.0,1167.9 L2101.0,1167.8 L2104.0,1167.8 L2107.0,1167.7 L2110.0,1167.7 L2113.0,1167.6 L2116.0,1167.6 L2119.0,1167.5 L2122.0,1167.4 L2125.0,1167.4 L2128.0,1167.3 L2131.0,1167.2 L2134.0,1167.2 L2137.0,1167.1 L2140.0,1167.0 L2143.0,1167.0 L2146.0,1166.9 L2149.0,1166.8 L2152.0,1166.7 L2155.0,1166.6 L2158.0,1166.5 L2161.0,1166.4 L2164.0,1166.4 L2167.0,1166.3 L2170.0,1166.2 L2173.0,1166.1 L2176.0,1166.0 L2179.0,1165.9 L2182.0,1165.7 L2185.0,1165.6 L2188.0,1165.5 L2191.0,1165.4 L2194.0,1165.3 L2197.0,1165.2 L2200.0,1165.0" stroke="#FF9334"/>
<path d="M223.7,493.8 L226.0,490.5 L229.0,486.2 L232.0,481.9 L235.0,477.6 L238.0,473.3 L241.0,468.9 L244.0,464.6 L247.0,460.2 L250.0,455.8 L253.0,451.4 L256.0,447.0 L259.0,442.6 L262.0,438.2 L265.0,433.7 L268.0,429.3 L271.0,424.8 L274.0,420.4 L277.0,415.9 L280.0,411.5 L283.0,407.0 L286.0,402.5 L289.0,398.1 L292.0,393.6 L295.0,389.1 L298.0,384.7 L301.0,380.2 L304.0,375.7 L307.0,371.3 L310.0,366.8 L313.0,362.4 L316.0,357.9 L319.0,353.5 L322.0,349.1 L325.0,344.7 L328.0,340.3 L331.0,335.9 L334.0,331.5 L337.0,327.1 L340.0,322.7 L343.0,318.4 L346.0,314.1 L349.0,309.7 L352.0,305.4 L355.0,301.2 L358.0,296.9 L361.0,292.7 L364.0,288.4 L367.0,284.2 L370.0,280.0 L373.0,275.9 L376.0,271.7 L379.0,267.6 L382.0,263.5 L385.0,259.5 L388.0,255.4 L391.0,251.4 L394.0,247.4 L397.0,243.5 L400.0,239.5 L403.0,235.6 L406.0,231.8 L409.0,227.9 L412.0,224.1 L415.0,220.4 L418.0,216.7 L421.0,213.0 L424.0,209.3 L427.0,205.7 L430.0,202.1 L433.0,198.5 L436.0,195.0 L439.0,191.6 L442.0,188.2 L445.0,184.8 L448.0,181.4 L451.0,178.1 L454.0,174.9 L457.0,171.7 L460.0,168.5 L463.0,165.4 L466.0,162.4 L469.0,159.3 L472.0,156.4 L475.0,153.5 L478.0,150.6 L481.0,147.8 L484.0,145.0 L487.0,142.3 L490.0,139.7 L493.0,137.1 L496.0,134.5 L499.0,132.1 L502.0,129.6 L505.0,127.3 L508.0,125.0 L511.0,122.7 L514.0,120.6 L517.0,118.4 L520.0,116.4 L523.0,114.4 L526.0,112.5 L529.0,110.6 L532.0,108.8 L535.0,107.1 L538.0,105.4 L541.0,103.8 L544.0,102.3 L547.0,100.9 L550.0,99.5 L553.0,98.2 L556.0,96.9 L559.0,95.8 L562.0,94.7 L565.0,93.7 L568.0,92.7 L571.0,91.9 L574.0,91.1 L577.0,90.4 L580.0,89.8 L583.0,89.2 L586.0,88.8 L589.0,88.4 L592.0,88.1 L595.0,87.8 L598.0,87.7 L601.0,87.6 L604.0,87.6 L607.0,87.7 L610.0,87.9 L613.0,88.1 L616.0,88.4 L619.0,88.8 L622.0,89.3 L625.0,89.8 L628.0,90.5 L631.0,91.2 L634.0,92.0 L637.0,92.8 L640.0,93.8 L643.0,94.8 L646.0,95.9 L649.0,97.1 L652.0,98.4 L655.0,99.7 L658.0,101.1 L661.0,102.7 L664.0,104.2 L667.0,105.9 L670.0,107.7 L673.0,109.5 L676.0,111.4 L679.0,113.4 L682.0,115.4 L685.0,117.6 L688.0,119.8 L691.0,122.1 L694.0,124.5 L697.0,127.0 L700.0,129.5 L703.0,132.2 L706.0,134.9 L709.0,137.7 L712.0,140.5 L715.0,143.5 L718.0,146.5 L721.0,149.6 L724.0,152.8 L727.0,156.1 L730.0,159.5 L733.0,162.9 L736.0,166.5 L739.0,170.1 L742.0,173.7 L745.0,177.5 L748.0,181.4 L751.0,185.3 L754.0,189.3 L757.0,193.4 L760.0,197.6 L763.0,201.9 L766.0,206.2 L769.0,210.6 L772.0,215.1 L775.0,219.7 L778.0,224.4 L781.0,229.2 L784.0,234.0 L787.0,238.9 L790.0,243.9 L793.0,249.0 L796.0,254.1 L799.0,259.4 L802.0,264.7 L805.0,270.1 L808.0,275.5 L811.0,281.0 L814.0,286.6 L817.0,292.3 L820.0,298.0 L823.0,303.8 L826.0,309.7 L829.0,315.6 L832.0,321.6 L835.0,327.6 L838.0,333.8 L841.0,339.9 L844.0,346.1 L847.0,352.4 L850.0,358.8 L853.0,365.2 L856.0,371.6 L859.0,378.1 L862.0,384.6 L865.0,391.2 L868.0,397.9 L871.0,404.5 L874.0,411.2 L877.0,417.8 L880.0,424.5 L883.0,431.1 L886.0,437.7 L889.0,444.3 L892.0,450.9 L895.0,457.5 L898.0,464.1 L901.0,470.7 L904.0,477.4 L907.0,484.0 L910.0,490.7 L913.0,497.4 L916.0,504.1 L919.0,510.8 L922.0,517.6 L925.0,524.4 L928.0,531.2 L931.0,538.0 L934.0,544.8 L937.0,551.6 L940.0,558.4 L943.0,565.3 L946.0,572.1 L949.0,579.0 L952.0,585.8 L955.0,592.7 L958.0,599.6 L961.0,606.4 L964.0,613.3 L967.0,620.2 L970.0,627.0 L973.0,633.9 L976.0,640.7 L979.0,647.6 L982.0,654.4 L985.0,661.2 L988.0,668.1 L991.0,674.9 L994.0,681.7 L997.0,688.4 L1000.0,695.2 L1003.0,701.9 L1006.0,708.6 L1009.0,715.3 L1012.0,722.0 L1015.0,728.7 L1018.0,735.3 L1021.0,741.9 L1024.0,748.5 L1027.0,755.0 L1030.0,761.5 L1033.0,768.0 L1036.0,774.5 L1039.0,780.9 L1042.0,787.3 L1045.0,793.6 L1048.0,799.9 L1051.0,806.2 L1054.0,812.4 L1057.0,818.6 L1060.0,824.8 L1063.0,830.9 L1066.0,836.9 L1069.0,842.9 L1072.0,848.9 L1075.0,854.8 L1078.0,860.7 L1081.0,866.5 L1084.0,872.2 L1087.0,877.9 L1090.0,883.6 L1093.0,889.2 L1096.0,894.7 L1099.0,900.2 L1102.0,905.6 L1105.0,910.9 L1108.0,916.2 L1111.0,921.4 L1114.0,926.6 L1117.0,931.6 L1120.0,936.6 L1123.0,941.6 L1126.0,946.4 L1129.0,951.2 L1132.0,956.0 L1135.0,960.6 L1138.0,965.2 L1141.0,969.7 L1144.0,974.2 L1147.0,978.5 L1150.0,982.8 L1153.0,987.1 L1156.0,991.2 L1159.0,995.3 L1162.0,999.4 L1165.0,1003.3 L1168.0,1007.2 L1171.0,1011.1 L1174.0,1014.8 L1177.0,1018.5 L1180.0,1022.1 L1183.0,1025.7 L1186.0,1029.2 L1189.0,1032.6 L1192.0,1036.0 L1195.0,1039.2 L1198.0,1042.5 L1201.0,1045.6 L1204.0,1048.7 L1207.0,1051.8 L1210.0,1054.7 L1213.0,1057.6 L1216.0,1060.5 L1219.0,1063.3 L1222.0,1066.0 L1225.0,1068.7 L1228.0,1071.3 L1231.0,1073.9 L1234.0,1076.4 L1237.0,1078.8 L1240.0,1081.2 L1243.0,1083.6 L1246.0,1085.9 L1249.0,1088.1 L1252.0,1090.3 L1255.0,1092.5 L1258.0,1094.6 L1261.0,1096.6 L1264.0,1098.7 L1267.0,1100.6 L1270.0,1102.6 L1273.0,1104.4 L1276.0,1106.3 L1279.0,1108.1 L1282.0,1109.8 L1285.0,1111.5 L1288.0,1113.2 L1291.0,1114.8 L1294.0,1116.4 L1297.0,1118.0 L1300.0,1119.5 L1303.0,1121.0 L1306.0,1122.4 L1309.0,1123.8 L1312.0,1125.1 L1315.0,1126.4 L1318.0,1127.7 L1321.0,1129.0 L1324.0,1130.2 L1327.0,1131.3 L1330.0,1132.5 L1333.0,1133.6 L1336.0,1134.6 L1339.0,1135.7 L1342.0,1136.7 L1345.0,1137.6 L1348.0,1138.6 L1351.0,1139.5 L1354.0,1140.4 L1357.0,1141.2 L1360.0,1142.0 L1363.0,1142.8 L1366.0,1143.6 L1369.0,1144.3 L1372.0,1145.0 L1375.0,1145.7 L1378.0,1146.4 L1381.0,1147.0 L1384.0,1147.6 L1387.0,1148.2 L1390.0,1148.8 L1393.0,1149.3 L1396.0,1149.9 L1399.0,1150.4 L1402.0,1150.9 L1405.0,1151.3 L1408.0,1151.8 L1411.0,1152.2 L1414.0,1152.6 L1417.0,1153.0 L1420.0,1153.4 L1423.0,1153.8 L1426.0,1154.1 L1429.0,1154.5 L1432.0,1154.8 L1435.0,1155.1 L1438.0,1155.4 L1441.0,1155.7 L1444.0,1156.0 L1447.0,1156.2 L1450.0,1156.5 L1453.0,1156.8 L1456.0,1157.0 L1459.0,1157.2 L1462.0,1157.5 L1465.0,1157.7 L1468.0,1157.9 L1471.0,1158.1 L1474.0,1158.3 L1477.0,1158.5 L1480.0,1158.7 L1483.0,1158.9 L1486.0,1159.1 L1489.0,1159.3 L1492.0,1159.5 L1495.0,1159.7 L1498.0,1159.8 L1501.0,1160.0 L1504.0,1160.2 L1507.0,1160.3 L1510.0,1160.5 L1513.0,1160.7 L1516.0,1160.8 L1519.0,1161.0 L1522.0,1161.1 L1525.0,1161.3 L1528.0,1161.4 L1531.0,1161.5 L1534.0,1161.7 L1537.0,1161.8 L1540.0,1161.9 L1543.0,1162.0 L1546.0,1162.2 L1549.0,1162.3 L1552.0,1162.4 L1555.0,1162.5 L1558.0,1162.6 L1561.0,1162.7 L1564.0,1162.8 L1567.0,1162.9 L1570.0,1163.0 L1573.0,1163.1 L1576.0,1163.1 L1579.0,1163.2 L1582.0,1163.3 L1585.0,1163.4 L1588.0,1163.4 L1591.0,1163.5 L1594.0,1163.6 L1597.0,1163.6 L1600.0,1163.7 L1603.0,1163.8 L1606.0,1163.8 L1609.0,1163.9 L1612.0,1163.9 L1615.0,1163.9 L1618.0,1164.0 L1621.0,1164.0 L1624.0,1164.1 L1627.0,1164.1 L1630.0,1164.1 L1633.0,1164.2 L1636.0,1164.2 L1639.0,1164.2 L1642.0,1164.2 L1645.0,1164.2 L1648.0,1164.3 L1651.0,1164.3 L1654.0,1164.3 L1657.0,1164.3 L1660.0,1164.3 L1663.0,1164.3 L1666.0,1164.3 L1669.0,1164.3 L1672.0,1164.3 L1675.0,1164.3 L1678.0,1164.3 L1681.0,1164.3 L1684.0,1164.2 L1687.0,1164.2 L1690.0,1164.2 L1693.0,1164.2 L1696.0,1164.2 L1699.0,1164.1 L1702.0,1164.1 L1705.0,1164.1 L1708.0,1164.1 L1711.0,1164.0 L1714.0,1164.0 L1717.0,1164.0 L1720.0,1163.9 L1723.0,1163.9 L1726.0,1163.8 L1729.0,1163.8 L1732.0,1163.7 L1735.0,1163.7 L1738.0,1163.7 L1741.0,1163.6 L1744.0,1163.5 L1747.0,1163.5 L1750.0,1163.4 L1753.0,1163.4 L1756.0,1163.3 L1759.0,1163.3 L1762.0,1163.2 L1765.0,1163.1 L1768.0,1163.1 L1771.0,1163.0 L1774.0,1162.9 L1777.0,1162.9 L1780.0,1162.8 L1783.0,1162.7 L1786.0,1162.7 L1789.0,1162.6 L1792.0,1162.5 L1795.0,1162.4 L1798.0,1162.4 L1801.0,1162.3 L1804.0,1162.2 L1807.0,1162.1 L1810.0,1162.0 L1813.0,1161.9 L1816.0,1161.9 L1819.0,1161.8 L1822.0,1161.7 L1825.0,1161.6 L1828.0,1161.5 L1831.0,1161.4 L1834.0,1161.3 L1837.0,1161.2 L1840.0,1161.2 L1843.0,1161.1 L1846.0,1161.0 L1849.0,1160.9 L1852.0,1160.8 L1855.0,1160.7 L1858.0,1160.6 L1861.0,1160.5 L1864.0,1160.4 L1867.0,1160.3 L1870.0,1160.2 L1873.0,1160.1 L1876.0,1160.0 L1879.0,1159.9 L1882.0,1159.8 L1885.0,1159.7 L1888.0,1159.6 L1891.0,1159.5 L1894.0,1159.4 L1897.0,1159.3 L1900.0,1159.2 L1903.0,1159.1 L1906.0,1159.0 L1909.0,1158.9 L1912.0,1158.8 L1915.0,1158.7 L1918.0,1158.6 L1921.0,1158.5 L1924.0,1158.4 L1927.0,1158.3 L1930.0,1158.2 L1933.0,1158.1 L1936.0,1158.0 L1939.0,1157.9 L1942.0,1157.8 L1945.0,1157.7 L1948.0,1157.6 L1951.0,1157.5 L1954.0,1157.4 L1957.0,1157.3 L1960.0,1157.2 L1963.0,1157.1 L1966.0,1157.0 L1969.0,1156.9 L1972.0,1156.8 L1975.0,1156.7 L1978.0,1156.6 L1981.0,1156.5 L1984.0,1156.4 L1987.0,1156.3 L1990.0,1156.2 L1993.0,1156.1 L1996.0,1156.0 L1999.0,1155.9 L2002.0,1155.8 L2005.0,1155.7 L2008.0,1155.6 L2011.0,1155.5 L2014.0,1155.4 L2017.0,1155.3 L2020.0,1155.3 L2023.0,1155.2 L2026.0,1155.1 L2029.0,1155.0 L2032.0,1154.9 L2035.0,1154.8 L2038.0,1154.7 L2041.0,1154.7 L2044.0,1154.6 L2047.0,1154.5 L2050.0,1154.4 L2053.0,1154.3 L2056.0,1154.3 L2059.0,1154.2 L2062.0,1154.1 L2065.0,1154.0 L2068.0,1154.0 L2071.0,1153.9 L2074.0,1153.8 L2077.0,1153.8 L2080.0,1153.7 L2083.0,1153.6 L2086.0,1153.6 L2089.0,1153.5 L2092.0,1153.5 L2095.0,1153.4 L2098.0,1153.3 L2101.0,1153.3 L2104.0,1153.2 L2107.0,1153.2 L2110.0,1153.1 L2113.0,1153.1 L2116.0,1153.0 L2119.0,1153.0 L2122.0,1152.9 L2125.0,1152.9 L2128.0,1152.9 L2131.0,1152.8 L2134.0,1152.8 L2137.0,1152.8 L2140.0,1152.7 L2143.0,1152.7 L2146.0,1152.7 L2149.0,1152.6 L2152.0,1152.6 L2155.0,1152.6 L2158.0,1152.6 L2161.0,1152.5 L2164.0,1152.5 L2167.0,1152.5 L2170.0,1152.5 L2173.0,1152.5 L2176.0,1152.5 L2179.0,1152.5 L2182.0,1152.5 L2185.0,1152.5 L2188.0,1152.5 L2191.0,1152.5 L2194.0,1152.5 L2197.0,1152.5 L2200.0,1152.5" stroke="#A0B6D6"/>
</g>
<g fill="none" stroke="#000" stroke-width="12.8"><path d="M386.0,372.3 L619.7,91.75" stroke-linecap="butt"/><path d="M578.1,107.0 L619.7,91.75 L612.7,135.5" stroke-linecap="round" stroke-linejoin="miter" stroke-miterlimit="10"/></g>
<g font-size="59" text-anchor="end">
<text transform="translate(170.6,1250.5) scale(1,1.035)">0</text>
<text transform="translate(170.6,1011.9) scale(1,1.035)">0.1</text>
<text transform="translate(170.6,773.3) scale(1,1.035)">0.2</text>
<text transform="translate(170.6,534.6) scale(1,1.035)">0.3</text>
<text transform="translate(170.6,296.0) scale(1,1.035)">0.4</text>
<text transform="translate(170.6,57.4) scale(1,1.035)">0.5</text>
</g>
<g font-size="59" text-anchor="middle">
<text transform="translate(220.3,1319.8) scale(1,1.035)">250</text>
<text transform="translate(503.1,1319.8) scale(1,1.035)">260</text>
<text transform="translate(785.9,1319.8) scale(1,1.035)">270</text>
<text transform="translate(1068.7,1319.8) scale(1,1.035)">280</text>
<text transform="translate(1351.5,1319.8) scale(1,1.035)">290</text>
<text transform="translate(1634.3,1319.8) scale(1,1.035)">300</text>
<text transform="translate(1917.1,1319.8) scale(1,1.035)">310</text>
<text transform="translate(2199.9,1319.8) scale(1,1.035)">320</text>
</g>
<text transform="translate(17.4,659) scale(1.098,1.043)" font-size="68.5" font-weight="bold">A</text>
<text transform="translate(1108.9,1416.2)" font-size="76" font-weight="bold" style="font-family:'Liberation Serif','DejaVu Serif',serif">λ</text>
<text transform="translate(1163.5,1414)" font-size="68.5" font-weight="bold">(nm)</text>
</svg></body></html>
